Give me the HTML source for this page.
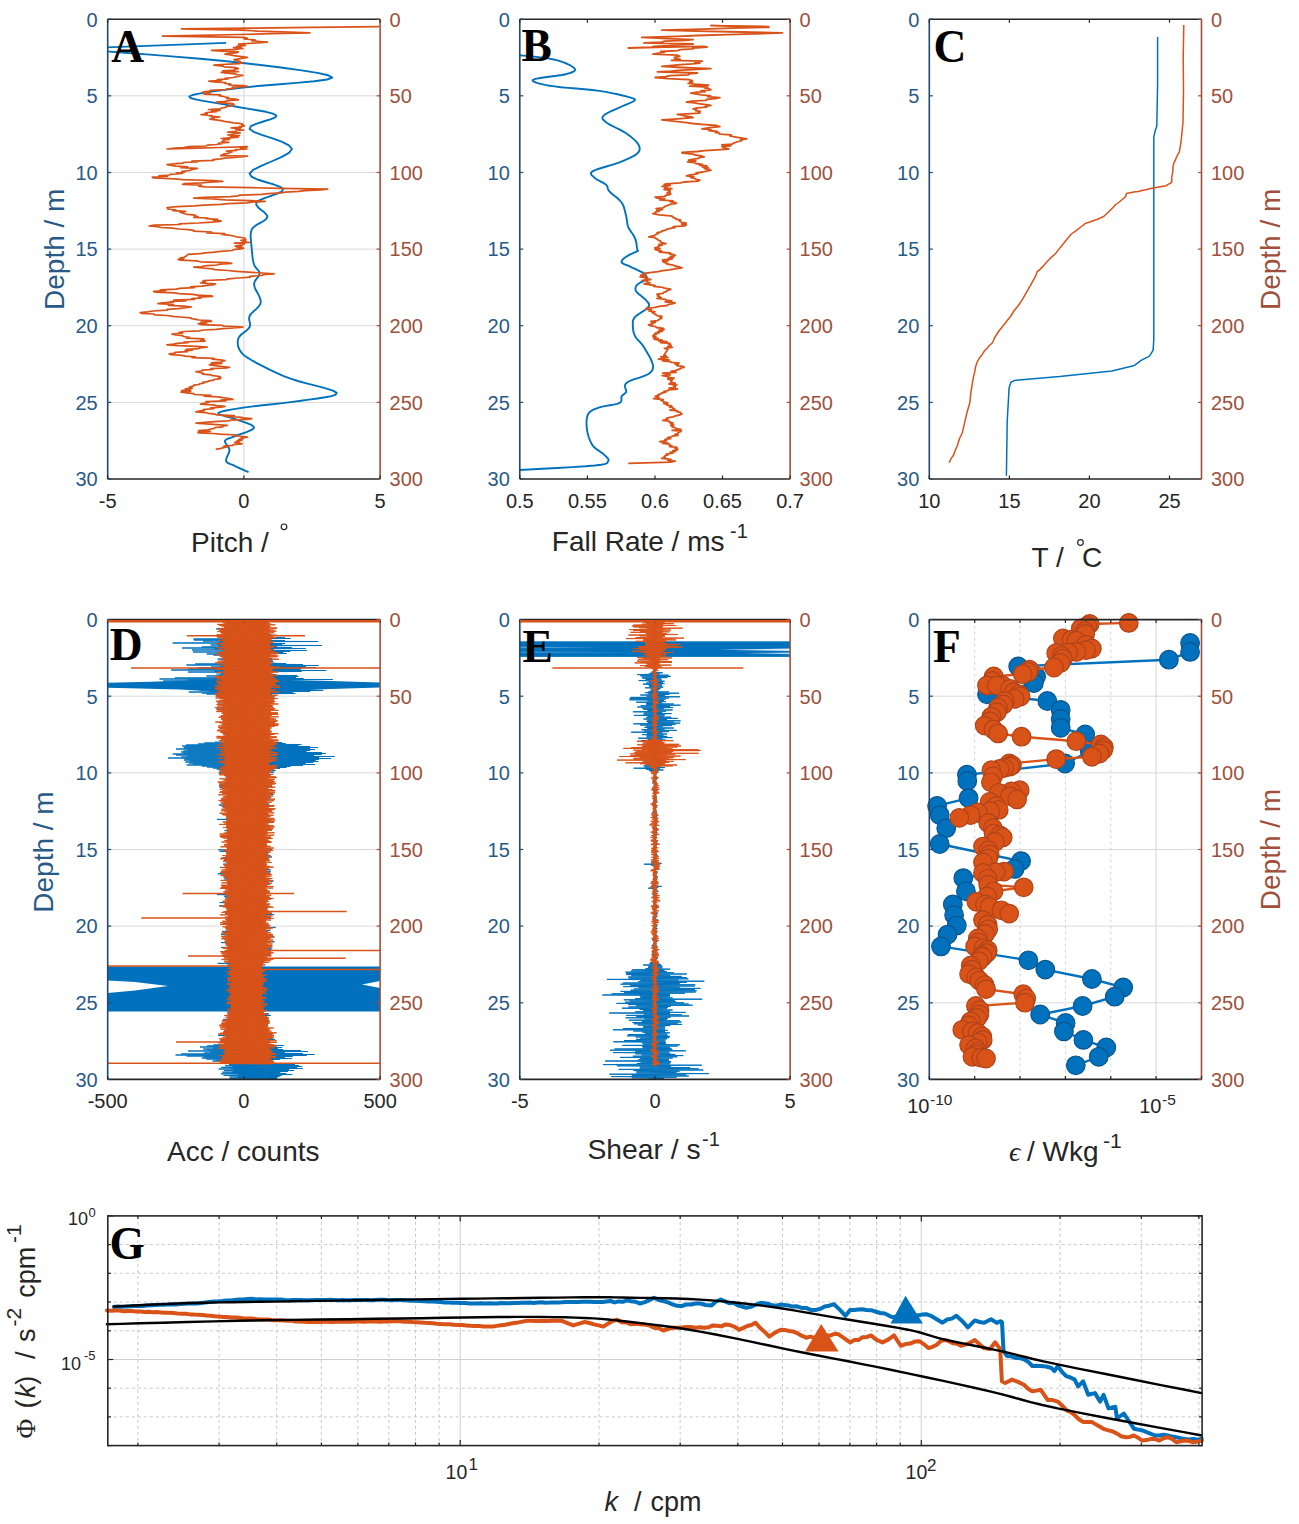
<!DOCTYPE html><html><head><meta charset="utf-8"><style>html,body{margin:0;padding:0;background:#fff;overflow:hidden;width:1299px;height:1524px;}svg{display:block;}</style></head><body><svg width="1299" height="1524" viewBox="0 0 1299 1524" font-family="Liberation Sans, sans-serif">
<rect width="1299" height="1524" fill="#fff"/>
<defs><clipPath id="cA"><rect x="107.7" y="19.2" width="272.4" height="459.8"/></clipPath><clipPath id="cB"><rect x="519.8" y="19.2" width="270.3" height="459.8"/></clipPath><clipPath id="cC"><rect x="929.3" y="19.2" width="272.2" height="459.8"/></clipPath></defs>
<line x1="107.7" y1="95.8" x2="380.1" y2="95.8" stroke="#d9d9d9" stroke-width="1"/><line x1="107.7" y1="172.5" x2="380.1" y2="172.5" stroke="#d9d9d9" stroke-width="1"/><line x1="107.7" y1="249.1" x2="380.1" y2="249.1" stroke="#d9d9d9" stroke-width="1"/><line x1="107.7" y1="325.7" x2="380.1" y2="325.7" stroke="#d9d9d9" stroke-width="1"/><line x1="107.7" y1="402.4" x2="380.1" y2="402.4" stroke="#d9d9d9" stroke-width="1"/><line x1="243.9" y1="19.2" x2="243.9" y2="479.0" stroke="#d4d4d4" stroke-width="1" />
<g clip-path="url(#cA)">
<polyline points="226.1,42.9 66.5,48.9" fill="none" stroke="#0072BD" stroke-width="1.9" stroke-linejoin="round" />
<polyline points="66.5,50.3 69.8,50.3 73.4,50.2 78.1,50.1 84.7,50.2 94.0,50.6 106.7,51.4 124.4,52.7 146.7,54.4 171.7,56.4 197.4,58.5 221.8,60.8 242.9,63.0 262.6,65.3 282.7,67.8 301.6,70.4 317.4,72.9 328.2,75.3 332.2,77.5 327.2,79.5 314.3,81.2 296.5,82.9 276.6,84.5 257.8,86.0 242.9,87.6 230.8,89.1 218.9,90.6 208.0,92.1 198.9,93.6 192.4,95.0 189.3,96.5 190.5,98.0 195.5,99.4 203.1,100.9 212.1,102.4 221.3,103.9 229.5,105.4 237.8,107.0 247.4,108.6 257.1,110.2 266.0,111.8 272.8,113.6 276.4,115.5 275.4,117.4 270.3,119.4 263.3,121.5 256.1,123.8 250.9,126.2 249.6,128.9 253.6,131.8 261.7,134.9 271.8,138.2 281.6,141.7 289.0,145.3 292.0,149.0 289.0,152.9 281.3,157.1 271.4,161.5 261.2,165.8 253.2,169.9 249.6,173.5 251.5,176.7 257.4,179.5 265.4,182.0 273.6,184.4 280.1,186.8 283.1,189.1 281.7,191.5 277.2,193.7 271.1,195.9 264.6,198.1 259.3,200.3 256.3,202.5 256.3,204.9 258.2,207.4 261.2,209.9 264.3,212.3 266.7,214.8 267.4,217.1 266.2,219.1 263.6,221.0 260.3,222.8 256.9,224.7 253.8,226.9 251.8,229.3 250.9,232.3 250.6,235.6 250.7,239.2 251.1,242.8 251.5,246.3 251.8,249.4 252.0,252.3 252.3,255.1 252.6,257.7 253.0,260.2 253.5,262.5 254.1,264.6 254.9,266.4 256.1,267.9 257.3,269.3 258.5,270.6 259.3,271.9 259.6,273.5 259.2,275.1 258.1,276.8 256.8,278.5 255.4,280.4 254.4,282.4 254.1,284.7 254.7,287.3 256.0,290.3 257.8,293.4 259.4,296.6 260.5,299.7 260.8,302.5 259.8,305.0 257.9,307.4 255.6,309.6 253.1,311.8 251.0,313.9 249.6,315.9 249.1,317.9 249.2,319.8 249.6,321.6 250.0,323.4 250.1,325.2 249.6,327.1 248.2,328.9 246.2,330.7 243.9,332.5 241.6,334.3 239.6,336.2 238.4,338.2 237.9,340.4 237.7,342.6 237.9,344.9 238.4,347.2 239.4,349.5 240.7,351.6 242.3,353.6 244.2,355.4 246.5,357.1 249.3,358.8 252.5,360.7 256.3,362.8 260.7,365.2 265.6,367.7 271.1,370.4 277.0,373.1 283.2,375.8 289.8,378.4 297.8,381.0 307.5,383.6 317.5,386.2 326.7,388.6 333.5,390.9 336.7,392.9 335.7,394.6 331.6,396.1 325.2,397.3 317.4,398.5 309.0,399.6 300.9,400.8 292.5,401.9 282.7,403.1 272.5,404.2 262.3,405.3 253.0,406.4 245.1,407.4 238.5,408.4 232.5,409.4 227.3,410.3 223.0,411.2 220.0,412.1 218.3,413.0 218.4,413.9 220.2,414.8 223.2,415.6 226.8,416.5 230.6,417.5 234.0,418.6 237.5,419.9 241.8,421.3 246.2,422.9 250.2,424.4 253.0,426.0 254.1,427.5 252.9,429.1 249.9,430.7 245.8,432.3 241.3,433.8 237.1,435.2 234.0,436.5 231.7,437.4 229.7,438.1 228.0,438.7 226.6,439.3 225.6,440.0 225.0,440.9 225.1,442.1 225.8,443.5 226.9,445.0 228.1,446.6 229.0,448.2 229.5,449.9 229.3,451.7 228.5,453.7 227.6,455.7 226.7,457.7 226.1,459.5 226.1,461.0 226.7,462.1 227.7,462.9 228.9,463.5 230.4,464.1 232.1,464.7 234.0,465.5 236.2,466.6 238.8,467.8 241.7,469.1 244.5,470.4 246.8,471.4 248.5,472.2" fill="none" stroke="#0072BD" stroke-width="1.9" stroke-linejoin="round" />
<polyline points="379.1,26.6 311.6,27.4 249.9,28.1 181.5,28.8 242.9,30.2 257.6,31.1 289.2,32.0 309.9,32.9 271.0,33.7 239.0,34.5 199.1,35.4 162.5,36.2 242.9,37.3 247.2,38.2 244.1,39.0 255.0,39.8 251.8,40.7 259.6,41.5 267.4,42.2 253.6,43.1 238.4,44.0 239.1,44.8 245.6,45.5 236.6,46.3 241.4,47.0 233.5,47.7 242.9,48.5 235.6,49.4 211.6,50.3 221.5,51.1 238.4,51.8 237.1,52.6 229.3,53.3 225.0,54.1 230.6,54.9 234.0,55.7 241.8,56.6 247.4,57.4 242.7,58.2 238.8,58.9 234.0,59.7 236.2,60.5 240.1,61.3 239.2,62.2 242.9,63.0 239.4,63.7 221.4,64.5 213.9,65.2 223.4,66.1 224.2,66.9 235.9,67.7 238.4,68.6 234.6,69.3 234.5,70.1 222.8,70.8 238.4,71.6 221.1,72.3 225.0,73.0 235.2,73.8 236.2,74.5 242.9,75.3 240.0,76.0 235.9,76.8 233.2,77.5 225.0,78.3 228.0,79.0 217.3,79.7 221.4,80.5 208.9,81.2 213.9,82.0 225.7,82.7 225.0,83.5 230.9,84.2 228.9,85.0 243.5,85.7 247.4,86.4 232.4,87.2 235.8,88.0 228.2,88.8 225.1,89.6 210.3,90.4 209.6,91.2 202.7,92.0 205.9,92.7 210.0,93.4 204.1,94.2 220.6,94.9 218.9,95.6 222.6,96.3 225.4,97.0 228.7,97.7 226.5,98.4 235.4,99.1 238.4,99.8 228.5,100.6 225.1,101.3 216.1,102.1 221.8,102.8 232.5,103.6 234.0,104.3 231.4,105.0 232.5,105.8 226.6,106.5 225.6,107.3 221.6,108.0 220.0,108.8 208.6,109.5 220.2,110.3 211.5,111.0 216.6,111.7 207.1,112.5 204.9,113.2 207.3,114.0 201.0,114.7 212.0,115.5 209.8,116.2 219.9,117.0 212.1,117.7 214.1,118.4 209.8,119.2 216.1,119.9 221.3,120.7 224.4,121.4 229.5,122.2 233.9,122.9 241.2,123.7 242.9,124.4 241.8,125.1 244.4,125.8 239.8,126.5 241.6,127.2 231.2,127.9 240.5,128.6 235.3,129.3 243.8,130.0 236.3,130.7 236.0,131.4 227.8,132.2 240.2,132.9 233.3,133.6 233.3,134.3 227.7,135.0 239.5,135.7 230.7,136.4 238.2,137.1 229.5,137.8 221.2,138.5 229.5,139.3 223.7,140.0 223.6,140.8 222.0,141.5 228.8,142.3 218.7,143.0 221.8,143.7 216.1,144.5 207.5,145.2 205.6,146.0 188.7,146.7 184.0,147.5 175.0,148.2 167.0,149.0 198.1,148.2 220.5,147.5 247.4,146.7 245.5,147.5 240.4,148.2 247.0,149.0 235.3,149.7 236.7,150.4 226.5,151.2 232.0,151.9 229.5,152.7 227.8,153.4 223.5,154.2 222.8,154.9 220.6,155.7 247.4,156.1 240.5,156.8 235.0,157.5 224.6,158.2 220.7,158.9 212.9,159.6 214.1,160.3 191.9,161.1 197.3,161.8 183.1,162.5 183.1,163.2 173.6,163.9 167.0,164.6 171.5,165.3 175.9,166.1 187.7,166.8 180.7,167.6 197.6,168.3 193.8,169.1 190.4,169.8 190.4,170.5 181.9,171.3 184.9,172.0 176.3,172.8 182.7,173.5 170.3,174.3 169.4,175.0 159.0,175.8 167.4,176.5 152.3,177.2 153.6,178.0 175.0,178.8 182.8,179.7 212.9,180.5 222.8,181.3 209.2,182.1 201.4,182.8 184.8,183.6 182.7,184.4 201.5,185.2 198.6,186.1 204.9,186.9 251.2,187.7 280.3,188.4 327.7,189.1 320.4,189.9 304.7,190.6 299.0,191.4 285.3,192.1 281.1,192.9 268.2,193.6 261.6,194.4 239.5,195.1 238.4,195.8 230.3,196.6 204.2,197.3 193.8,198.1 212.8,198.9 224.9,199.8 250.1,200.6 265.2,201.4 251.5,202.2 246.8,202.9 228.3,203.7 220.9,204.4 203.8,205.2 194.5,205.9 177.5,206.7 167.0,207.5 169.6,208.2 167.4,209.0 175.6,209.8 172.8,210.6 185.6,211.4 179.9,212.1 182.6,212.9 184.8,213.7 187.4,214.4 195.2,215.1 194.3,215.8 198.0,216.5 193.8,217.3 207.9,218.0 206.1,218.7 217.8,219.4 213.3,220.1 221.0,220.8 220.6,221.5 208.4,222.3 198.2,223.0 179.2,223.8 180.3,224.5 154.2,225.2 149.1,226.0 157.7,226.7 161.3,227.5 172.2,228.2 178.8,229.0 188.3,229.7 193.8,230.4 193.4,231.2 211.5,232.0 206.7,232.8 224.8,233.6 221.9,234.4 228.4,235.2 234.0,236.0 236.1,236.8 241.9,237.5 245.1,238.3 244.5,239.0 245.8,239.7 241.0,240.4 245.8,241.1 242.9,241.8 249.5,242.5 234.4,243.2 244.3,244.0 242.4,244.7 242.1,245.4 235.2,246.1 241.6,246.8 237.0,247.5 243.6,248.2 240.7,248.9 233.3,249.7 232.6,250.5 220.6,251.3 214.0,252.1 205.6,252.8 200.5,253.6 187.8,254.4 187.1,255.2 186.5,255.9 185.0,256.6 184.2,257.3 180.0,258.0 183.8,258.7 178.1,259.4 180.4,260.1 196.8,260.9 200.4,261.8 227.1,262.6 231.7,263.4 220.2,264.2 216.8,265.0 207.2,265.7 201.6,266.5 193.8,267.2 202.3,268.0 212.5,268.8 214.9,269.6 227.9,270.5 236.2,271.3 248.3,272.2 262.4,273.0 274.1,273.9 262.9,274.7 262.0,275.5 249.6,276.3 250.4,277.2 238.4,278.0 228.3,278.8 225.9,279.6 204.4,280.5 202.7,281.3 205.5,282.1 200.6,283.0 215.5,283.8 213.9,284.7 207.1,285.4 202.0,286.1 190.6,286.9 194.4,287.6 179.3,288.4 176.3,289.1 160.2,289.9 165.7,290.6 153.6,291.4 155.3,292.1 174.6,292.8 179.1,293.6 192.6,294.3 197.6,295.1 211.6,295.8 212.6,296.5 198.5,297.2 201.4,297.9 191.8,298.7 194.4,299.4 173.8,300.1 186.1,300.8 170.4,301.5 173.2,302.2 162.2,302.9 158.0,303.6 173.7,304.5 168.4,305.3 184.1,306.1 191.5,307.0 184.2,307.8 178.4,308.6 167.1,309.4 167.2,310.2 153.0,311.0 147.5,311.8 140.2,312.6 141.2,313.3 153.6,314.0 154.8,314.8 167.2,315.5 172.9,316.3 180.4,317.0 190.9,317.8 190.7,318.5 196.1,319.3 199.1,320.0 210.8,320.7 211.6,321.5 201.0,322.2 206.7,323.0 198.2,323.7 201.4,324.6 222.5,325.4 223.7,326.2 242.9,327.1 233.3,327.8 223.2,328.6 216.1,329.3 203.6,330.0 199.0,330.8 184.8,331.5 179.2,332.4 182.5,333.2 172.0,334.1 175.9,334.9 182.6,335.7 183.5,336.5 189.4,337.3 186.3,338.1 203.8,338.9 200.5,339.7 204.9,340.5 204.9,341.2 183.9,342.0 188.1,342.7 177.0,343.4 173.6,344.2 167.0,344.9 178.1,345.7 195.8,346.4 207.2,347.2 200.0,347.9 198.7,348.7 186.1,349.4 192.4,350.1 184.9,350.9 187.4,351.6 175.1,352.4 175.3,353.1 169.2,353.9 171.4,354.6 181.6,355.4 185.5,356.1 195.3,356.8 192.1,357.6 214.0,358.3 212.1,359.1 220.6,359.8 225.0,360.6 222.3,361.3 221.3,362.1 211.5,362.8 221.8,363.5 210.2,364.3 209.4,365.0 216.8,365.8 222.6,366.5 229.5,367.3 227.0,368.0 210.7,368.7 212.8,369.5 202.0,370.2 201.6,371.0 196.0,371.7 199.3,372.5 203.4,373.3 202.6,374.1 210.8,374.9 212.6,375.7 220.2,376.5 220.6,377.3 218.3,378.0 220.6,378.7 213.8,379.5 213.7,380.2 209.0,380.9 207.4,381.6 202.7,382.3 204.2,383.0 199.4,383.8 199.5,384.5 193.8,385.2 193.9,385.9 191.3,386.6 189.3,387.4 192.3,388.2 185.3,388.9 190.6,389.7 181.7,390.5 190.8,391.3 181.0,392.1 187.1,392.9 193.5,393.7 194.5,394.5 210.9,395.3 204.1,396.1 218.1,396.9 222.7,397.7 229.5,398.5 232.9,399.3 220.9,400.1 226.0,400.9 206.0,401.7 208.9,402.5 204.2,403.3 200.5,404.1 213.1,404.8 216.4,405.6 225.0,406.3 220.9,407.1 210.7,407.9 213.9,408.7 203.1,409.5 204.4,410.3 198.9,411.1 196.0,411.9 206.1,412.7 208.4,413.4 214.9,414.1 216.9,414.9 234.4,415.6 224.8,416.4 239.5,417.1 243.6,417.9 251.8,418.6 247.4,419.4 231.2,420.1 227.8,420.8 214.4,421.6 205.3,422.3 196.0,423.1 206.4,423.8 216.8,424.6 227.3,425.3 221.6,426.1 222.9,426.8 215.0,427.5 214.5,428.3 210.9,429.0 208.2,429.8 198.5,430.5 210.3,431.3 198.2,432.0 198.1,432.8 213.2,433.5 220.5,434.2 236.1,435.0 233.8,435.7 242.9,436.5 247.4,437.2 241.1,438.0 243.1,438.7 238.8,439.4 241.8,440.2 237.0,440.9 239.4,441.7 234.8,442.4 238.4,443.2 242.1,443.9 233.3,444.7 232.6,445.4 223.9,446.1 227.3,446.9 223.3,447.6 221.2,448.4 216.5,449.1 216.1,449.9" fill="none" stroke="#D95319" stroke-width="1.7" stroke-linejoin="round" />
</g>
<line x1="107.7" y1="19.2" x2="380.1" y2="19.2" stroke="#262626" stroke-width="1.6"/>
<line x1="107.7" y1="479.0" x2="380.1" y2="479.0" stroke="#262626" stroke-width="1.6"/>
<line x1="107.7" y1="19.2" x2="107.7" y2="479.0" stroke="#1f4a70" stroke-width="1.6"/>
<line x1="380.1" y1="19.2" x2="380.1" y2="479.0" stroke="#a0503a" stroke-width="1.6"/>
<line x1="107.7" y1="19.2" x2="111.2" y2="19.2" stroke="#1f4a70" stroke-width="1.2"/>
<line x1="376.6" y1="19.2" x2="380.1" y2="19.2" stroke="#a0503a" stroke-width="1.2"/>
<text x="97.7" y="26.5" fill="#285a88" font-size="20" text-anchor="end" >0</text>
<text x="389.6" y="26.5" fill="#a0503a" font-size="20" text-anchor="start" >0</text>
<line x1="107.7" y1="95.8" x2="111.2" y2="95.8" stroke="#1f4a70" stroke-width="1.2"/>
<line x1="376.6" y1="95.8" x2="380.1" y2="95.8" stroke="#a0503a" stroke-width="1.2"/>
<text x="97.7" y="103.1" fill="#285a88" font-size="20" text-anchor="end" >5</text>
<text x="389.6" y="103.1" fill="#a0503a" font-size="20" text-anchor="start" >50</text>
<line x1="107.7" y1="172.5" x2="111.2" y2="172.5" stroke="#1f4a70" stroke-width="1.2"/>
<line x1="376.6" y1="172.5" x2="380.1" y2="172.5" stroke="#a0503a" stroke-width="1.2"/>
<text x="97.7" y="179.8" fill="#285a88" font-size="20" text-anchor="end" >10</text>
<text x="389.6" y="179.8" fill="#a0503a" font-size="20" text-anchor="start" >100</text>
<line x1="107.7" y1="249.1" x2="111.2" y2="249.1" stroke="#1f4a70" stroke-width="1.2"/>
<line x1="376.6" y1="249.1" x2="380.1" y2="249.1" stroke="#a0503a" stroke-width="1.2"/>
<text x="97.7" y="256.4" fill="#285a88" font-size="20" text-anchor="end" >15</text>
<text x="389.6" y="256.4" fill="#a0503a" font-size="20" text-anchor="start" >150</text>
<line x1="107.7" y1="325.7" x2="111.2" y2="325.7" stroke="#1f4a70" stroke-width="1.2"/>
<line x1="376.6" y1="325.7" x2="380.1" y2="325.7" stroke="#a0503a" stroke-width="1.2"/>
<text x="97.7" y="333.0" fill="#285a88" font-size="20" text-anchor="end" >20</text>
<text x="389.6" y="333.0" fill="#a0503a" font-size="20" text-anchor="start" >200</text>
<line x1="107.7" y1="402.4" x2="111.2" y2="402.4" stroke="#1f4a70" stroke-width="1.2"/>
<line x1="376.6" y1="402.4" x2="380.1" y2="402.4" stroke="#a0503a" stroke-width="1.2"/>
<text x="97.7" y="409.7" fill="#285a88" font-size="20" text-anchor="end" >25</text>
<text x="389.6" y="409.7" fill="#a0503a" font-size="20" text-anchor="start" >250</text>
<line x1="107.7" y1="479.0" x2="111.2" y2="479.0" stroke="#1f4a70" stroke-width="1.2"/>
<line x1="376.6" y1="479.0" x2="380.1" y2="479.0" stroke="#a0503a" stroke-width="1.2"/>
<text x="97.7" y="486.3" fill="#285a88" font-size="20" text-anchor="end" >30</text>
<text x="389.6" y="486.3" fill="#a0503a" font-size="20" text-anchor="start" >300</text>
<line x1="107.7" y1="479.0" x2="107.7" y2="475.5" stroke="#262626" stroke-width="1.2"/>
<line x1="107.7" y1="19.2" x2="107.7" y2="22.7" stroke="#262626" stroke-width="1.2"/>
<text x="107.7" y="508.0" fill="#262626" font-size="20" text-anchor="middle" >-5</text>
<line x1="243.9" y1="479.0" x2="243.9" y2="475.5" stroke="#262626" stroke-width="1.2"/>
<line x1="243.9" y1="19.2" x2="243.9" y2="22.7" stroke="#262626" stroke-width="1.2"/>
<text x="243.9" y="508.0" fill="#262626" font-size="20" text-anchor="middle" >0</text>
<line x1="380.1" y1="479.0" x2="380.1" y2="475.5" stroke="#262626" stroke-width="1.2"/>
<line x1="380.1" y1="19.2" x2="380.1" y2="22.7" stroke="#262626" stroke-width="1.2"/>
<text x="380.1" y="508.0" fill="#262626" font-size="20" text-anchor="middle" >5</text>
<text x="111.3" y="61.8" font-family="Liberation Serif" font-weight="bold" font-size="45.5" fill="#000">A</text>
<text x="191.0" y="551.9" fill="#262626" font-size="28" text-anchor="start" >Pitch /</text>
<circle cx="284" cy="526.8" r="2.8" fill="none" stroke="#262626" stroke-width="1.2"/>
<g clip-path="url(#cB)">
<polyline points="505.5,54.7 506.7,54.7 508.2,54.7 510.0,54.7 512.3,54.7 515.3,54.9 518.9,55.2 523.8,55.6 529.8,56.2 536.4,56.9 543.1,57.7 549.3,58.6 554.7,59.7 559.2,60.9 563.6,62.4 567.5,64.0 570.8,65.7 573.3,67.2 574.7,68.6 575.2,69.7 574.7,70.7 573.4,71.7 571.4,72.5 568.8,73.3 565.8,74.2 561.8,75.0 556.6,75.8 550.9,76.5 545.2,77.3 540.3,78.0 536.8,78.6 534.6,79.2 533.2,79.8 532.6,80.3 532.7,80.8 533.3,81.4 534.6,82.0 536.3,82.7 538.7,83.4 541.7,84.1 545.3,84.9 549.6,85.7 554.7,86.4 560.8,87.2 568.2,87.9 576.3,88.5 584.5,89.3 592.4,90.0 599.3,90.9 605.6,91.9 611.8,93.1 617.5,94.3 622.7,95.5 627.1,96.7 630.6,97.6 632.9,98.3 634.3,98.9 635.0,99.4 635.0,99.8 634.6,100.3 633.9,101.0 632.8,101.7 631.2,102.5 629.1,103.4 626.7,104.3 624.2,105.4 621.6,106.5 618.7,107.9 615.3,109.3 611.8,110.9 608.4,112.5 605.6,114.1 603.8,115.5 602.8,116.7 602.4,117.7 602.5,118.7 603.2,119.7 604.4,120.8 606.0,122.2 608.4,123.8 611.7,125.6 615.4,127.5 619.3,129.4 623.0,131.4 626.1,133.3 628.8,135.2 631.3,137.1 633.6,139.1 635.6,140.9 637.2,142.8 638.4,144.5 639.2,146.1 639.6,147.6 639.7,149.1 639.4,150.5 638.6,152.0 637.3,153.4 635.4,154.9 632.9,156.4 629.9,157.9 626.6,159.4 623.1,160.9 619.4,162.4 615.1,163.9 610.1,165.4 604.7,167.0 599.7,168.5 595.5,169.9 592.6,171.3 591.2,172.5 590.9,173.7 591.4,174.8 592.4,175.8 593.6,176.9 594.8,178.0 596.3,179.1 598.2,180.2 600.4,181.3 602.5,182.4 604.5,183.6 606.0,184.7 606.9,185.7 607.4,186.7 607.6,187.8 607.9,188.8 608.4,190.0 609.4,191.4 611.0,193.0 613.1,194.7 615.4,196.5 617.8,198.5 619.9,200.5 621.6,202.5 622.9,204.7 623.8,206.9 624.5,209.2 625.1,211.6 625.6,213.8 626.1,215.9 626.5,217.9 626.8,219.8 627.1,221.7 627.3,223.5 627.7,225.3 628.3,227.1 629.2,229.0 630.4,230.8 631.7,232.7 633.0,234.5 634.1,236.4 635.0,238.3 635.7,240.2 636.2,242.3 636.6,244.4 636.8,246.4 637.1,248.1 637.3,249.4 637.5,250.2 637.8,250.6 638.1,250.6 638.2,250.6 637.9,250.8 637.3,251.2 636.0,251.9 634.1,252.7 632.0,253.7 629.7,254.7 627.7,255.8 626.1,256.7 624.8,257.7 623.6,258.6 622.6,259.6 621.9,260.5 621.5,261.5 621.6,262.3 622.3,263.1 623.5,263.8 625.0,264.5 626.8,265.2 628.7,265.9 630.6,266.8 632.7,267.8 635.1,268.9 637.7,270.1 640.2,271.3 642.3,272.4 644.0,273.5 645.1,274.5 645.9,275.4 646.5,276.4 646.7,277.3 646.6,278.2 646.2,279.1 645.3,280.0 643.8,280.9 641.9,281.8 640.1,282.7 638.4,283.7 637.3,284.7 636.5,285.7 635.9,286.7 635.5,287.8 635.4,288.9 635.6,290.1 636.1,291.4 637.3,292.7 639.0,294.2 641.0,295.8 643.0,297.4 644.8,298.9 646.2,300.3 647.2,301.5 648.1,302.6 648.8,303.6 649.1,304.6 649.0,305.7 648.4,307.0 647.0,308.5 644.7,310.2 642.0,311.9 639.2,313.7 636.8,315.4 635.0,317.0 634.0,318.4 633.3,319.7 632.9,320.9 632.8,322.1 632.8,323.4 632.8,324.8 632.8,326.5 633.0,328.3 633.2,330.2 633.6,332.2 634.2,334.1 635.0,336.0 636.1,337.8 637.5,339.5 639.1,341.2 640.7,342.9 642.4,344.9 644.0,347.2 645.6,349.9 647.4,353.0 649.3,356.2 650.9,359.5 652.2,362.5 652.9,365.0 653.1,367.1 652.9,368.7 652.3,370.2 651.4,371.5 650.1,372.7 648.4,374.0 646.1,375.2 643.0,376.4 639.6,377.6 636.1,378.7 633.0,379.7 630.6,380.7 628.8,381.5 627.5,382.2 626.6,382.9 625.9,383.6 625.4,384.3 625.0,385.1 624.8,386.1 625.1,387.3 625.5,388.5 625.9,389.7 626.2,390.8 626.1,391.8 625.7,392.7 624.9,393.4 624.1,394.1 623.2,394.7 622.3,395.4 621.6,396.3 621.3,397.3 621.4,398.4 621.5,399.6 621.4,400.8 620.8,402.0 619.4,403.0 617.0,403.8 613.7,404.6 609.9,405.2 606.0,405.9 602.3,406.6 599.3,407.4 596.8,408.3 594.6,409.2 592.5,410.1 590.8,411.2 589.3,412.5 588.1,414.1 587.3,416.2 586.8,418.7 586.5,421.4 586.5,424.2 586.7,427.1 587.0,429.8 587.5,432.5 588.2,435.2 589.0,438.0 590.1,440.7 591.3,443.2 592.6,445.4 594.2,447.3 596.2,449.0 598.3,450.4 600.3,451.8 602.2,453.1 603.8,454.3 605.1,455.6 606.4,456.8 607.5,458.0 608.3,459.0 608.6,460.1 608.2,461.0 607.8,461.9 607.4,462.7 606.6,463.4 604.6,464.1 600.9,464.8 594.8,465.5 585.2,466.3 572.1,467.1 557.3,468.0 542.4,468.8 529.1,469.5 518.9,470.0 512.1,470.3 507.4,470.4 504.1,470.5 502.0,470.4 500.4,470.4 498.8,470.4" fill="none" stroke="#0072BD" stroke-width="1.9" stroke-linejoin="round" />
<polyline points="769.0,26.6 710.9,25.7 769.0,27.3 730.8,28.2 702.6,29.2 661.8,30.2 696.8,31.1 742.4,32.0 782.4,32.9 754.3,33.8 727.6,34.6 697.2,35.5 678.0,36.4 641.7,37.3 661.6,38.4 693.1,39.6 685.1,40.4 664.9,41.2 661.6,42.1 644.0,42.9 693.1,44.0 679.9,44.8 669.4,45.6 654.0,46.4 652.1,47.2 628.3,48.0 666.3,47.2 704.2,46.3 707.2,47.1 692.8,48.0 693.0,48.9 680.2,49.7 677.6,50.6 660.7,51.5 664.3,52.3 658.6,53.2 652.9,54.1 677.6,55.2 679.7,56.3 674.3,57.4 675.2,58.5 680.2,59.4 671.5,60.3 702.3,61.2 694.7,62.1 699.8,63.0 692.3,63.8 680.6,64.7 672.3,65.5 661.8,66.4 681.7,67.5 710.9,68.6 697.8,69.4 678.3,70.3 670.8,71.1 657.4,71.9 697.5,73.0 688.8,73.9 688.6,74.8 670.4,75.7 665.4,76.6 655.1,77.5 668.0,78.6 688.6,79.7 692.3,80.6 689.8,81.5 692.6,82.4 688.2,83.3 695.3,84.2 708.6,85.1 689.7,86.1 707.7,87.0 704.6,87.9 709.5,88.9 710.9,89.8 701.1,90.6 705.4,91.5 695.8,92.3 690.8,93.1 697.1,94.0 701.3,94.9 710.6,95.8 707.6,96.7 719.9,97.6 715.4,98.5 706.5,99.4 706.2,100.3 691.6,101.2 686.4,102.1 694.7,102.9 698.3,103.7 706.1,104.6 710.9,105.4 705.4,106.3 706.6,107.1 697.5,107.9 693.1,108.8 696.4,109.7 695.6,110.6 700.2,111.5 698.4,112.3 699.8,113.2 677.4,114.4 681.7,115.2 684.7,116.0 691.4,116.9 693.1,117.7 677.4,118.8 661.8,119.9 670.9,120.8 677.7,121.7 686.3,122.6 692.8,123.5 702.0,124.4 716.4,125.5 719.9,126.6 709.7,127.7 702.0,128.9 710.9,129.7 708.8,130.6 717.5,131.5 715.2,132.3 719.5,133.2 719.7,134.1 731.2,134.9 729.8,135.8 733.3,136.7 740.3,137.8 746.7,138.9 740.5,139.8 741.8,140.6 738.2,141.5 735.7,142.4 733.0,143.3 732.4,144.1 721.8,145.0 730.8,145.9 722.1,146.7 724.1,147.8 728.8,149.0 717.1,149.8 704.9,150.6 697.2,151.5 681.9,152.3 682.4,153.2 693.1,154.1 695.1,155.0 701.2,155.9 704.2,156.8 699.2,157.6 698.6,158.4 692.2,159.3 688.6,160.1 695.8,161.0 687.6,161.8 694.3,162.6 695.7,163.5 702.4,164.3 699.4,165.1 706.9,166.0 702.1,166.8 708.1,167.7 704.4,168.5 709.3,169.3 710.9,170.2 706.5,171.1 703.0,172.0 696.1,173.0 697.3,173.9 690.4,174.8 686.4,175.8 693.7,176.6 690.8,177.5 694.7,178.4 696.1,179.3 699.8,180.2 698.4,181.1 683.8,182.0 680.5,182.9 666.2,183.8 664.1,184.7 670.2,185.5 662.0,186.3 666.8,187.1 664.6,187.9 671.9,188.7 664.1,189.6 670.1,190.4 668.3,191.2 670.2,192.0 667.1,192.8 670.8,193.6 669.8,194.5 665.4,195.4 665.5,196.3 655.2,197.2 657.4,198.1 664.6,199.0 659.8,199.9 673.0,200.8 670.1,201.6 675.2,202.5 676.5,203.4 670.0,204.3 668.6,205.2 665.7,206.1 664.1,207.0 663.1,207.8 656.1,208.7 662.5,209.5 656.9,210.4 659.2,211.2 655.6,212.0 655.8,212.9 652.9,213.7 659.1,214.8 670.8,215.9 672.9,216.7 673.3,217.6 675.8,218.4 675.9,219.2 680.5,220.0 679.2,220.8 680.7,221.6 681.7,222.4 686.2,223.2 681.7,224.1 686.4,224.9 684.8,225.8 673.2,226.7 675.0,227.5 670.3,228.4 666.3,229.3 665.8,230.2 661.9,231.0 661.4,231.8 657.1,232.7 658.5,233.5 656.0,234.4 655.1,235.2 652.9,236.0 648.7,236.9 655.1,237.7 655.6,238.5 657.7,239.4 658.3,240.2 660.5,241.1 660.5,241.9 661.8,242.7 666.0,243.6 658.8,244.4 662.0,245.2 658.4,246.1 658.7,246.9 654.8,247.8 660.1,248.6 655.1,249.4 657.7,250.3 661.9,251.2 659.5,252.1 670.6,253.0 669.2,253.9 673.9,254.7 675.2,255.6 670.5,256.5 673.2,257.3 668.5,258.1 672.1,259.0 662.6,259.8 668.5,260.7 662.9,261.5 664.1,262.3 667.6,263.3 667.0,264.2 673.5,265.1 674.7,266.0 679.6,267.0 681.9,267.9 675.1,268.8 669.3,269.8 662.7,270.7 658.2,271.6 650.0,272.6 644.0,273.5 644.3,274.3 640.9,275.2 645.4,276.1 640.1,276.9 647.6,277.8 645.3,278.6 650.8,279.5 642.0,280.4 647.5,281.2 647.3,282.1 650.0,282.9 644.0,283.8 648.4,284.7 654.9,285.5 653.8,286.4 662.7,287.3 664.2,288.2 670.8,289.1 669.4,290.0 666.6,290.8 666.4,291.6 663.3,292.5 663.2,293.3 657.0,294.1 659.2,295.0 657.4,295.8 658.9,296.7 661.1,297.6 656.9,298.4 665.7,299.3 666.0,300.2 671.8,301.0 665.1,301.9 675.1,302.8 673.0,303.6 667.9,304.6 667.1,305.5 659.1,306.4 655.2,307.4 646.3,308.3 646.2,309.2 651.6,310.0 648.8,310.8 655.0,311.6 651.9,312.5 653.7,313.3 654.7,314.1 656.3,314.9 657.4,315.7 661.9,316.5 660.0,317.3 661.8,318.1 660.3,319.0 658.3,319.8 657.3,320.7 650.8,321.5 655.4,322.3 651.7,323.2 652.7,324.0 648.4,324.8 650.0,325.7 655.7,326.6 656.3,327.5 663.3,328.4 664.1,329.3 659.0,330.1 662.6,331.0 657.7,331.8 659.6,332.7 654.9,333.5 656.4,334.3 653.4,335.2 652.9,336.0 655.9,336.8 653.3,337.6 658.1,338.4 654.3,339.3 662.3,340.1 658.4,340.9 666.9,341.7 660.4,342.5 670.1,343.3 668.2,344.1 670.8,344.9 671.0,345.8 667.6,346.6 672.3,347.4 664.4,348.3 668.0,349.1 667.4,350.0 666.9,350.8 666.3,351.6 665.7,352.5 665.2,353.3 664.9,354.1 664.0,355.0 666.1,355.8 660.9,356.7 667.9,357.5 661.8,358.3 658.4,359.1 669.0,360.0 662.6,360.8 669.9,361.6 671.7,362.4 679.1,363.2 674.9,364.0 678.2,364.8 676.8,365.6 683.0,366.4 684.1,367.3 680.3,368.1 680.2,368.9 677.2,369.8 675.2,370.6 671.0,371.4 676.1,372.3 662.7,373.1 666.3,374.0 670.2,374.8 662.2,375.6 668.6,376.5 668.1,377.3 674.1,378.1 667.7,379.0 672.7,379.8 670.7,380.7 671.5,381.5 670.7,382.3 675.4,383.2 669.0,384.0 676.8,384.8 673.5,385.7 675.4,386.5 675.2,387.4 669.1,388.2 677.4,389.0 668.5,389.8 668.1,390.6 664.0,391.4 665.8,392.2 661.8,393.0 660.8,393.8 658.0,394.7 659.0,395.5 655.1,396.3 656.3,397.1 659.1,397.9 653.4,398.7 663.1,399.5 660.9,400.3 663.3,401.2 663.6,402.0 667.9,402.8 663.9,403.6 667.4,404.4 666.9,405.2 671.7,406.0 669.2,406.8 672.9,407.7 672.9,408.5 675.2,409.3 669.9,410.1 677.6,410.9 676.9,411.7 680.6,412.5 680.6,413.3 681.9,414.1 679.6,415.0 675.5,415.9 673.0,416.8 668.7,417.7 666.3,418.6 667.7,419.4 662.7,420.3 669.2,421.1 669.1,422.0 672.9,422.8 670.5,423.6 673.5,424.5 670.7,425.3 673.8,426.1 672.2,427.0 675.5,427.8 676.0,428.7 680.9,429.5 672.1,430.3 681.4,431.2 679.7,432.0 678.1,432.8 677.8,433.6 675.0,434.4 678.1,435.3 672.3,436.1 671.3,436.9 667.5,437.7 670.5,438.5 665.0,439.3 666.7,440.1 664.1,440.9 659.8,441.7 667.6,442.6 662.5,443.4 669.7,444.2 669.0,445.0 672.0,445.8 669.7,446.6 677.0,447.4 674.8,448.2 677.7,449.1 677.4,449.9 672.8,450.7 675.4,451.5 670.0,452.4 672.8,453.2 666.2,454.1 668.0,454.9 665.3,455.7 664.1,456.6 665.2,457.5 661.6,458.4 671.0,459.4 667.8,460.3 675.2,461.2 670.8,462.1 628.3,463.3" fill="none" stroke="#D95319" stroke-width="1.8" stroke-linejoin="round" />
</g>
<line x1="519.8" y1="19.2" x2="790.1" y2="19.2" stroke="#262626" stroke-width="1.6"/>
<line x1="519.8" y1="479.0" x2="790.1" y2="479.0" stroke="#262626" stroke-width="1.6"/>
<line x1="519.8" y1="19.2" x2="519.8" y2="479.0" stroke="#1f4a70" stroke-width="1.6"/>
<line x1="790.1" y1="19.2" x2="790.1" y2="479.0" stroke="#a0503a" stroke-width="1.6"/>
<line x1="519.8" y1="19.2" x2="523.3" y2="19.2" stroke="#1f4a70" stroke-width="1.2"/>
<line x1="786.6" y1="19.2" x2="790.1" y2="19.2" stroke="#a0503a" stroke-width="1.2"/>
<text x="509.8" y="26.5" fill="#285a88" font-size="20" text-anchor="end" >0</text>
<text x="799.6" y="26.5" fill="#a0503a" font-size="20" text-anchor="start" >0</text>
<line x1="519.8" y1="95.8" x2="523.3" y2="95.8" stroke="#1f4a70" stroke-width="1.2"/>
<line x1="786.6" y1="95.8" x2="790.1" y2="95.8" stroke="#a0503a" stroke-width="1.2"/>
<text x="509.8" y="103.1" fill="#285a88" font-size="20" text-anchor="end" >5</text>
<text x="799.6" y="103.1" fill="#a0503a" font-size="20" text-anchor="start" >50</text>
<line x1="519.8" y1="172.5" x2="523.3" y2="172.5" stroke="#1f4a70" stroke-width="1.2"/>
<line x1="786.6" y1="172.5" x2="790.1" y2="172.5" stroke="#a0503a" stroke-width="1.2"/>
<text x="509.8" y="179.8" fill="#285a88" font-size="20" text-anchor="end" >10</text>
<text x="799.6" y="179.8" fill="#a0503a" font-size="20" text-anchor="start" >100</text>
<line x1="519.8" y1="249.1" x2="523.3" y2="249.1" stroke="#1f4a70" stroke-width="1.2"/>
<line x1="786.6" y1="249.1" x2="790.1" y2="249.1" stroke="#a0503a" stroke-width="1.2"/>
<text x="509.8" y="256.4" fill="#285a88" font-size="20" text-anchor="end" >15</text>
<text x="799.6" y="256.4" fill="#a0503a" font-size="20" text-anchor="start" >150</text>
<line x1="519.8" y1="325.7" x2="523.3" y2="325.7" stroke="#1f4a70" stroke-width="1.2"/>
<line x1="786.6" y1="325.7" x2="790.1" y2="325.7" stroke="#a0503a" stroke-width="1.2"/>
<text x="509.8" y="333.0" fill="#285a88" font-size="20" text-anchor="end" >20</text>
<text x="799.6" y="333.0" fill="#a0503a" font-size="20" text-anchor="start" >200</text>
<line x1="519.8" y1="402.4" x2="523.3" y2="402.4" stroke="#1f4a70" stroke-width="1.2"/>
<line x1="786.6" y1="402.4" x2="790.1" y2="402.4" stroke="#a0503a" stroke-width="1.2"/>
<text x="509.8" y="409.7" fill="#285a88" font-size="20" text-anchor="end" >25</text>
<text x="799.6" y="409.7" fill="#a0503a" font-size="20" text-anchor="start" >250</text>
<line x1="519.8" y1="479.0" x2="523.3" y2="479.0" stroke="#1f4a70" stroke-width="1.2"/>
<line x1="786.6" y1="479.0" x2="790.1" y2="479.0" stroke="#a0503a" stroke-width="1.2"/>
<text x="509.8" y="486.3" fill="#285a88" font-size="20" text-anchor="end" >30</text>
<text x="799.6" y="486.3" fill="#a0503a" font-size="20" text-anchor="start" >300</text>
<line x1="519.8" y1="479.0" x2="519.8" y2="475.5" stroke="#262626" stroke-width="1.2"/>
<line x1="519.8" y1="19.2" x2="519.8" y2="22.7" stroke="#262626" stroke-width="1.2"/>
<text x="519.8" y="508.0" fill="#262626" font-size="20" text-anchor="middle" >0.5</text>
<line x1="587.4" y1="479.0" x2="587.4" y2="475.5" stroke="#262626" stroke-width="1.2"/>
<line x1="587.4" y1="19.2" x2="587.4" y2="22.7" stroke="#262626" stroke-width="1.2"/>
<text x="587.4" y="508.0" fill="#262626" font-size="20" text-anchor="middle" >0.55</text>
<line x1="655.0" y1="479.0" x2="655.0" y2="475.5" stroke="#262626" stroke-width="1.2"/>
<line x1="655.0" y1="19.2" x2="655.0" y2="22.7" stroke="#262626" stroke-width="1.2"/>
<text x="655.0" y="508.0" fill="#262626" font-size="20" text-anchor="middle" >0.6</text>
<line x1="722.5" y1="479.0" x2="722.5" y2="475.5" stroke="#262626" stroke-width="1.2"/>
<line x1="722.5" y1="19.2" x2="722.5" y2="22.7" stroke="#262626" stroke-width="1.2"/>
<text x="722.5" y="508.0" fill="#262626" font-size="20" text-anchor="middle" >0.65</text>
<line x1="790.1" y1="479.0" x2="790.1" y2="475.5" stroke="#262626" stroke-width="1.2"/>
<line x1="790.1" y1="19.2" x2="790.1" y2="22.7" stroke="#262626" stroke-width="1.2"/>
<text x="790.1" y="508.0" fill="#262626" font-size="20" text-anchor="middle" >0.7</text>
<text x="521.5" y="61.3" font-family="Liberation Serif" font-weight="bold" font-size="45.5" fill="#000">B</text>
<text x="551.8" y="551.4" fill="#262626" font-size="28" text-anchor="start" >Fall Rate / ms</text>
<text x="730.0" y="538.0" fill="#262626" font-size="20" text-anchor="start" >-1</text>
<g clip-path="url(#cC)">
<polyline points="1157.6,36.9 1157.6,84.8 1156.8,126.0 1155.0,131.6 1153.8,137.2 1153.8,339.2 1153.1,350.4 1149.4,356.1 1141.9,359.8 1134.4,365.4 1111.9,371.0 1059.6,376.6 1014.7,380.4 1010.9,382.2 1009.1,387.9 1007.2,421.5 1006.4,475.8" fill="none" stroke="#0072BD" stroke-width="1.5" stroke-linejoin="round" />
<polyline points="1183.8,25.0 1183.2,57.4 1183.5,89.8 1183.0,122.2 1182.0,132.2 1181.0,142.2 1179.3,152.2 1177.7,154.7 1176.5,157.2 1175.5,159.6 1174.3,162.1 1173.5,164.6 1172.9,167.1 1172.8,172.1 1171.7,177.1 1171.8,182.1 1170.0,183.3 1167.7,184.6 1166.2,185.8 1160.3,186.8 1154.9,187.8 1149.4,188.8 1146.0,189.7 1142.0,190.6 1138.1,191.4 1133.8,192.1 1130.4,192.7 1126.9,193.3 1125.9,194.6 1126.1,195.8 1125.0,197.1 1122.3,199.5 1119.2,202.0 1115.7,204.5 1112.3,208.3 1108.5,212.0 1104.5,215.8 1102.5,217.0 1099.8,218.3 1097.0,219.5 1093.0,220.7 1089.9,222.0 1085.8,223.2 1080.8,227.0 1076.1,230.7 1070.8,234.5 1068.4,237.6 1065.7,240.7 1063.3,243.8 1060.7,246.9 1058.2,250.1 1055.8,253.2 1051.9,256.9 1047.9,260.7 1044.6,264.4 1042.5,266.9 1040.0,269.4 1037.1,271.9 1035.2,276.9 1032.4,281.9 1029.6,286.8 1026.0,293.1 1022.5,299.3 1018.4,305.5 1014.2,310.5 1011.2,315.5 1007.2,320.5 1003.4,325.5 999.3,330.5 996.0,335.5 994.4,338.0 993.5,340.5 992.2,343.0 989.4,345.5 987.2,347.9 984.8,350.4 982.4,354.2 979.6,357.9 977.3,361.7 975.6,366.7 974.8,371.6 973.5,376.6 972.0,385.4 970.7,394.1 969.8,402.8 966.9,412.8 964.6,422.8 962.3,432.7 959.3,439.0 957.5,445.2 954.8,451.5 953.5,455.2 950.9,458.9 949.2,462.7" fill="none" stroke="#D95319" stroke-width="1.5" stroke-linejoin="round" />
</g>
<line x1="929.3" y1="19.2" x2="1201.5" y2="19.2" stroke="#262626" stroke-width="1.6"/>
<line x1="929.3" y1="479.0" x2="1201.5" y2="479.0" stroke="#262626" stroke-width="1.6"/>
<line x1="929.3" y1="19.2" x2="929.3" y2="479.0" stroke="#1f4a70" stroke-width="1.6"/>
<line x1="1201.5" y1="19.2" x2="1201.5" y2="479.0" stroke="#a0503a" stroke-width="1.6"/>
<line x1="929.3" y1="19.2" x2="932.8" y2="19.2" stroke="#1f4a70" stroke-width="1.2"/>
<line x1="1198.0" y1="19.2" x2="1201.5" y2="19.2" stroke="#a0503a" stroke-width="1.2"/>
<text x="919.3" y="26.5" fill="#285a88" font-size="20" text-anchor="end" >0</text>
<text x="1211.0" y="26.5" fill="#a0503a" font-size="20" text-anchor="start" >0</text>
<line x1="929.3" y1="95.8" x2="932.8" y2="95.8" stroke="#1f4a70" stroke-width="1.2"/>
<line x1="1198.0" y1="95.8" x2="1201.5" y2="95.8" stroke="#a0503a" stroke-width="1.2"/>
<text x="919.3" y="103.1" fill="#285a88" font-size="20" text-anchor="end" >5</text>
<text x="1211.0" y="103.1" fill="#a0503a" font-size="20" text-anchor="start" >50</text>
<line x1="929.3" y1="172.5" x2="932.8" y2="172.5" stroke="#1f4a70" stroke-width="1.2"/>
<line x1="1198.0" y1="172.5" x2="1201.5" y2="172.5" stroke="#a0503a" stroke-width="1.2"/>
<text x="919.3" y="179.8" fill="#285a88" font-size="20" text-anchor="end" >10</text>
<text x="1211.0" y="179.8" fill="#a0503a" font-size="20" text-anchor="start" >100</text>
<line x1="929.3" y1="249.1" x2="932.8" y2="249.1" stroke="#1f4a70" stroke-width="1.2"/>
<line x1="1198.0" y1="249.1" x2="1201.5" y2="249.1" stroke="#a0503a" stroke-width="1.2"/>
<text x="919.3" y="256.4" fill="#285a88" font-size="20" text-anchor="end" >15</text>
<text x="1211.0" y="256.4" fill="#a0503a" font-size="20" text-anchor="start" >150</text>
<line x1="929.3" y1="325.7" x2="932.8" y2="325.7" stroke="#1f4a70" stroke-width="1.2"/>
<line x1="1198.0" y1="325.7" x2="1201.5" y2="325.7" stroke="#a0503a" stroke-width="1.2"/>
<text x="919.3" y="333.0" fill="#285a88" font-size="20" text-anchor="end" >20</text>
<text x="1211.0" y="333.0" fill="#a0503a" font-size="20" text-anchor="start" >200</text>
<line x1="929.3" y1="402.4" x2="932.8" y2="402.4" stroke="#1f4a70" stroke-width="1.2"/>
<line x1="1198.0" y1="402.4" x2="1201.5" y2="402.4" stroke="#a0503a" stroke-width="1.2"/>
<text x="919.3" y="409.7" fill="#285a88" font-size="20" text-anchor="end" >25</text>
<text x="1211.0" y="409.7" fill="#a0503a" font-size="20" text-anchor="start" >250</text>
<line x1="929.3" y1="479.0" x2="932.8" y2="479.0" stroke="#1f4a70" stroke-width="1.2"/>
<line x1="1198.0" y1="479.0" x2="1201.5" y2="479.0" stroke="#a0503a" stroke-width="1.2"/>
<text x="919.3" y="486.3" fill="#285a88" font-size="20" text-anchor="end" >30</text>
<text x="1211.0" y="486.3" fill="#a0503a" font-size="20" text-anchor="start" >300</text>
<line x1="929.3" y1="479.0" x2="929.3" y2="475.5" stroke="#262626" stroke-width="1.2"/>
<line x1="929.3" y1="19.2" x2="929.3" y2="22.7" stroke="#262626" stroke-width="1.2"/>
<text x="929.3" y="508.0" fill="#262626" font-size="20" text-anchor="middle" >10</text>
<line x1="1009.4" y1="479.0" x2="1009.4" y2="475.5" stroke="#262626" stroke-width="1.2"/>
<line x1="1009.4" y1="19.2" x2="1009.4" y2="22.7" stroke="#262626" stroke-width="1.2"/>
<text x="1009.4" y="508.0" fill="#262626" font-size="20" text-anchor="middle" >15</text>
<line x1="1089.4" y1="479.0" x2="1089.4" y2="475.5" stroke="#262626" stroke-width="1.2"/>
<line x1="1089.4" y1="19.2" x2="1089.4" y2="22.7" stroke="#262626" stroke-width="1.2"/>
<text x="1089.4" y="508.0" fill="#262626" font-size="20" text-anchor="middle" >20</text>
<line x1="1169.5" y1="479.0" x2="1169.5" y2="475.5" stroke="#262626" stroke-width="1.2"/>
<line x1="1169.5" y1="19.2" x2="1169.5" y2="22.7" stroke="#262626" stroke-width="1.2"/>
<text x="1169.5" y="508.0" fill="#262626" font-size="20" text-anchor="middle" >25</text>
<text x="933.5" y="62.0" font-family="Liberation Serif" font-weight="bold" font-size="45.5" fill="#000">C</text>
<text x="1031.5" y="567.4" fill="#262626" font-size="28" text-anchor="start" >T /</text>
<circle cx="1080.5" cy="542.5" r="2.8" fill="none" stroke="#262626" stroke-width="1.2"/>
<text x="1082.0" y="567.4" fill="#262626" font-size="28" text-anchor="start" >C</text>
<text x="0" y="0" fill="#a0503a" font-size="28" text-anchor="middle" transform="translate(1280.3,249.4) rotate(-90)">Depth / m</text>
<text x="0" y="0" fill="#285a88" font-size="28" text-anchor="middle" transform="translate(64.3,249.3) rotate(-90)">Depth / m</text>
<defs><clipPath id="cD"><rect x="107.7" y="619.6" width="272.4" height="459.8"/></clipPath><clipPath id="cE"><rect x="519.8" y="619.6" width="270.3" height="459.8"/></clipPath><clipPath id="cF"><rect x="929.3" y="619.6" width="272.2" height="459.8"/></clipPath></defs>
<line x1="107.7" y1="696.2" x2="380.1" y2="696.2" stroke="#d9d9d9" stroke-width="1"/><line x1="107.7" y1="772.9" x2="380.1" y2="772.9" stroke="#d9d9d9" stroke-width="1"/><line x1="107.7" y1="849.5" x2="380.1" y2="849.5" stroke="#d9d9d9" stroke-width="1"/><line x1="107.7" y1="926.1" x2="380.1" y2="926.1" stroke="#d9d9d9" stroke-width="1"/><line x1="107.7" y1="1002.8" x2="380.1" y2="1002.8" stroke="#d9d9d9" stroke-width="1"/>
<g clip-path="url(#cD)">
<polyline points="229.3,621.0 264.7,621.8 228.8,622.6 265.5,623.4 226.2,624.2 262.5,625.0 229.5,625.8 270.4,626.6 229.3,627.4 262.7,628.2 216.2,629.0 263.9,629.8 221.6,630.6 264.0,631.4 226.0,632.2 262.5,633.0 226.0,633.8 271.3,634.6 227.6,635.4 268.0,636.2 225.4,637.0 262.5,637.8 223.6,638.6 265.3,639.4 229.1,640.2 262.5,641.0 220.7,641.8 263.9,642.6 224.5,643.4 271.7,644.2 224.6,645.0 273.0,645.8 228.7,646.6 269.4,647.4 228.3,648.2 273.6,649.0 220.3,649.8 262.5,650.6 229.5,651.4 262.6,652.2 217.4,653.0 263.6,653.8 226.2,654.6 262.9,655.4 227.7,656.2 263.3,657.0 228.9,657.8 265.2,658.6 226.8,659.4 272.5,660.2 225.2,661.0 273.3,661.8 221.0,662.6 275.6,663.4 225.4,664.2 262.6,665.0 220.9,665.8 274.6,666.6 219.5,667.4 265.0,668.2 224.6,669.0 262.6,669.8 221.7,670.6 265.0,671.4 229.2,672.2 262.5,673.0 221.1,673.8 275.6,674.6 229.5,675.4 269.4,676.2 228.6,677.0 262.5,677.8 229.2,678.6 268.6,679.4 220.5,680.2 262.5,681.0 226.4,681.8 262.5,682.6 224.5,683.4 263.0,684.2 220.3,685.0 275.2,685.8 227.8,686.6 275.9,687.4 229.1,688.2 262.5,689.0 226.6,689.8 262.5,690.6 229.4,691.4 263.4,692.2 226.4,693.0 262.6,693.8 229.5,694.6 271.3,695.4 229.1,696.2 274.4,697.0 219.8,697.8 263.2,698.6 228.2,699.4 264.4,700.2 225.9,701.0 265.4,701.8 227.1,702.6 265.7,703.4 218.3,704.2 264.3,705.0 228.4,705.8 267.5,706.6 229.3,707.4 262.9,708.2 216.9,709.0 264.4,709.8 227.3,710.6 262.5,711.4 228.5,712.2 265.1,713.0 229.5,713.8 265.7,714.6 226.1,715.4 262.5,716.2 226.2,717.0 263.9,717.8 225.3,718.6 263.1,719.4 224.7,720.2 267.9,721.0 229.5,721.8 262.5,722.6 225.3,723.4 274.6,724.2 229.3,725.0 263.8,725.8 226.7,726.6 262.9,727.4 228.8,728.2 262.9,729.0 228.8,729.8 265.4,730.6 229.1,731.4 263.2,732.2 223.3,733.0 262.5,733.8 227.0,734.6 267.9,735.4 229.1,736.2 262.6,737.0 222.5,737.8 262.7,738.6 229.4,739.4 263.6,740.2 224.9,741.0 262.5,741.8 229.0,742.6 263.0,743.4 221.7,744.2 263.6,745.0 221.0,745.8 262.6,746.6 229.0,747.4 266.2,748.2 220.1,749.0 263.7,749.8 229.3,750.6 262.5,751.4 227.5,752.2 262.6,753.0 222.4,753.8 270.5,754.6 229.4,755.4 262.8,756.2 222.4,757.0 266.1,757.8 222.4,758.6 263.1,759.4 229.5,760.2 262.8,761.0 222.7,761.8 262.8,762.6 228.9,763.4 263.5,764.2 228.5,765.0 263.4,765.8 219.0,766.6 262.6,767.4 229.5,768.2 273.8,769.0 220.3,769.8 275.5,770.6 228.4,771.4 274.1,772.2 218.7,773.0 262.6,773.8 223.9,774.6 270.4,775.4 225.6,776.2 264.4,777.0 229.2,777.8 263.0,778.6 229.3,779.4 262.5,780.2 226.7,781.0 262.8,781.8 222.3,782.6 262.5,783.4 219.5,784.2 267.0,785.0 218.9,785.8 272.2,786.6 219.7,787.4 265.1,788.2 229.5,789.0 268.1,789.8 229.4,790.6 262.9,791.4 225.6,792.2 264.5,793.0 228.5,793.8 273.7,794.6 226.4,795.4 263.0,796.2 229.3,797.0 271.1,797.8 228.0,798.6 269.0,799.4 228.9,800.2 262.6,801.0 227.4,801.8 269.9,802.6 229.4,803.4 269.2,804.2 218.9,805.0 269.6,805.8 222.0,806.6 262.5,807.4 226.1,808.2 271.2,809.0 229.5,809.8 262.8,810.6 229.2,811.4 264.5,812.2 228.5,813.0 263.9,813.8 223.2,814.6 262.5,815.4 229.5,816.2 262.5,817.0 229.5,817.8 262.5,818.6 217.0,819.4 270.9,820.2 229.5,821.0 264.2,821.8 229.1,822.6 262.9,823.4 228.9,824.2 266.2,825.0 226.8,825.8 263.1,826.6 229.4,827.4 263.0,828.2 229.5,829.0 264.8,829.8 224.5,830.6 263.2,831.4 229.5,832.2 262.6,833.0 228.8,833.8 265.5,834.6 223.0,835.4 263.2,836.2 222.6,837.0 265.8,837.8 228.4,838.6 263.2,839.4 227.9,840.2 267.2,841.0 228.5,841.8 267.0,842.6 228.2,843.4 262.7,844.2 227.4,845.0 267.0,845.8 229.5,846.6 263.5,847.4 228.5,848.2 271.7,849.0 218.4,849.8 263.2,850.6 219.7,851.4 269.2,852.2 229.3,853.0 263.8,853.8 229.5,854.6 269.8,855.4 225.6,856.2 271.9,857.0 222.8,857.8 266.5,858.6 224.2,859.4 264.9,860.2 229.5,861.0 265.2,861.8 229.5,862.6 262.5,863.4 223.2,864.2 262.5,865.0 229.5,865.8 262.5,866.6 220.3,867.4 262.6,868.2 229.5,869.0 270.5,869.8 229.5,870.6 270.6,871.4 225.4,872.2 270.4,873.0 217.8,873.8 265.1,874.6 222.6,875.4 262.5,876.2 223.4,877.0 264.3,877.8 224.6,878.6 262.5,879.4 223.8,880.2 273.5,881.0 229.5,881.8 263.0,882.6 227.1,883.4 270.2,884.2 229.3,885.0 262.6,885.8 229.3,886.6 265.7,887.4 223.7,888.2 263.3,889.0 228.8,889.8 263.3,890.6 228.9,891.4 263.5,892.2 229.5,893.0 264.2,893.8 217.1,894.6 263.4,895.4 223.9,896.2 262.6,897.0 225.0,897.8 268.3,898.6 225.4,899.4 264.4,900.2 228.0,901.0 266.1,901.8 219.7,902.6 262.5,903.4 229.5,904.2 268.2,905.0 219.1,905.8 264.4,906.6 228.3,907.4 267.5,908.2 229.4,909.0 262.8,909.8 229.4,910.6 265.2,911.4 229.1,912.2 262.7,913.0 225.0,913.8 274.2,914.6 229.2,915.4 267.2,916.2 228.5,917.0 270.9,917.8 226.8,918.6 262.8,919.4 229.4,920.2 262.5,921.0 228.0,921.8 263.3,922.6 229.4,923.4 263.1,924.2 229.0,925.0 268.8,925.8 229.5,926.6 275.6,927.4 228.0,928.2 265.4,929.0 228.1,929.8 270.3,930.6 222.0,931.4 264.8,932.2 228.0,933.0 267.6,933.8 221.0,934.6 263.4,935.4 224.2,936.2 274.5,937.0 228.1,937.8 262.7,938.6 229.3,939.4 267.5,940.2 225.3,941.0 274.4,941.8 221.1,942.6 262.7,943.4 229.4,944.2 262.7,945.0 229.4,945.8 267.2,946.6 221.0,947.4 272.3,948.2 229.3,949.0 271.2,949.8 229.1,950.6 263.5,951.4 224.3,952.2 262.5,953.0 229.5,953.8 270.3,954.6 229.2,955.4 263.1,956.2 226.9,957.0 266.7,957.8 229.5,958.6 263.0,959.4 228.4,960.2 264.0,961.0 229.4,961.8 265.2,962.6 217.7,963.4 263.3,964.2 227.3,965.0 262.5,965.8 229.2,966.6 266.5,967.4 229.5,968.2 271.9,969.0 219.4,969.8 262.5,970.6 218.2,971.4 263.2,972.2 223.3,973.0 268.4,973.8 229.2,974.6 266.7,975.4 225.7,976.2 269.6,977.0 229.2,977.8 268.3,978.6 217.5,979.4 266.6,980.2 227.4,981.0 262.5,981.8 227.9,982.6 263.1,983.4 224.5,984.2 266.7,985.0 227.0,985.8 262.6,986.6 225.9,987.4 265.9,988.2 229.4,989.0 272.0,989.8 225.7,990.6 262.5,991.4 218.6,992.2 262.5,993.0 229.0,993.8 267.5,994.6 226.6,995.4 264.8,996.2 225.8,997.0 263.8,997.8 229.1,998.6 262.6,999.4 229.5,1000.2 267.5,1001.0 223.7,1001.8 264.7,1002.6 224.0,1003.4 263.1,1004.2 229.2,1005.0 263.3,1005.8 220.5,1006.6 262.5,1007.4 227.8,1008.2 262.7,1009.0 223.4,1009.8 263.1,1010.6 229.0,1011.4 263.4,1012.2 227.4,1013.0 268.7,1013.8 228.9,1014.6 270.7,1015.4 229.5,1016.2 262.8,1017.0 229.5,1017.8 262.5,1018.6 223.1,1019.4 267.7,1020.2 229.4,1021.0 262.6,1021.8 228.5,1022.6 268.0,1023.4 222.2,1024.2 268.2,1025.0 226.7,1025.8 262.5,1026.6 228.6,1027.4 262.6,1028.2 227.5,1029.0 265.0,1029.8 229.4,1030.6 262.7,1031.4 223.1,1032.2 262.5,1033.0 222.5,1033.8 272.1,1034.6 218.0,1035.4 263.3,1036.2 227.2,1037.0 265.2,1037.8 226.1,1038.6 275.1,1039.4 225.1,1040.2 262.9,1041.0 220.9,1041.8 264.0,1042.6 226.6,1043.4 267.7,1044.2 229.5,1045.0 268.7,1045.8 225.6,1046.6 264.1,1047.4 227.6,1048.2 263.8,1049.0 229.4,1049.8 264.5,1050.6 229.5,1051.4 264.2,1052.2 225.9,1053.0 263.7,1053.8 227.1,1054.6 274.4,1055.4 219.9,1056.2 262.5,1057.0 222.8,1057.8 265.8,1058.6 229.5,1059.4 263.1,1060.2 229.3,1061.0 262.5,1061.8 227.4,1062.6 273.4,1063.4 229.0,1064.2 271.4,1065.0 225.0,1065.8 262.5,1066.6 221.0,1067.4 265.4,1068.2 218.7,1069.0 267.5,1069.8 224.0,1070.6 263.0,1071.4 222.4,1072.2 273.4,1073.0 220.9,1073.8 263.6,1074.6 223.6,1075.4 264.0,1076.2 229.5,1077.0 262.5,1077.8 229.5,1078.6 262.6,1079.4" fill="none" stroke="#0072BD" stroke-width="1.0"/>
<polyline points="240.0,634.0 254.2,634.5 230.3,635.0 269.6,635.5 231.3,636.0 259.9,636.5 224.8,637.0 284.7,637.5 223.3,638.0 290.5,638.5 193.4,639.0 269.2,639.5 194.1,640.0 284.7,640.5 203.0,641.0 318.3,641.5 219.4,642.0 268.6,642.5 172.7,643.0 285.0,643.5 217.1,644.0 282.1,644.5 210.6,645.0 322.0,645.5 218.5,646.0 276.9,646.5 201.7,647.0 291.7,647.5 182.1,648.0 305.6,648.5 214.6,649.0 271.4,649.5 191.9,650.0 306.6,650.5 227.0,651.0 289.9,651.5 193.0,652.0 283.2,652.5 223.9,653.0 286.5,653.5 206.8,654.0 263.5,654.5 213.5,655.0 262.6,655.5 232.8,656.0 263.9,656.5 228.1,657.0 263.5,657.5 222.5,658.0 272.2,658.5 217.7,659.0 272.3,659.5 221.1,660.0" fill="none" stroke="#0072BD" stroke-width="1.0"/>
<polygon points="107.7,682.8 150,681.8 190,680.5 215,679.8 246,679 290,680 330,681 380.1,682.5 380.1,687.5 330,689 290,691 246,693 215,691.5 180,689.5 140,688.5 107.7,687.8" fill="#0072BD"/>
<polyline points="234.3,663.0 286.1,663.5 195.1,664.0 302.9,664.5 186.5,665.0 318.7,665.5 221.0,666.0 305.6,666.5 211.2,667.0 316.0,667.5 198.1,668.0 302.0,668.5 188.3,669.0 300.3,669.5 171.1,670.0 326.3,670.5 214.2,671.0 301.5,671.5 188.0,672.0 271.2,672.5 231.0,673.0 269.6,673.5 215.9,674.0" fill="none" stroke="#0072BD" stroke-width="1.0"/>
<polyline points="228.9,674.0 268.2,674.5 218.8,675.0 297.1,675.5 206.5,676.0 298.3,676.5 215.3,677.0 296.0,677.5 174.9,678.0 303.4,678.5 159.6,679.0 333.0,679.5 187.7,680.0 286.0,680.5 163.2,681.0 291.0,681.5 205.8,682.0 327.2,682.5 157.1,683.0 334.4,683.5 149.3,684.0 294.8,684.5 203.0,685.0 290.7,685.5 147.6,686.0 290.3,686.5 199.4,687.0 286.6,687.5 204.4,688.0 285.7,688.5 193.1,689.0 287.6,689.5 199.5,690.0 323.1,690.5 209.6,691.0 310.1,691.5 188.8,692.0 292.7,692.5 201.7,693.0 295.3,693.5 206.6,694.0 271.8,694.5 219.5,695.0 268.3,695.5 222.0,696.0" fill="none" stroke="#0072BD" stroke-width="1.0"/>
<polyline points="214.8,742.0 281.8,742.5 204.3,743.0 285.4,743.5 198.1,744.0 301.3,744.5 186.1,745.0 298.3,745.5 182.1,746.0 310.1,746.5 184.4,747.0 317.9,747.5 183.7,748.0 309.9,748.5 176.0,749.0 314.9,749.5 187.1,750.0 310.1,750.5 183.4,751.0 306.4,751.5 181.1,752.0 321.7,752.5 183.2,753.0 325.8,753.5 172.7,754.0 321.6,754.5 176.1,755.0 313.8,755.5 186.9,756.0 334.6,756.5 181.4,757.0 319.1,757.5 168.1,758.0 330.9,758.5 184.8,759.0 318.9,759.5 183.8,760.0 315.5,760.5 189.6,761.0 318.3,761.5 185.4,762.0 313.2,762.5 188.9,763.0 305.4,763.5 192.9,764.0 315.0,764.5 186.7,765.0 302.7,765.5 201.7,766.0 290.3,766.5 207.0,767.0 286.4,767.5 212.9,768.0 279.8,768.5 216.6,769.0 272.9,769.5 218.6,770.0" fill="none" stroke="#0072BD" stroke-width="1.0"/>
<rect x="107.7" y="966.5" width="272.4" height="45" fill="#0072BD"/>
<polygon points="107.7,980.5 135,982 168,986 135,990.5 107.7,993" fill="#fff"/>
<polygon points="380.1,981 362,984.5 380.1,988" fill="#fff"/>
<polyline points="224.0,1044.0 271.4,1044.5 213.5,1045.0 283.6,1045.5 207.2,1046.0 276.3,1046.5 200.0,1047.0 282.2,1047.5 212.9,1048.0 277.8,1048.5 203.2,1049.0 282.9,1049.5 206.6,1050.0 301.0,1050.5 188.1,1051.0 308.0,1051.5 210.0,1052.0 284.4,1052.5 204.2,1053.0 302.5,1053.5 181.1,1054.0 314.4,1054.5 175.6,1055.0 306.5,1055.5 186.7,1056.0 292.6,1056.5 203.8,1057.0 284.8,1057.5 201.8,1058.0 291.8,1058.5 206.3,1059.0 279.7,1059.5 215.5,1060.0 271.2,1060.5 212.6,1061.0 272.0,1061.5 220.4,1062.0" fill="none" stroke="#0072BD" stroke-width="1.0"/>
<polyline points="230.1,1064.0 295.0,1064.5 229.1,1065.0 298.7,1065.5 233.4,1066.0 302.1,1066.5 232.0,1067.0 297.1,1067.5 231.2,1068.0 302.8,1068.5 235.2,1069.0 288.9,1069.5 233.0,1070.0 294.1,1070.5 233.3,1071.0 287.8,1071.5 232.5,1072.0 280.2,1072.5 234.6,1073.0 286.2,1073.5 238.4,1074.0 292.2,1074.5 238.7,1075.0 281.6,1075.5 238.1,1076.0 279.4,1076.5 239.1,1077.0 277.3,1077.5 236.7,1078.0 277.0,1078.5 239.6,1079.0" fill="none" stroke="#0072BD" stroke-width="1.0"/>
<polyline points="223.9,622.0 268.8,622.4 222.7,622.8 269.0,623.2 224.8,623.6 270.9,624.0 217.0,624.4 275.4,624.8 218.9,625.2 269.5,625.6 221.4,626.0 269.9,626.4 224.2,626.8 268.9,627.2 224.0,627.6 277.2,628.0 218.0,628.4 275.6,628.8 218.4,629.2 269.5,629.6 223.3,630.0 273.5,630.4 219.1,630.8 276.3,631.2 217.3,631.6 268.9,632.0 220.5,632.4 274.1,632.8 221.5,633.2 269.5,633.6 221.8,634.0 269.0,634.4 216.5,634.8 276.6,635.2 221.0,635.6 270.4,636.0 216.8,636.4 273.1,636.8 217.2,637.2 276.5,637.6 221.4,638.0 271.5,638.4 220.5,638.8 271.7,639.2 224.1,639.6 270.6,640.0 218.0,640.4 269.0,640.8 224.6,641.2 273.8,641.6 223.3,642.0 272.8,642.4 221.6,642.8 271.0,643.2 215.5,643.6 269.9,644.0 222.2,644.4 269.9,644.8 219.9,645.2 270.5,645.6 222.6,646.0 275.5,646.4 222.9,646.8 273.2,647.2 216.6,647.6 269.4,648.0 224.4,648.4 270.2,648.8 218.3,649.2 274.0,649.6 223.4,650.0 271.1,650.4 223.8,650.8 272.3,651.2 224.4,651.6 275.0,652.0 216.6,652.4 278.5,652.8 218.6,653.2 278.6,653.6 224.4,654.0 270.8,654.4 215.6,654.8 276.1,655.2 222.0,655.6 278.5,656.0 219.8,656.4 276.8,656.8 222.9,657.2 270.2,657.6 221.6,658.0 269.9,658.4 222.1,658.8 278.9,659.2 222.5,659.6 269.4,660.0 224.2,660.4 270.2,660.8 217.8,661.2 271.7,661.6 222.8,662.0 269.8,662.4 215.2,662.8 272.3,663.2 223.4,663.6 269.7,664.0 224.1,664.4 270.3,664.8 219.0,665.2 270.2,665.6 224.1,666.0 273.1,666.4 223.0,666.8 279.7,667.2 223.8,667.6 273.6,668.0 217.8,668.4 272.3,668.8 215.0,669.2 273.0,669.6 223.0,670.0 272.4,670.4 224.1,670.8 272.5,671.2 222.9,671.6 278.3,672.0 217.0,672.4 273.4,672.8 224.0,673.2 271.1,673.6 222.9,674.0 270.8,674.4 223.0,674.8 278.1,675.2 223.5,675.6 270.0,676.0 215.6,676.4 274.2,676.8 214.7,677.2 272.5,677.6 215.9,678.0 275.3,678.4 217.3,678.8 276.5,679.2 220.7,679.6 270.3,680.0 223.0,680.4 278.4,680.8 215.9,681.2 279.2,681.6 222.1,682.0 275.5,682.4 217.1,682.8 275.4,683.2 216.9,683.6 274.0,684.0 218.9,684.4 276.0,684.8 222.5,685.2 279.3,685.6 215.0,686.0 270.3,686.4 214.7,686.8 279.9,687.2 218.6,687.6 270.3,688.0 215.7,688.4 270.7,688.8 214.7,689.2 275.9,689.6 223.6,690.0 271.0,690.4 218.9,690.8 274.7,691.2 217.6,691.6 279.6,692.0 222.8,692.4 270.3,692.8 215.3,693.2 270.3,693.6 215.9,694.0 270.8,694.4 216.7,694.8 277.6,695.2 215.8,695.6 274.7,696.0 215.8,696.4 271.4,696.8 218.4,697.2 272.4,697.6 215.6,698.0 277.6,698.4 220.5,698.8 274.5,699.2 223.6,699.6 270.6,700.0 219.2,700.4 274.1,700.8 215.9,701.2 275.4,701.6 223.2,702.0 272.7,702.4 217.3,702.8 274.3,703.2 223.7,703.6 278.4,704.0 216.6,704.4 270.6,704.8 220.0,705.2 272.8,705.6 217.2,706.0 272.1,706.4 222.8,706.8 273.8,707.2 214.9,707.6 270.5,708.0 223.5,708.4 275.3,708.8 216.0,709.2 274.0,709.6 221.2,710.0 278.4,710.4 217.5,710.8 270.3,711.2 216.2,711.6 271.0,712.0 222.5,712.4 277.9,712.8 221.5,713.2 277.4,713.6 223.4,714.0 278.4,714.4 223.4,714.8 270.6,715.2 220.9,715.6 272.0,716.0 220.4,716.4 278.7,716.8 218.6,717.2 269.9,717.6 222.6,718.0 274.0,718.4 221.1,718.8 276.0,719.2 221.2,719.6 270.0,720.0 223.2,720.4 277.7,720.8 222.4,721.2 276.6,721.6 215.3,722.0 274.8,722.4 219.2,722.8 274.5,723.2 222.8,723.6 278.5,724.0 221.5,724.4 278.4,724.8 222.9,725.2 277.8,725.6 218.1,726.0 274.4,726.4 221.8,726.8 270.1,727.2 218.3,727.6 271.7,728.0 219.7,728.4 270.0,728.8 224.4,729.2 270.0,729.6 218.0,730.0 270.2,730.4 216.9,730.8 271.7,731.2 220.7,731.6 271.5,732.0 220.3,732.4 269.6,732.8 222.4,733.2 278.4,733.6 224.1,734.0 274.6,734.4 223.1,734.8 270.9,735.2 224.8,735.6 269.3,736.0 216.5,736.4 276.7,736.8 218.4,737.2 276.4,737.6 216.5,738.0 269.8,738.4 220.9,738.8 272.6,739.2 221.1,739.6 278.1,740.0 219.1,740.4 278.5,740.8 224.7,741.2 274.2,741.6 220.1,742.0 275.4,742.4 220.7,742.8 276.5,743.2 223.6,743.6 277.8,744.0 222.8,744.4 273.5,744.8 217.6,745.2 274.7,745.6 223.7,746.0 270.0,746.4 223.6,746.8 273.7,747.2 216.4,747.6 277.2,748.0 223.0,748.4 271.3,748.8 218.8,749.2 270.2,749.6 223.0,750.0 268.8,750.4 224.7,750.8 272.6,751.2 220.3,751.6 273.4,752.0 223.5,752.4 277.7,752.8 221.1,753.2 269.2,753.6 225.3,754.0 277.9,754.4 216.9,754.8 277.1,755.2 221.4,755.6 270.2,756.0 225.3,756.4 269.8,756.8 224.7,757.2 277.1,757.6 218.3,758.0 275.1,758.4 225.2,758.8 269.5,759.2 224.3,759.6 277.3,760.0 225.1,760.4 275.1,760.8 220.8,761.2 272.2,761.6 217.6,762.0 269.6,762.4 222.5,762.8 268.9,763.2 225.5,763.6 268.3,764.0 224.3,764.4 268.7,764.8 225.7,765.2 277.6,765.6 224.5,766.0 276.2,766.4 220.8,766.8 274.1,767.2 221.3,767.6 277.0,768.0 218.8,768.4 273.9,768.8 222.3,769.2 273.6,769.6 220.6,770.0 272.0,770.4 222.9,770.8 268.6,771.2 219.3,771.6 271.2,772.0 225.8,772.4 268.7,772.8 219.0,773.2 269.2,773.6 223.9,774.0 273.3,774.4 219.2,774.8 269.7,775.2 224.0,775.6 270.5,776.0 226.0,776.4 275.6,776.8 226.1,777.2 276.7,777.6 225.6,778.0 268.4,778.4 219.5,778.8 274.8,779.2 225.2,779.6 271.6,780.0 223.4,780.4 273.4,780.8 225.5,781.2 274.7,781.6 217.8,782.0 273.2,782.4 218.7,782.8 276.1,783.2 224.3,783.6 274.9,784.0 219.8,784.4 271.8,784.8 226.0,785.2 272.1,785.6 219.0,786.0 269.1,786.4 221.9,786.8 275.4,787.2 222.4,787.6 267.6,788.0 222.1,788.4 268.7,788.8 219.7,789.2 272.4,789.6 225.0,790.0 275.2,790.4 222.3,790.8 269.2,791.2 220.0,791.6 275.1,792.0 219.4,792.4 275.0,792.8 222.0,793.2 272.7,793.6 222.6,794.0 270.8,794.4 218.3,794.8 269.2,795.2 226.3,795.6 272.8,796.0 223.6,796.4 270.9,796.8 222.7,797.2 268.4,797.6 225.8,798.0 267.4,798.4 220.9,798.8 275.0,799.2 221.8,799.6 267.5,800.0 218.6,800.4 273.9,800.8 223.6,801.2 267.1,801.6 220.3,802.0 271.5,802.4 222.6,802.8 267.1,803.2 221.5,803.6 267.1,804.0 224.0,804.4 267.5,804.8 225.0,805.2 274.5,805.6 221.4,806.0 273.6,806.4 225.5,806.8 269.1,807.2 222.9,807.6 267.0,808.0 224.7,808.4 275.5,808.8 221.5,809.2 274.0,809.6 225.5,810.0 272.0,810.4 221.1,810.8 272.1,811.2 224.5,811.6 267.4,812.0 226.9,812.4 274.2,812.8 219.6,813.2 268.0,813.6 221.6,814.0 269.0,814.4 222.9,814.8 273.5,815.2 225.5,815.6 271.0,816.0 226.0,816.4 269.9,816.8 227.0,817.2 267.8,817.6 225.8,818.0 274.3,818.4 226.7,818.8 272.4,819.2 226.9,819.6 275.2,820.0 226.6,820.4 266.8,820.8 226.3,821.2 274.4,821.6 222.7,822.0 273.8,822.4 224.3,822.8 266.8,823.2 225.6,823.6 269.1,824.0 219.3,824.4 267.0,824.8 226.3,825.2 273.1,825.6 226.9,826.0 274.7,826.4 226.0,826.8 270.0,827.2 223.0,827.6 273.8,828.0 227.1,828.4 273.0,828.8 226.7,829.2 271.5,829.6 227.3,830.0 272.0,830.4 226.7,830.8 267.0,831.2 227.3,831.6 267.8,832.0 225.9,832.4 274.5,832.8 223.6,833.2 268.0,833.6 219.6,834.0 266.7,834.4 226.7,834.8 274.1,835.2 220.1,835.6 270.9,836.0 219.8,836.4 266.1,836.8 220.7,837.2 271.0,837.6 223.2,838.0 272.6,838.4 227.3,838.8 266.7,839.2 227.2,839.6 268.7,840.0 224.4,840.4 269.3,840.8 225.9,841.2 271.3,841.6 221.6,842.0 271.5,842.4 227.6,842.8 266.3,843.2 226.8,843.6 266.8,844.0 224.3,844.4 266.5,844.8 223.8,845.2 267.4,845.6 226.0,846.0 270.7,846.4 220.5,846.8 266.4,847.2 226.1,847.6 273.9,848.0 227.0,848.4 265.7,848.8 227.1,849.2 271.9,849.6 222.9,850.0 273.2,850.4 225.1,850.8 265.7,851.2 226.5,851.6 270.7,852.0 225.9,852.4 266.0,852.8 226.0,853.2 268.3,853.6 226.1,854.0 268.1,854.4 227.4,854.8 265.6,855.2 222.4,855.6 270.9,856.0 225.7,856.4 265.9,856.8 226.5,857.2 269.1,857.6 221.2,858.0 268.4,858.4 220.3,858.8 268.8,859.2 227.2,859.6 269.7,860.0 224.2,860.4 269.5,860.8 223.0,861.2 265.6,861.6 225.5,862.0 271.6,862.4 227.4,862.8 265.7,863.2 227.2,863.6 266.9,864.0 225.6,864.4 267.1,864.8 223.9,865.2 266.2,865.6 226.2,866.0 270.3,866.4 224.7,866.8 273.5,867.2 220.7,867.6 266.7,868.0 226.3,868.4 268.9,868.8 224.7,869.2 267.5,869.6 221.6,870.0 266.3,870.4 225.3,870.8 265.9,871.2 221.3,871.6 269.5,872.0 220.1,872.4 266.1,872.8 223.1,873.2 269.5,873.6 227.7,874.0 271.8,874.4 221.4,874.8 265.8,875.2 220.7,875.6 271.4,876.0 224.1,876.4 269.0,876.8 226.7,877.2 265.7,877.6 225.2,878.0 272.4,878.4 227.1,878.8 268.3,879.2 226.6,879.6 270.4,880.0 220.5,880.4 272.6,880.8 226.6,881.2 267.9,881.6 227.8,882.0 268.8,882.4 221.6,882.8 272.1,883.2 227.6,883.6 268.0,884.0 227.6,884.4 267.9,884.8 221.0,885.2 266.9,885.6 221.7,886.0 273.4,886.4 222.0,886.8 266.4,887.2 220.9,887.6 273.0,888.0 220.0,888.4 265.6,888.8 227.8,889.2 266.9,889.6 224.9,890.0 267.9,890.4 227.6,890.8 269.9,891.2 223.5,891.6 269.8,892.0 225.0,892.4 269.0,892.8 223.3,893.2 265.7,893.6 225.6,894.0 266.0,894.4 227.5,894.8 271.2,895.2 226.4,895.6 267.3,896.0 226.7,896.4 269.4,896.8 227.5,897.2 269.9,897.6 227.7,898.0 273.4,898.4 227.3,898.8 271.2,899.2 224.7,899.6 267.9,900.0 226.5,900.4 267.4,900.8 222.6,901.2 268.8,901.6 224.7,902.0 266.6,902.4 223.9,902.8 266.2,903.2 225.2,903.6 270.0,904.0 224.7,904.4 269.3,904.8 224.4,905.2 266.3,905.6 220.5,906.0 270.4,906.4 223.0,906.8 273.4,907.2 225.4,907.6 267.2,908.0 226.5,908.4 267.1,908.8 226.5,909.2 267.1,909.6 227.1,910.0 268.4,910.4 226.6,910.8 267.5,911.2 223.6,911.6 267.1,912.0 221.5,912.4 271.6,912.8 226.3,913.2 272.0,913.6 227.2,914.0 265.8,914.4 220.1,914.8 265.7,915.2 227.8,915.6 272.4,916.0 227.8,916.4 270.1,916.8 224.6,917.2 266.5,917.6 226.9,918.0 273.6,918.4 225.9,918.8 266.6,919.2 225.5,919.6 270.9,920.0 226.6,920.4 265.8,920.8 222.3,921.2 265.9,921.6 227.7,922.0 265.6,922.4 220.1,922.8 268.0,923.2 222.9,923.6 269.1,924.0 220.3,924.4 267.3,924.8 226.2,925.2 270.3,925.6 227.8,926.0 267.4,926.4 222.6,926.8 269.2,927.2 225.1,927.6 273.2,928.0 225.6,928.4 270.8,928.8 225.9,929.2 265.8,929.6 225.9,930.0 266.4,930.4 227.8,930.8 266.9,931.2 227.5,931.6 268.2,932.0 222.9,932.4 271.1,932.8 221.3,933.2 267.1,933.6 223.5,934.0 272.6,934.4 225.9,934.8 272.9,935.2 227.5,935.6 273.0,936.0 221.3,936.4 273.7,936.8 221.9,937.2 270.6,937.6 225.6,938.0 270.7,938.4 221.4,938.8 269.3,939.2 224.0,939.6 273.1,940.0 226.6,940.4 267.2,940.8 227.7,941.2 272.5,941.6 223.9,942.0 270.2,942.4 226.9,942.8 266.3,943.2 225.2,943.6 272.5,944.0 226.2,944.4 267.9,944.8 225.7,945.2 272.1,945.6 227.5,946.0 272.4,946.4 227.8,946.8 270.5,947.2 222.6,947.6 268.3,948.0 222.8,948.4 266.8,948.8 227.4,949.2 267.4,949.6 226.7,950.0 270.7,950.4 224.5,950.8 270.1,951.2 220.3,951.6 271.3,952.0 222.3,952.4 273.6,952.8 220.8,953.2 271.0,953.6 226.2,954.0 268.6,954.4 222.7,954.8 271.5,955.2 221.1,955.6 271.0,956.0 223.5,956.4 266.7,956.8 224.0,957.2 266.3,957.6 223.7,958.0 266.2,958.4 227.8,958.8 273.4,959.2 221.5,959.6 267.0,960.0 228.1,960.4 270.7,960.8 224.1,961.2 264.4,961.6 224.8,962.0 268.7,962.4 227.9,962.8 263.2,963.2 231.5,963.6 261.5,964.0 230.2,964.4 265.4,964.8 228.9,965.2 262.1,965.6 227.7,966.0 261.5,966.4 229.1,966.8 261.9,967.2 232.0,967.6 262.0,968.0 227.7,968.4 262.1,968.8 232.0,969.2 263.6,969.6 230.8,970.0 264.3,970.4 229.4,970.8 265.3,971.2 226.7,971.6 262.7,972.0 229.0,972.4 261.7,972.8 231.2,973.2 261.6,973.6 227.2,974.0 262.7,974.4 228.4,974.8 266.8,975.2 230.6,975.6 262.0,976.0 231.3,976.4 263.7,976.8 230.6,977.2 261.5,977.6 227.3,978.0 264.8,978.4 227.1,978.8 266.5,979.2 228.3,979.6 266.3,980.0 228.5,980.4 263.2,980.8 227.6,981.2 267.2,981.6 231.8,982.0 261.8,982.4 231.6,982.8 263.4,983.2 227.2,983.6 263.9,984.0 227.3,984.4 262.9,984.8 229.4,985.2 262.2,985.6 228.9,986.0 262.3,986.4 232.0,986.8 263.1,987.2 229.5,987.6 266.9,988.0 231.1,988.4 267.3,988.8 227.6,989.2 261.8,989.6 227.9,990.0 267.4,990.4 226.3,990.8 265.2,991.2 230.5,991.6 264.0,992.0 228.9,992.4 264.6,992.8 231.5,993.2 266.9,993.6 229.6,994.0 261.5,994.4 231.0,994.8 261.6,995.2 230.1,995.6 261.6,996.0 229.7,996.4 262.4,996.8 227.5,997.2 265.8,997.6 231.5,998.0 266.2,998.4 229.3,998.8 262.3,999.2 226.8,999.6 261.4,1000.0 230.5,1000.4 264.5,1000.8 231.6,1001.2 263.7,1001.6 227.0,1002.0 262.7,1002.4 228.4,1002.8 261.9,1003.2 226.2,1003.6 267.6,1004.0 231.6,1004.4 265.8,1004.8 230.8,1005.2 261.4,1005.6 231.4,1006.0 265.5,1006.4 230.1,1006.8 263.9,1007.2 231.7,1007.6 261.9,1008.0 230.7,1008.4 263.8,1008.8 227.5,1009.2 263.4,1009.6 230.9,1010.0 267.2,1010.4 228.6,1010.8 265.7,1011.2 227.7,1011.6 263.6,1012.0 231.2,1012.4 261.6,1012.8 228.8,1013.2 265.7,1013.6 226.9,1014.0 267.7,1014.4 229.0,1014.8 264.9,1015.2 224.2,1015.6 263.5,1016.0 228.2,1016.4 267.1,1016.8 225.6,1017.2 268.6,1017.6 227.8,1018.0 268.5,1018.4 226.9,1018.8 268.3,1019.2 226.1,1019.6 268.6,1020.0 222.2,1020.4 269.3,1020.8 225.8,1021.2 270.0,1021.6 221.7,1022.0 268.6,1022.4 225.1,1022.8 269.7,1023.2 221.4,1023.6 267.2,1024.0 221.6,1024.4 267.3,1024.8 219.1,1025.2 268.0,1025.6 219.8,1026.0 267.3,1026.4 223.2,1026.8 268.4,1027.2 220.3,1027.6 273.5,1028.0 225.7,1028.4 267.4,1028.8 220.7,1029.2 269.8,1029.6 224.1,1030.0 269.2,1030.4 224.1,1030.8 271.4,1031.2 223.9,1031.6 267.8,1032.0 223.2,1032.4 276.5,1032.8 220.2,1033.2 273.1,1033.6 218.2,1034.0 270.2,1034.4 224.0,1034.8 274.0,1035.2 225.6,1035.6 273.8,1036.0 225.3,1036.4 272.1,1036.8 222.6,1037.2 273.9,1037.6 225.6,1038.0 272.7,1038.4 219.2,1038.8 267.7,1039.2 220.8,1039.6 269.1,1040.0 220.1,1040.4 276.7,1040.8 225.7,1041.2 270.2,1041.6 222.5,1042.0 276.9,1042.4 217.8,1042.8 267.9,1043.2 225.1,1043.6 270.3,1044.0 219.2,1044.4 274.4,1044.8 221.9,1045.2 276.2,1045.6 219.0,1046.0 275.7,1046.4 221.0,1046.8 269.2,1047.2 219.9,1047.6 273.7,1048.0 217.5,1048.4 268.7,1048.8 225.3,1049.2 269.9,1049.6 224.2,1050.0 270.3,1050.4 225.2,1050.8 272.6,1051.2 222.8,1051.6 269.4,1052.0 225.0,1052.4 272.3,1052.8 225.0,1053.2 275.8,1053.6 223.9,1054.0 276.3,1054.4 224.8,1054.8 270.5,1055.2 219.0,1055.6 271.9,1056.0 222.4,1056.4 276.2,1056.8 224.5,1057.2 275.8,1057.6 221.8,1058.0 269.8,1058.4 223.2,1058.8 269.8,1059.2 220.5,1059.6 271.2,1060.0 221.7,1060.4 273.2,1060.8 218.1,1061.2 273.6,1061.6 223.9,1062.0 273.0,1062.4 220.3,1062.8 275.7,1063.2 223.4,1063.6 271.1,1064.0" fill="none" stroke="#D95319" stroke-width="1.0"/>
<line x1="187.0" y1="635.7" x2="305.0" y2="635.7" stroke="#D95319" stroke-width="1.5"/>
<line x1="131.0" y1="668.0" x2="380.1" y2="668.0" stroke="#D95319" stroke-width="1.5"/>
<line x1="182.6" y1="893.6" x2="294.0" y2="893.6" stroke="#D95319" stroke-width="1.5"/>
<line x1="243.0" y1="911.4" x2="346.7" y2="911.4" stroke="#D95319" stroke-width="1.5"/>
<line x1="141.3" y1="918.0" x2="243.0" y2="918.0" stroke="#D95319" stroke-width="1.5"/>
<line x1="243.0" y1="950.5" x2="380.1" y2="950.5" stroke="#D95319" stroke-width="1.5"/>
<line x1="188.0" y1="956.0" x2="243.0" y2="956.0" stroke="#D95319" stroke-width="1.5"/>
<line x1="243.0" y1="958.3" x2="345.6" y2="958.3" stroke="#D95319" stroke-width="1.5"/>
<line x1="107.7" y1="966.1" x2="243.0" y2="966.1" stroke="#D95319" stroke-width="1.5"/>
<line x1="243.0" y1="969.5" x2="380.1" y2="969.5" stroke="#D95319" stroke-width="1.5"/>
<line x1="176.0" y1="1042.0" x2="243.0" y2="1042.0" stroke="#D95319" stroke-width="1.5"/>
<line x1="107.7" y1="1063.3" x2="380.1" y2="1063.3" stroke="#D95319" stroke-width="1.5"/>
</g>
<line x1="107.7" y1="619.6" x2="380.1" y2="619.6" stroke="#262626" stroke-width="1.6"/>
<line x1="107.7" y1="1079.4" x2="380.1" y2="1079.4" stroke="#262626" stroke-width="1.6"/>
<line x1="107.7" y1="619.6" x2="107.7" y2="1079.4" stroke="#1f4a70" stroke-width="1.6"/>
<line x1="380.1" y1="619.6" x2="380.1" y2="1079.4" stroke="#a0503a" stroke-width="1.6"/>
<line x1="107.7" y1="619.6" x2="111.2" y2="619.6" stroke="#1f4a70" stroke-width="1.2"/>
<line x1="376.6" y1="619.6" x2="380.1" y2="619.6" stroke="#a0503a" stroke-width="1.2"/>
<text x="97.7" y="626.9" fill="#285a88" font-size="20" text-anchor="end" >0</text>
<text x="389.6" y="626.9" fill="#a0503a" font-size="20" text-anchor="start" >0</text>
<line x1="107.7" y1="696.2" x2="111.2" y2="696.2" stroke="#1f4a70" stroke-width="1.2"/>
<line x1="376.6" y1="696.2" x2="380.1" y2="696.2" stroke="#a0503a" stroke-width="1.2"/>
<text x="97.7" y="703.5" fill="#285a88" font-size="20" text-anchor="end" >5</text>
<text x="389.6" y="703.5" fill="#a0503a" font-size="20" text-anchor="start" >50</text>
<line x1="107.7" y1="772.9" x2="111.2" y2="772.9" stroke="#1f4a70" stroke-width="1.2"/>
<line x1="376.6" y1="772.9" x2="380.1" y2="772.9" stroke="#a0503a" stroke-width="1.2"/>
<text x="97.7" y="780.2" fill="#285a88" font-size="20" text-anchor="end" >10</text>
<text x="389.6" y="780.2" fill="#a0503a" font-size="20" text-anchor="start" >100</text>
<line x1="107.7" y1="849.5" x2="111.2" y2="849.5" stroke="#1f4a70" stroke-width="1.2"/>
<line x1="376.6" y1="849.5" x2="380.1" y2="849.5" stroke="#a0503a" stroke-width="1.2"/>
<text x="97.7" y="856.8" fill="#285a88" font-size="20" text-anchor="end" >15</text>
<text x="389.6" y="856.8" fill="#a0503a" font-size="20" text-anchor="start" >150</text>
<line x1="107.7" y1="926.1" x2="111.2" y2="926.1" stroke="#1f4a70" stroke-width="1.2"/>
<line x1="376.6" y1="926.1" x2="380.1" y2="926.1" stroke="#a0503a" stroke-width="1.2"/>
<text x="97.7" y="933.4" fill="#285a88" font-size="20" text-anchor="end" >20</text>
<text x="389.6" y="933.4" fill="#a0503a" font-size="20" text-anchor="start" >200</text>
<line x1="107.7" y1="1002.8" x2="111.2" y2="1002.8" stroke="#1f4a70" stroke-width="1.2"/>
<line x1="376.6" y1="1002.8" x2="380.1" y2="1002.8" stroke="#a0503a" stroke-width="1.2"/>
<text x="97.7" y="1010.1" fill="#285a88" font-size="20" text-anchor="end" >25</text>
<text x="389.6" y="1010.1" fill="#a0503a" font-size="20" text-anchor="start" >250</text>
<line x1="107.7" y1="1079.4" x2="111.2" y2="1079.4" stroke="#1f4a70" stroke-width="1.2"/>
<line x1="376.6" y1="1079.4" x2="380.1" y2="1079.4" stroke="#a0503a" stroke-width="1.2"/>
<text x="97.7" y="1086.7" fill="#285a88" font-size="20" text-anchor="end" >30</text>
<text x="389.6" y="1086.7" fill="#a0503a" font-size="20" text-anchor="start" >300</text>
<line x1="107.7" y1="1079.4" x2="107.7" y2="1075.9" stroke="#262626" stroke-width="1.2"/>
<line x1="107.7" y1="619.6" x2="107.7" y2="623.1" stroke="#262626" stroke-width="1.2"/>
<text x="107.7" y="1108.4" fill="#262626" font-size="20" text-anchor="middle" >-500</text>
<line x1="243.9" y1="1079.4" x2="243.9" y2="1075.9" stroke="#262626" stroke-width="1.2"/>
<line x1="243.9" y1="619.6" x2="243.9" y2="623.1" stroke="#262626" stroke-width="1.2"/>
<text x="243.9" y="1108.4" fill="#262626" font-size="20" text-anchor="middle" >0</text>
<line x1="380.1" y1="1079.4" x2="380.1" y2="1075.9" stroke="#262626" stroke-width="1.2"/>
<line x1="380.1" y1="619.6" x2="380.1" y2="623.1" stroke="#262626" stroke-width="1.2"/>
<text x="380.1" y="1108.4" fill="#262626" font-size="20" text-anchor="middle" >500</text>
<line x1="107.7" y1="621.2" x2="380.1" y2="621.2" stroke="#D95319" stroke-width="2.6"/>
<text x="109.8" y="660.3" font-family="Liberation Serif" font-weight="bold" font-size="45.5" fill="#000">D</text>
<text x="167.0" y="1161.0" fill="#262626" font-size="28" text-anchor="start" >Acc / counts</text>
<g clip-path="url(#cE)">
<polyline points="656.6,620.0 652.7,620.6 657.0,621.2 654.1,621.8 657.7,622.4 652.4,623.0 656.3,623.6 653.5,624.2 655.8,624.8 653.9,625.4 657.1,626.0 652.7,626.6 656.6,627.2 654.1,627.8 655.9,628.4 652.0,629.0 656.0,629.6 653.5,630.2 655.9,630.8 653.1,631.4 657.5,632.0 653.8,632.6 656.1,633.2 653.9,633.8 655.8,634.4 653.9,635.0 657.2,635.6 653.9,636.2 657.4,636.8 651.2,637.4 657.0,638.0 654.1,638.6 656.1,639.2 653.9,639.8 655.9,640.4 654.0,641.0 657.7,641.6 653.9,642.2 656.4,642.8 654.1,643.4 657.2,644.0 654.1,644.6 655.8,645.2 653.3,645.8 656.0,646.4 653.5,647.0 656.0,647.6 654.1,648.2 656.8,648.8 653.8,649.4 657.9,650.0 653.8,650.6 656.6,651.2 653.7,651.8 655.8,652.4 654.1,653.0 657.3,653.6 653.0,654.2 656.6,654.8 654.1,655.4 655.8,656.0 653.9,656.6 657.9,657.2 652.1,657.8 656.3,658.4 653.6,659.0 656.1,659.6 653.8,660.2 657.8,660.8 653.6,661.4 655.8,662.0 652.8,662.6 656.1,663.2 652.8,663.8 656.7,664.4 653.8,665.0 656.0,665.6 652.8,666.2 656.0,666.8 653.2,667.4 655.8,668.0 654.0,668.6 656.3,669.2 653.2,669.8 656.1,670.4 652.9,671.0 656.1,671.6 651.4,672.2 662.7,672.8 649.3,673.4 659.6,674.0 637.2,674.6 668.7,675.2 640.3,675.8 670.8,676.4 641.8,677.0 667.3,677.6 642.4,678.2 661.1,678.8 645.7,679.4 661.9,680.0 638.7,680.6 664.6,681.2 648.7,681.8 662.7,682.4 646.2,683.0 664.5,683.6 642.9,684.2 662.0,684.8 648.8,685.4 662.3,686.0 649.4,686.6 663.2,687.2 645.0,687.8 660.5,688.4 650.5,689.0 659.4,689.6 651.1,690.2 658.1,690.8 648.7,691.4 669.0,692.0 644.9,692.6 679.0,693.2 647.8,693.8 669.3,694.4 640.3,695.0 664.9,695.6 646.7,696.2 679.9,696.8 630.4,697.4 668.9,698.0 629.7,698.6 665.5,699.2 629.5,699.8 663.8,700.4 647.4,701.0 665.9,701.6 636.2,702.2 662.2,702.8 646.3,703.4 673.7,704.0 646.3,704.6 680.5,705.2 640.7,705.8 670.0,706.4 637.3,707.0 673.1,707.6 642.3,708.2 663.9,708.8 643.6,709.4 672.6,710.0 647.6,710.6 666.1,711.2 632.9,711.8 662.2,712.4 644.2,713.0 671.6,713.6 643.3,714.2 665.0,714.8 634.1,715.4 663.9,716.0 647.6,716.6 671.3,717.2 646.1,717.8 677.8,718.4 643.4,719.0 666.9,719.6 647.2,720.2 680.5,720.8 646.7,721.4 674.0,722.0 647.7,722.6 680.2,723.2 633.5,723.8 675.5,724.4 639.9,725.0 671.7,725.6 646.1,726.2 662.6,726.8 644.5,727.4 673.8,728.0 647.5,728.6 664.5,729.2 641.5,729.8 676.7,730.4 644.2,731.0 669.0,731.6 631.2,732.2 662.3,732.8 647.2,733.4 667.0,734.0 641.9,734.6 663.5,735.2 646.5,735.8 667.2,736.4 646.6,737.0 672.4,737.6 638.1,738.2 662.4,738.8 648.2,739.4 665.6,740.0 641.3,740.6 659.5,741.2 652.4,741.8 657.2,742.4 647.4,743.0 657.5,743.6 647.0,744.2 661.3,744.8 650.2,745.4 657.7,746.0 650.3,746.6 658.3,747.2 648.2,747.8 661.4,748.4 647.9,749.0 659.7,749.6 648.9,750.2 658.3,750.8 651.3,751.4 662.7,752.0 646.6,752.6 659.0,753.2 649.8,753.8 660.3,754.4 652.1,755.0 658.6,755.6 646.9,756.2 658.1,756.8 652.0,757.4 658.1,758.0 652.2,758.6 658.7,759.2 648.8,759.8 660.0,760.4 651.0,761.0 660.3,761.6 643.7,762.2 661.8,762.8 647.9,763.4 661.7,764.0 648.6,764.6 662.4,765.2 643.6,765.8 660.0,766.4 644.7,767.0 664.8,767.6 633.6,768.2 659.8,768.8 646.1,769.4 663.4,770.0 648.9,770.6 658.2,771.2 651.2,771.8 658.5,772.4 653.7,773.0 656.5,773.6 654.0,774.2 656.3,774.8 654.1,775.4 655.9,776.0 653.8,776.6 655.8,777.2 654.1,777.8 657.6,778.4 652.5,779.0 655.8,779.6 653.6,780.2 656.1,780.8 653.0,781.4 656.0,782.0 652.6,782.6 655.8,783.2 654.1,783.8 657.2,784.4 653.8,785.0 656.2,785.6 653.7,786.2 656.2,786.8 652.5,787.4 655.9,788.0 653.5,788.6 656.2,789.2 652.9,789.8 657.5,790.4 652.9,791.0 656.2,791.6 653.2,792.2 656.9,792.8 654.0,793.4 656.1,794.0 654.1,794.6 655.9,795.2 653.6,795.8 657.1,796.4 653.9,797.0 655.8,797.6 652.5,798.2 656.6,798.8 653.7,799.4 656.3,800.0 653.4,800.6 657.5,801.2 653.5,801.8 656.9,802.4 652.2,803.0 655.8,803.6 652.3,804.2 656.2,804.8 652.8,805.4 656.4,806.0 653.3,806.6 657.2,807.2 654.1,807.8 655.8,808.4 653.6,809.0 656.1,809.6 653.9,810.2 656.5,810.8 652.9,811.4 656.1,812.0 652.0,812.6 657.3,813.2 653.8,813.8 657.3,814.4 654.1,815.0 655.8,815.6 652.4,816.2 657.2,816.8 653.1,817.4 656.6,818.0 653.5,818.6 656.4,819.2 654.0,819.8 656.3,820.4 653.9,821.0 656.3,821.6 653.8,822.2 657.2,822.8 653.1,823.4 656.4,824.0 653.8,824.6 656.8,825.2 653.6,825.8 655.8,826.4 653.4,827.0 656.9,827.6 652.2,828.2 657.5,828.8 652.9,829.4 657.8,830.0 653.1,830.6 657.0,831.2 654.0,831.8 657.5,832.4 652.1,833.0 656.5,833.6 653.8,834.2 656.7,834.8 652.3,835.4 656.1,836.0 653.1,836.6 656.9,837.2 652.4,837.8 656.0,838.4 653.3,839.0 655.9,839.6 652.8,840.2 655.8,840.8 652.6,841.4 656.9,842.0 653.7,842.6 657.6,843.2 653.9,843.8 657.8,844.4 654.1,845.0 656.5,845.6 654.0,846.2 656.6,846.8 653.1,847.4 655.8,848.0 652.6,848.6 656.0,849.2 653.2,849.8 655.9,850.4 652.6,851.0 655.8,851.6 653.8,852.2 655.8,852.8 654.1,853.4 657.0,854.0 652.7,854.6 657.6,855.2 653.3,855.8 655.8,856.4 654.1,857.0 656.1,857.6 653.1,858.2 655.8,858.8 653.5,859.4 655.8,860.0 653.8,860.6 656.3,861.2 651.4,861.8 659.1,862.4 651.3,863.0 661.6,863.6 643.9,864.2 659.6,864.8 651.5,865.4 657.1,866.0 653.9,866.6 657.3,867.2 654.1,867.8 655.9,868.4 654.1,869.0 655.8,869.6 652.0,870.2 656.1,870.8 654.1,871.4 657.9,872.0 652.8,872.6 655.8,873.2 653.7,873.8 656.8,874.4 654.0,875.0 656.2,875.6 654.1,876.2 657.8,876.8 653.1,877.4 656.1,878.0 653.7,878.6 657.5,879.2 652.7,879.8 655.8,880.4 653.7,881.0 657.3,881.6 653.8,882.2 657.0,882.8 654.1,883.4 656.2,884.0 652.0,884.6 656.7,885.2 651.5,885.8 661.8,886.4 650.4,887.0 658.2,887.6 648.2,888.2 656.6,888.8 652.6,889.4 656.6,890.0 654.0,890.6 658.5,891.2 654.0,891.8 655.9,892.4 653.8,893.0 655.8,893.6 652.1,894.2 655.8,894.8 653.2,895.4 656.1,896.0 653.4,896.6 655.9,897.2 654.0,897.8 656.9,898.4 653.6,899.0 655.8,899.6 653.7,900.2 656.6,900.8 654.1,901.4 655.8,902.0 653.5,902.6 656.0,903.2 653.2,903.8 656.1,904.4 653.0,905.0 657.7,905.6 653.9,906.2 658.5,906.8 653.7,907.4 656.4,908.0 652.3,908.6 656.4,909.2 654.1,909.8 656.3,910.4 654.0,911.0 656.1,911.6 653.9,912.2 657.8,912.8 653.9,913.4 657.0,914.0 652.6,914.6 656.1,915.2 654.0,915.8 657.4,916.4 652.4,917.0 656.1,917.6 652.9,918.2 656.0,918.8 652.6,919.4 658.2,920.0 653.4,920.6 656.9,921.2 653.3,921.8 657.7,922.4 654.1,923.0 656.1,923.6 653.7,924.2 657.5,924.8 654.1,925.4 657.3,926.0 652.9,926.6 656.3,927.2 652.9,927.8 657.5,928.4 654.1,929.0 655.9,929.6 653.7,930.2 656.4,930.8 653.7,931.4 656.7,932.0 654.1,932.6 656.8,933.2 653.4,933.8 655.8,934.4 653.6,935.0 657.5,935.6 653.2,936.2 657.1,936.8 653.9,937.4 655.9,938.0 652.4,938.6 656.6,939.2 652.1,939.8 657.1,940.4 654.1,941.0 657.3,941.6 654.1,942.2 656.1,942.8 653.0,943.4 656.2,944.0 653.8,944.6 656.9,945.2 651.7,945.8 656.0,946.4 652.2,947.0 657.5,947.6 654.1,948.2 656.2,948.8 653.4,949.4 655.8,950.0 652.2,950.6 656.3,951.2 652.8,951.8 656.9,952.4 652.0,953.0 656.2,953.6 653.5,954.2 656.2,954.8 653.5,955.4 656.1,956.0 652.3,956.6 657.2,957.2 653.8,957.8 657.7,958.4 653.7,959.0 656.5,959.6 653.9,960.2 655.9,960.8 652.9,961.4 655.8,962.0 649.9,962.6 658.7,963.2 649.6,963.8 660.8,964.4 643.1,965.0 661.5,965.6 648.4,966.2 662.6,966.8 648.1,967.4 662.2,968.0 645.6,968.6 670.2,969.2 632.3,969.8 664.4,970.4 631.0,971.0 667.0,971.6 625.5,972.2 673.7,972.8 626.4,973.4 686.8,974.0 626.0,974.6 670.2,975.2 631.3,975.8 681.7,976.4 628.2,977.0 686.6,977.6 628.7,978.2 688.3,978.8 606.9,979.4 678.5,980.0 640.5,980.6 704.3,981.2 638.1,981.8 686.5,982.4 622.9,983.0 679.6,983.6 620.6,984.2 695.3,984.8 630.1,985.4 694.7,986.0 623.3,986.6 679.7,987.2 638.5,987.8 700.5,988.4 633.9,989.0 694.9,989.6 630.6,990.2 696.7,990.8 620.5,991.4 695.6,992.0 624.2,992.6 685.0,993.2 611.6,993.8 670.0,994.4 602.4,995.0 669.9,995.6 639.9,996.2 669.8,996.8 640.5,997.4 672.6,998.0 635.1,998.6 702.2,999.2 623.8,999.8 674.6,1000.4 629.5,1001.0 675.7,1001.6 625.0,1002.2 684.0,1002.8 616.5,1003.4 688.7,1004.0 628.0,1004.6 692.6,1005.2 636.3,1005.8 670.5,1006.4 628.5,1007.0 667.9,1007.6 622.0,1008.2 666.8,1008.8 639.7,1009.4 672.6,1010.0 643.2,1010.6 669.8,1011.2 635.3,1011.8 685.7,1012.4 609.3,1013.0 670.0,1013.6 643.9,1014.2 681.8,1014.8 626.2,1015.4 689.1,1016.0 636.3,1016.6 670.6,1017.2 625.7,1017.8 667.9,1018.4 644.2,1019.0 666.8,1019.6 628.9,1020.2 679.7,1020.8 641.8,1021.4 681.5,1022.0 632.4,1022.6 677.6,1023.2 633.9,1023.8 682.0,1024.4 637.9,1025.0 670.2,1025.6 642.9,1026.2 665.1,1026.8 643.4,1027.4 665.1,1028.0 623.0,1028.6 665.0,1029.2 612.9,1029.8 667.7,1030.4 633.4,1031.0 665.0,1031.6 642.4,1032.2 669.9,1032.8 645.1,1033.4 666.8,1034.0 628.1,1034.6 667.8,1035.2 627.1,1035.8 669.9,1036.4 635.6,1037.0 669.3,1037.6 640.3,1038.2 667.1,1038.8 636.0,1039.4 665.5,1040.0 624.0,1040.6 665.4,1041.2 613.3,1041.8 665.6,1042.4 642.1,1043.0 665.8,1043.6 643.2,1044.2 679.9,1044.8 622.5,1045.4 677.8,1046.0 642.4,1046.6 669.9,1047.2 642.6,1047.8 671.4,1048.4 614.5,1049.0 672.3,1049.6 610.0,1050.2 685.9,1050.8 635.3,1051.4 668.8,1052.0 613.0,1052.6 670.2,1053.2 635.4,1053.8 675.2,1054.4 641.6,1055.0 683.3,1055.6 632.8,1056.2 677.3,1056.8 620.1,1057.4 672.7,1058.0 640.2,1058.6 668.9,1059.2 638.3,1059.8 669.1,1060.4 605.2,1061.0 671.0,1061.6 640.6,1062.2 670.7,1062.8 636.9,1063.4 669.7,1064.0 603.0,1064.6 701.8,1065.2 616.8,1065.8 670.9,1066.4 639.8,1067.0 690.1,1067.6 639.8,1068.2 698.5,1068.8 618.7,1069.4 703.3,1070.0 633.6,1070.6 679.5,1071.2 636.5,1071.8 676.4,1072.4 636.4,1073.0 709.0,1073.6 609.5,1074.2 686.1,1074.8 631.9,1075.4 688.7,1076.0 611.4,1076.6 676.5,1077.2 631.8,1077.8 663.9,1078.4 648.6,1079.0" fill="none" stroke="#0072BD" stroke-width="1.0"/>
<rect x="519.8" y="641.3" width="270.3" height="15.6" fill="#0072BD"/>
<polygon points="720,649.8 790.1,648.6 790.1,651.0" fill="#fff" opacity="0.85"/>
<polygon points="745,653.2 790.1,652.4 790.1,654.2" fill="#fff" opacity="0.7"/>
<polygon points="519.8,646.5 600,647.5 519.8,648.3" fill="#5da5dc" opacity="0.8"/>
<polygon points="519.8,651.5 640,652.2 519.8,653" fill="#5da5dc" opacity="0.6"/>
<polyline points="676.0,621.0 642.9,621.5 662.5,621.9 643.2,622.4 665.0,622.8 646.2,623.3 673.7,623.7 641.7,624.2 663.1,624.6 633.5,625.1 676.3,625.5 631.9,626.0 662.6,626.4 633.5,626.9 662.6,627.3 639.2,627.8 682.6,628.2 646.8,628.7 664.8,629.1 629.2,629.6 671.0,630.0 633.5,630.5 662.5,630.9 640.1,631.4 669.5,631.8 630.5,632.3 662.6,632.7 645.7,633.2 667.0,633.6 646.7,634.1 678.0,634.5 628.4,635.0 664.5,635.4 639.6,635.9 665.1,636.3 647.2,636.8 662.5,637.2 635.6,637.7 684.0,638.1 626.0,638.6 671.8,639.0 643.6,639.5 676.1,639.9 643.1,640.4 665.7,640.8 635.5,641.3 667.2,641.7 644.4,642.2 662.8,642.6 644.9,643.1 666.6,643.5 646.1,644.0 680.1,644.4 645.9,644.9 667.3,645.3 644.4,645.8 677.3,646.2 637.7,646.7 682.6,647.1 639.3,647.6 666.0,648.0 632.7,648.5 667.3,648.9 639.2,649.4 663.0,649.8 646.9,650.3 665.1,650.7 631.8,651.2 662.7,651.6 640.8,652.1 673.5,652.5 644.3,653.0 661.4,653.4 648.6,653.9 666.6,654.3 643.3,654.8 660.5,655.2 646.6,655.7 666.1,656.1 649.5,656.6 660.2,657.0 637.1,657.5 672.0,657.9 643.1,658.4 660.1,658.8 638.0,659.3 668.2,659.7 649.3,660.2 659.7,660.6 636.9,661.1 671.7,661.5 640.6,662.0 672.0,662.4 634.7,662.9 659.4,663.3 645.8,663.8 659.2,664.2 647.6,664.7 671.3,665.1 639.9,665.6 660.1,666.0 645.0,666.5 662.0,666.9 648.7,667.4 658.8,667.8 651.5,668.3 657.9,668.7 652.7,669.2 657.1,669.6 653.8,670.1 658.4,670.5 653.9,671.0 656.1,671.4 652.2,671.9 656.0,672.3 653.6,672.8 656.3,673.2 653.1,673.7 657.4,674.1 652.1,674.6 657.2,675.0 653.9,675.5 656.3,675.9 653.9,676.4 656.0,676.8 653.9,677.3 656.0,677.7 652.2,678.2 656.8,678.6 653.7,679.1 657.4,679.5 653.9,680.0 656.0,680.4 649.9,680.9 658.4,681.3 652.7,681.8 657.1,682.2 653.4,682.7 658.1,683.1 652.2,683.6 656.9,684.0 652.2,684.5 658.9,684.9 652.6,685.4 656.0,685.8 653.9,686.3 656.0,686.7 653.9,687.2 658.6,687.6 651.0,688.1 656.3,688.5 653.6,689.0 657.9,689.4 653.0,689.9 656.0,690.3 653.9,690.8 656.3,691.2 653.1,691.7 656.5,692.1 653.9,692.6 656.0,693.0 652.1,693.5 658.6,693.9 653.3,694.4 656.9,694.8 651.8,695.3 657.3,695.7 653.4,696.2 658.3,696.6 651.5,697.1 658.1,697.5 653.8,698.0 656.3,698.4 653.2,698.9 656.2,699.3 652.9,699.8 658.5,700.2 653.6,700.7 658.4,701.1 653.2,701.6 656.7,702.0 653.3,702.5 658.9,702.9 653.0,703.4 657.1,703.8 653.9,704.3 656.0,704.7 652.5,705.2 656.6,705.6 652.6,706.1 656.0,706.5 652.7,707.0 656.2,707.4 652.5,707.9 656.0,708.3 652.9,708.8 657.5,709.2 653.9,709.7 656.5,710.1 653.1,710.6 658.8,711.0 651.5,711.5 656.0,711.9 653.9,712.4 656.5,712.8 653.8,713.3 656.3,713.7 653.9,714.2 656.3,714.6 653.9,715.1 656.5,715.5 653.9,716.0 658.0,716.4 653.0,716.9 658.9,717.3 652.7,717.8 656.0,718.2 652.6,718.7 658.9,719.1 653.5,719.6 656.7,720.0 653.2,720.5 656.5,720.9 651.8,721.4 657.5,721.8 652.3,722.3 658.2,722.7 653.2,723.2 656.3,723.6 653.9,724.1 656.3,724.5 652.5,725.0 658.2,725.4 652.5,725.9 656.0,726.3 653.6,726.8 656.0,727.2 653.8,727.7 656.7,728.1 652.8,728.6 656.4,729.0 652.9,729.5 656.1,729.9 651.1,730.4 657.1,730.8 653.8,731.3 658.8,731.7 653.5,732.2 658.9,732.6 651.6,733.1 656.1,733.5 653.7,734.0 656.6,734.4 653.9,734.9 656.7,735.3 653.4,735.8 656.1,736.2 653.6,736.7 658.1,737.1 652.4,737.6 656.6,738.0 651.6,738.5 656.3,738.9 651.7,739.4 658.2,739.8 645.8,740.3 673.4,740.7 636.9,741.2 662.1,741.6 642.7,742.1 664.5,742.5 645.9,743.0 664.2,743.4 642.6,743.9 679.3,744.3 637.2,744.8 677.9,745.2 642.7,745.7 681.0,746.1 641.8,746.6 677.1,747.0 631.3,747.5 668.2,747.9 623.4,748.4 672.5,748.8 641.8,749.3 698.9,749.7 633.4,750.2 700.5,750.6 637.3,751.1 673.2,751.5 635.4,752.0 671.5,752.4 633.8,752.9 698.7,753.3 630.3,753.8 675.1,754.2 635.6,754.7 667.4,755.1 630.4,755.6 680.5,756.0 619.3,756.5 674.8,756.9 639.7,757.4 673.0,757.8 633.6,758.3 668.9,758.7 633.7,759.2 685.6,759.6 617.0,760.1 666.2,760.5 642.5,761.0 673.6,761.4 645.5,761.9 669.2,762.3 625.5,762.8 664.7,763.2 640.0,763.7 665.4,764.1 645.5,764.6 677.1,765.0 649.8,765.5 672.7,765.9 649.8,766.4 659.2,766.8 649.9,767.3 656.7,767.7 652.9,768.2 656.2,768.6 653.0,769.1 657.5,769.5 653.8,770.0 658.5,770.4 653.8,770.9 657.5,771.3 650.5,771.8 657.1,772.2 653.5,772.7 656.6,773.1 651.0,773.6 656.4,774.0 653.6,774.5 656.1,774.9 653.1,775.4 656.2,775.8 652.8,776.3 657.2,776.7 653.3,777.2 658.5,777.6 650.9,778.1 656.2,778.5 653.6,779.0 657.0,779.4 653.3,779.9 656.2,780.3 652.0,780.8 656.3,781.2 653.4,781.7 656.5,782.1 653.8,782.6 657.2,783.0 652.7,783.5 658.0,783.9 653.8,784.4 657.2,784.8 653.7,785.3 659.2,785.7 653.8,786.2 656.4,786.6 653.6,787.1 658.9,787.5 651.9,788.0 657.3,788.4 652.6,788.9 659.4,789.3 651.1,789.8 657.3,790.2 653.8,790.7 656.1,791.1 653.6,791.6 658.5,792.0 653.4,792.5 659.3,792.9 652.5,793.4 657.2,793.8 653.7,794.3 656.1,794.7 653.6,795.2 656.1,795.6 651.8,796.1 656.1,796.5 653.8,797.0 656.5,797.4 653.7,797.9 657.1,798.3 652.6,798.8 657.0,799.2 653.7,799.7 656.1,800.1 653.3,800.6 656.1,801.0 653.5,801.5 657.5,801.9 653.8,802.4 656.2,802.8 652.1,803.3 656.1,803.7 650.5,804.2 656.1,804.6 652.3,805.1 658.0,805.5 653.7,806.0 656.1,806.4 652.5,806.9 656.2,807.3 653.4,807.8 656.2,808.2 652.6,808.7 656.1,809.1 653.4,809.6 656.1,810.0 652.9,810.5 656.9,810.9 653.7,811.4 656.4,811.8 653.5,812.3 656.5,812.7 653.6,813.2 656.2,813.6 651.3,814.1 656.2,814.5 651.5,815.0 658.5,815.4 653.8,815.9 656.5,816.3 652.5,816.8 656.1,817.2 650.6,817.7 658.4,818.1 653.7,818.6 656.2,819.0 652.3,819.5 658.0,819.9 653.8,820.4 657.4,820.8 650.8,821.3 659.2,821.7 652.8,822.2 657.1,822.6 651.8,823.1 657.3,823.5 650.5,824.0 657.1,824.4 649.4,824.9 659.2,825.3 653.8,825.8 656.5,826.2 651.7,826.7 656.1,827.1 653.7,827.6 656.5,828.0 652.1,828.5 658.2,828.9 653.3,829.4 658.9,829.8 653.3,830.3 656.5,830.7 652.4,831.2 656.3,831.6 650.7,832.1 656.3,832.5 653.7,833.0 656.9,833.4 653.4,833.9 659.3,834.3 653.7,834.8 656.9,835.2 650.9,835.7 656.1,836.1 653.8,836.6 656.2,837.0 650.7,837.5 657.3,837.9 653.2,838.4 656.3,838.8 653.8,839.3 656.1,839.7 650.7,840.2 658.1,840.6 651.3,841.1 657.5,841.5 653.8,842.0 656.1,842.4 653.8,842.9 657.0,843.3 651.8,843.8 659.8,844.2 650.8,844.7 656.4,845.1 653.8,845.6 656.1,846.0 653.0,846.5 656.2,846.9 652.8,847.4 658.3,847.8 651.3,848.3 656.4,848.7 651.9,849.2 656.4,849.6 652.3,850.1 658.0,850.5 651.1,851.0 658.8,851.4 651.7,851.9 657.2,852.3 651.5,852.8 656.1,853.2 653.8,853.7 656.1,854.1 651.3,854.6 656.1,855.0 653.6,855.5 657.9,855.9 653.5,856.4 658.9,856.8 651.6,857.3 657.1,857.7 653.4,858.2 659.2,858.6 653.7,859.1 656.5,859.5 650.9,860.0 659.0,860.4 653.4,860.9 657.5,861.3 652.7,861.8 658.2,862.2 653.8,862.7 660.5,863.1 651.4,863.6 657.4,864.0 653.7,864.5 659.4,864.9 653.3,865.4 656.6,865.8 653.4,866.3 660.1,866.7 653.8,867.2 658.4,867.6 653.8,868.1 659.3,868.5 653.7,869.0 659.4,869.4 651.4,869.9 656.1,870.3 650.6,870.8 656.2,871.2 653.6,871.7 657.0,872.1 653.1,872.6 657.2,873.0 653.1,873.5 656.9,873.9 652.7,874.4 656.6,874.8 652.6,875.3 656.2,875.7 653.8,876.2 656.6,876.6 653.2,877.1 658.0,877.5 653.3,878.0 656.3,878.4 653.2,878.9 656.3,879.3 652.9,879.8 657.1,880.2 653.7,880.7 656.4,881.1 651.0,881.6 658.4,882.0 651.5,882.5 658.2,882.9 650.6,883.4 658.7,883.8 653.8,884.3 656.1,884.7 652.3,885.2 657.4,885.6 651.6,886.1 657.0,886.5 651.7,887.0 656.9,887.4 650.9,887.9 656.3,888.3 653.8,888.8 657.2,889.2 652.8,889.7 656.7,890.1 653.2,890.6 656.1,891.0 652.0,891.5 657.4,891.9 652.9,892.4 656.1,892.8 651.8,893.3 658.0,893.7 652.9,894.2 656.8,894.6 653.8,895.1 659.4,895.5 653.8,896.0 656.9,896.4 652.3,896.9 659.3,897.3 651.3,897.8 656.3,898.2 653.7,898.7 658.8,899.1 653.5,899.6 656.5,900.0 653.3,900.5 660.3,900.9 651.6,901.4 656.1,901.8 653.4,902.3 657.4,902.7 653.2,903.2 656.1,903.6 653.8,904.1 656.7,904.5 653.5,905.0 658.5,905.4 651.3,905.9 656.2,906.3 650.9,906.8 659.1,907.2 652.5,907.7 657.6,908.1 652.6,908.6 656.1,909.0 652.0,909.5 656.1,909.9 653.6,910.4 658.9,910.8 653.4,911.3 656.3,911.7 651.6,912.2 656.3,912.6 650.6,913.1 656.2,913.5 653.3,914.0 657.5,914.4 653.8,914.9 657.0,915.3 653.7,915.8 656.1,916.2 652.7,916.7 656.1,917.1 653.1,917.6 656.2,918.0 652.9,918.5 656.1,918.9 652.4,919.4 656.2,919.8 653.8,920.3 658.7,920.7 651.6,921.2 657.2,921.6 653.5,922.1 659.0,922.5 651.7,923.0 656.1,923.4 653.8,923.9 656.8,924.3 653.5,924.8 656.4,925.2 651.4,925.7 656.1,926.1 653.3,926.6 656.2,927.0 653.7,927.5 656.1,927.9 652.8,928.4 656.1,928.8 651.9,929.3 656.6,929.7 652.3,930.2 656.4,930.6 651.7,931.1 658.0,931.5 650.7,932.0 656.1,932.4 653.7,932.9 656.1,933.3 651.5,933.8 656.4,934.2 652.1,934.7 656.2,935.1 653.8,935.6 656.7,936.0 653.1,936.5 658.5,936.9 653.3,937.4 656.8,937.8 651.5,938.3 658.7,938.7 653.8,939.2 656.2,939.6 652.4,940.1 659.1,940.5 653.1,941.0 656.2,941.4 653.8,941.9 656.2,942.3 653.6,942.8 656.8,943.2 653.8,943.7 656.1,944.1 652.5,944.6 656.1,945.0 653.2,945.5 656.1,945.9 653.3,946.4 657.7,946.8 653.4,947.3 657.6,947.7 650.8,948.2 656.6,948.6 653.1,949.1 659.4,949.5 653.1,950.0 657.9,950.4 652.3,950.9 656.4,951.3 651.6,951.8 657.8,952.2 653.5,952.7 656.5,953.1 653.0,953.6 658.9,954.0 651.6,954.5 658.3,954.9 651.8,955.4 658.9,955.8 652.6,956.3 656.2,956.7 651.6,957.2 658.0,957.6 653.7,958.1 656.1,958.5 650.9,959.0 656.1,959.4 649.9,959.9 656.5,960.3 651.1,960.8 658.4,961.2 651.8,961.7 658.4,962.1 651.9,962.6 659.2,963.0 653.6,963.5 656.6,963.9 653.3,964.4 657.0,964.8 653.3,965.3 657.7,965.7 653.8,966.2 656.7,966.6 653.1,967.1 656.6,967.5 651.0,968.0 658.7,968.4 653.2,968.9 657.6,969.3 653.8,969.8 659.1,970.2 653.8,970.7 659.2,971.1 651.8,971.6 656.4,972.0 653.8,972.5 657.3,972.9 652.5,973.4 659.4,973.8 653.5,974.3 656.5,974.7 653.8,975.2 657.9,975.6 653.3,976.1 656.2,976.5 651.7,977.0 656.9,977.4 652.8,977.9 656.3,978.3 652.2,978.8 656.3,979.2 651.5,979.7 656.1,980.1 653.7,980.6 656.2,981.0 653.8,981.5 656.3,981.9 653.2,982.4 657.6,982.8 653.6,983.3 656.8,983.7 653.8,984.2 656.1,984.6 653.6,985.1 658.5,985.5 653.3,986.0 656.3,986.4 651.4,986.9 659.1,987.3 653.8,987.8 657.4,988.2 653.8,988.7 656.6,989.1 652.7,989.6 658.9,990.0 650.9,990.5 657.5,990.9 653.3,991.4 659.1,991.8 653.8,992.3 656.2,992.7 653.1,993.2 656.8,993.6 653.1,994.1 657.9,994.5 653.0,995.0 656.1,995.4 652.0,995.9 659.0,996.3 652.3,996.8 656.1,997.2 652.3,997.7 656.4,998.1 652.5,998.6 659.1,999.0 652.6,999.5 659.1,999.9 652.9,1000.4 656.8,1000.8 653.8,1001.3 656.1,1001.7 653.6,1002.2 656.3,1002.6 652.6,1003.1 656.5,1003.5 652.1,1004.0 656.1,1004.4 653.8,1004.9 657.4,1005.3 653.6,1005.8 656.1,1006.2 653.5,1006.7 657.9,1007.1 653.6,1007.6 657.1,1008.0 650.7,1008.5 656.6,1008.9 653.2,1009.4 656.3,1009.8 652.4,1010.3 656.5,1010.7 653.0,1011.2 657.8,1011.6 652.0,1012.1 656.1,1012.5 653.8,1013.0 656.4,1013.4 653.7,1013.9 657.1,1014.3 652.7,1014.8 657.0,1015.2 653.8,1015.7 658.1,1016.1 653.8,1016.6 659.2,1017.0 653.6,1017.5 658.8,1017.9 653.1,1018.4 657.9,1018.8 651.2,1019.3 657.2,1019.7 652.7,1020.2 656.3,1020.6 652.5,1021.1 659.3,1021.5 653.8,1022.0 658.8,1022.4 653.5,1022.9 659.1,1023.3 653.7,1023.8 656.3,1024.2 651.5,1024.7 656.4,1025.1 653.4,1025.6 656.2,1026.0 651.8,1026.5 659.4,1026.9 653.8,1027.4 658.0,1027.8 653.7,1028.3 656.2,1028.7 653.6,1029.2 656.5,1029.6 652.9,1030.1 656.4,1030.5 652.9,1031.0 656.1,1031.4 653.0,1031.9 656.2,1032.3 653.8,1032.8 658.2,1033.2 651.8,1033.7 656.1,1034.1 653.5,1034.6 657.9,1035.0 652.6,1035.5 656.1,1035.9 653.7,1036.4 656.1,1036.8 653.2,1037.3 656.2,1037.7 653.4,1038.2 656.5,1038.6 652.0,1039.1 656.1,1039.5 653.7,1040.0 656.1,1040.4 653.7,1040.9 656.6,1041.3 652.8,1041.8 659.2,1042.2 653.8,1042.7 657.9,1043.1 651.5,1043.6 656.2,1044.0 652.4,1044.5 656.1,1044.9 650.9,1045.4 656.4,1045.8 653.3,1046.3 657.8,1046.7 652.7,1047.2 656.2,1047.6 653.4,1048.1 656.4,1048.5 653.4,1049.0 656.2,1049.4 650.5,1049.9 658.6,1050.3 650.7,1050.8 656.1,1051.2 653.3,1051.7 658.7,1052.1 653.8,1052.6 657.3,1053.0 652.9,1053.5 659.2,1053.9 653.4,1054.4 656.1,1054.8 653.5,1055.3 657.1,1055.7 651.0,1056.2 656.6,1056.6 652.8,1057.1 657.9,1057.5 653.3,1058.0 658.2,1058.4 653.6,1058.9 656.1,1059.3 652.8,1059.8 656.5,1060.2 653.3,1060.7 658.8,1061.1 651.9,1061.6 657.9,1062.0 653.2,1062.5 659.8,1062.9 653.3,1063.4 659.8,1063.8 653.7,1064.3 656.4,1064.7 652.7,1065.2 656.8,1065.6" fill="none" stroke="#D95319" stroke-width="1.0"/>
<line x1="552.4" y1="668.0" x2="743.3" y2="668.0" stroke="#D95319" stroke-width="1.4"/>
</g>
<line x1="519.8" y1="619.6" x2="790.1" y2="619.6" stroke="#262626" stroke-width="1.6"/>
<line x1="519.8" y1="1079.4" x2="790.1" y2="1079.4" stroke="#262626" stroke-width="1.6"/>
<line x1="519.8" y1="619.6" x2="519.8" y2="1079.4" stroke="#1f4a70" stroke-width="1.6"/>
<line x1="790.1" y1="619.6" x2="790.1" y2="1079.4" stroke="#a0503a" stroke-width="1.6"/>
<line x1="519.8" y1="619.6" x2="523.3" y2="619.6" stroke="#1f4a70" stroke-width="1.2"/>
<line x1="786.6" y1="619.6" x2="790.1" y2="619.6" stroke="#a0503a" stroke-width="1.2"/>
<text x="509.8" y="626.9" fill="#285a88" font-size="20" text-anchor="end" >0</text>
<text x="799.6" y="626.9" fill="#a0503a" font-size="20" text-anchor="start" >0</text>
<line x1="519.8" y1="696.2" x2="523.3" y2="696.2" stroke="#1f4a70" stroke-width="1.2"/>
<line x1="786.6" y1="696.2" x2="790.1" y2="696.2" stroke="#a0503a" stroke-width="1.2"/>
<text x="509.8" y="703.5" fill="#285a88" font-size="20" text-anchor="end" >5</text>
<text x="799.6" y="703.5" fill="#a0503a" font-size="20" text-anchor="start" >50</text>
<line x1="519.8" y1="772.9" x2="523.3" y2="772.9" stroke="#1f4a70" stroke-width="1.2"/>
<line x1="786.6" y1="772.9" x2="790.1" y2="772.9" stroke="#a0503a" stroke-width="1.2"/>
<text x="509.8" y="780.2" fill="#285a88" font-size="20" text-anchor="end" >10</text>
<text x="799.6" y="780.2" fill="#a0503a" font-size="20" text-anchor="start" >100</text>
<line x1="519.8" y1="849.5" x2="523.3" y2="849.5" stroke="#1f4a70" stroke-width="1.2"/>
<line x1="786.6" y1="849.5" x2="790.1" y2="849.5" stroke="#a0503a" stroke-width="1.2"/>
<text x="509.8" y="856.8" fill="#285a88" font-size="20" text-anchor="end" >15</text>
<text x="799.6" y="856.8" fill="#a0503a" font-size="20" text-anchor="start" >150</text>
<line x1="519.8" y1="926.1" x2="523.3" y2="926.1" stroke="#1f4a70" stroke-width="1.2"/>
<line x1="786.6" y1="926.1" x2="790.1" y2="926.1" stroke="#a0503a" stroke-width="1.2"/>
<text x="509.8" y="933.4" fill="#285a88" font-size="20" text-anchor="end" >20</text>
<text x="799.6" y="933.4" fill="#a0503a" font-size="20" text-anchor="start" >200</text>
<line x1="519.8" y1="1002.8" x2="523.3" y2="1002.8" stroke="#1f4a70" stroke-width="1.2"/>
<line x1="786.6" y1="1002.8" x2="790.1" y2="1002.8" stroke="#a0503a" stroke-width="1.2"/>
<text x="509.8" y="1010.1" fill="#285a88" font-size="20" text-anchor="end" >25</text>
<text x="799.6" y="1010.1" fill="#a0503a" font-size="20" text-anchor="start" >250</text>
<line x1="519.8" y1="1079.4" x2="523.3" y2="1079.4" stroke="#1f4a70" stroke-width="1.2"/>
<line x1="786.6" y1="1079.4" x2="790.1" y2="1079.4" stroke="#a0503a" stroke-width="1.2"/>
<text x="509.8" y="1086.7" fill="#285a88" font-size="20" text-anchor="end" >30</text>
<text x="799.6" y="1086.7" fill="#a0503a" font-size="20" text-anchor="start" >300</text>
<line x1="519.8" y1="1079.4" x2="519.8" y2="1075.9" stroke="#262626" stroke-width="1.2"/>
<line x1="519.8" y1="619.6" x2="519.8" y2="623.1" stroke="#262626" stroke-width="1.2"/>
<text x="519.8" y="1108.4" fill="#262626" font-size="20" text-anchor="middle" >-5</text>
<line x1="655.0" y1="1079.4" x2="655.0" y2="1075.9" stroke="#262626" stroke-width="1.2"/>
<line x1="655.0" y1="619.6" x2="655.0" y2="623.1" stroke="#262626" stroke-width="1.2"/>
<text x="655.0" y="1108.4" fill="#262626" font-size="20" text-anchor="middle" >0</text>
<line x1="790.1" y1="1079.4" x2="790.1" y2="1075.9" stroke="#262626" stroke-width="1.2"/>
<line x1="790.1" y1="619.6" x2="790.1" y2="623.1" stroke="#262626" stroke-width="1.2"/>
<text x="790.1" y="1108.4" fill="#262626" font-size="20" text-anchor="middle" >5</text>
<line x1="519.8" y1="621.2" x2="790.1" y2="621.2" stroke="#D95319" stroke-width="2.6"/>
<text x="522.5" y="661.5" font-family="Liberation Serif" font-weight="bold" font-size="45.5" fill="#000">E</text>
<text x="587.5" y="1158.6" fill="#262626" font-size="28.3" text-anchor="start" >Shear / s</text>
<text x="702.0" y="1145.5" fill="#262626" font-size="20" text-anchor="start" >-1</text>
<line x1="929.3" y1="696.2" x2="1201.5" y2="696.2" stroke="#d9d9d9" stroke-width="1"/><line x1="929.3" y1="772.9" x2="1201.5" y2="772.9" stroke="#d9d9d9" stroke-width="1"/><line x1="929.3" y1="849.5" x2="1201.5" y2="849.5" stroke="#d9d9d9" stroke-width="1"/><line x1="929.3" y1="926.1" x2="1201.5" y2="926.1" stroke="#d9d9d9" stroke-width="1"/><line x1="929.3" y1="1002.8" x2="1201.5" y2="1002.8" stroke="#d9d9d9" stroke-width="1"/><line x1="974.7" y1="619.6" x2="974.7" y2="1079.4" stroke="#d4d4d4" stroke-width="1" stroke-dasharray="3,3"/><line x1="1020.0" y1="619.6" x2="1020.0" y2="1079.4" stroke="#d4d4d4" stroke-width="1" stroke-dasharray="3,3"/><line x1="1065.4" y1="619.6" x2="1065.4" y2="1079.4" stroke="#d4d4d4" stroke-width="1" stroke-dasharray="3,3"/><line x1="1110.8" y1="619.6" x2="1110.8" y2="1079.4" stroke="#d4d4d4" stroke-width="1" stroke-dasharray="3,3"/><line x1="1156.1" y1="619.6" x2="1156.1" y2="1079.4" stroke="#d4d4d4" stroke-width="1" />
<g clip-path="url(#cF)">
<polyline points="1190.1,643.0 1190.1,651.9 1168.9,659.7 1018.2,666.4 1036.1,676.4 1033.9,683.1 987.0,694.3 1047.3,701.0 1060.7,709.9 1060.7,718.9 1060.7,727.8 1085.2,734.5 1089.7,751.2 1065.1,763.5 966.9,774.7 967.3,781.0 968.6,798.1 937.1,805.9 939.7,815.1 946.2,828.2 939.7,844.0 1021.1,861.1 1014.5,868.9 963.3,878.1 965.9,891.3 952.8,904.4 954.1,914.9 956.8,925.4 947.6,934.6 941.0,946.4 1028.4,960.3 1045.3,969.6 1091.9,979.0 1123.2,987.4 1114.7,996.7 1082.6,1006.0 1040.2,1014.5 1065.6,1023.0 1063.9,1031.4 1083.4,1039.9 1106.3,1047.5 1098.7,1056.8 1075.8,1065.3" fill="none" stroke="#0072BD" stroke-width="2.4"/>
</g>
<circle cx="1190.1" cy="643.0" r="9.3" fill="#0072BD" stroke="#0a5590" stroke-width="1.2"/>
<circle cx="1190.1" cy="651.9" r="9.3" fill="#0072BD" stroke="#0a5590" stroke-width="1.2"/>
<circle cx="1168.9" cy="659.7" r="9.3" fill="#0072BD" stroke="#0a5590" stroke-width="1.2"/>
<circle cx="1018.2" cy="666.4" r="9.3" fill="#0072BD" stroke="#0a5590" stroke-width="1.2"/>
<circle cx="1036.1" cy="676.4" r="9.3" fill="#0072BD" stroke="#0a5590" stroke-width="1.2"/>
<circle cx="1033.9" cy="683.1" r="9.3" fill="#0072BD" stroke="#0a5590" stroke-width="1.2"/>
<circle cx="987.0" cy="694.3" r="9.3" fill="#0072BD" stroke="#0a5590" stroke-width="1.2"/>
<circle cx="1047.3" cy="701.0" r="9.3" fill="#0072BD" stroke="#0a5590" stroke-width="1.2"/>
<circle cx="1060.7" cy="709.9" r="9.3" fill="#0072BD" stroke="#0a5590" stroke-width="1.2"/>
<circle cx="1060.7" cy="718.9" r="9.3" fill="#0072BD" stroke="#0a5590" stroke-width="1.2"/>
<circle cx="1060.7" cy="727.8" r="9.3" fill="#0072BD" stroke="#0a5590" stroke-width="1.2"/>
<circle cx="1085.2" cy="734.5" r="9.3" fill="#0072BD" stroke="#0a5590" stroke-width="1.2"/>
<circle cx="1089.7" cy="751.2" r="9.3" fill="#0072BD" stroke="#0a5590" stroke-width="1.2"/>
<circle cx="1065.1" cy="763.5" r="9.3" fill="#0072BD" stroke="#0a5590" stroke-width="1.2"/>
<circle cx="966.9" cy="774.7" r="9.3" fill="#0072BD" stroke="#0a5590" stroke-width="1.2"/>
<circle cx="967.3" cy="781.0" r="9.3" fill="#0072BD" stroke="#0a5590" stroke-width="1.2"/>
<circle cx="968.6" cy="798.1" r="9.3" fill="#0072BD" stroke="#0a5590" stroke-width="1.2"/>
<circle cx="937.1" cy="805.9" r="9.3" fill="#0072BD" stroke="#0a5590" stroke-width="1.2"/>
<circle cx="939.7" cy="815.1" r="9.3" fill="#0072BD" stroke="#0a5590" stroke-width="1.2"/>
<circle cx="946.2" cy="828.2" r="9.3" fill="#0072BD" stroke="#0a5590" stroke-width="1.2"/>
<circle cx="939.7" cy="844.0" r="9.3" fill="#0072BD" stroke="#0a5590" stroke-width="1.2"/>
<circle cx="1021.1" cy="861.1" r="9.3" fill="#0072BD" stroke="#0a5590" stroke-width="1.2"/>
<circle cx="1014.5" cy="868.9" r="9.3" fill="#0072BD" stroke="#0a5590" stroke-width="1.2"/>
<circle cx="963.3" cy="878.1" r="9.3" fill="#0072BD" stroke="#0a5590" stroke-width="1.2"/>
<circle cx="965.9" cy="891.3" r="9.3" fill="#0072BD" stroke="#0a5590" stroke-width="1.2"/>
<circle cx="952.8" cy="904.4" r="9.3" fill="#0072BD" stroke="#0a5590" stroke-width="1.2"/>
<circle cx="954.1" cy="914.9" r="9.3" fill="#0072BD" stroke="#0a5590" stroke-width="1.2"/>
<circle cx="956.8" cy="925.4" r="9.3" fill="#0072BD" stroke="#0a5590" stroke-width="1.2"/>
<circle cx="947.6" cy="934.6" r="9.3" fill="#0072BD" stroke="#0a5590" stroke-width="1.2"/>
<circle cx="941.0" cy="946.4" r="9.3" fill="#0072BD" stroke="#0a5590" stroke-width="1.2"/>
<circle cx="1028.4" cy="960.3" r="9.3" fill="#0072BD" stroke="#0a5590" stroke-width="1.2"/>
<circle cx="1045.3" cy="969.6" r="9.3" fill="#0072BD" stroke="#0a5590" stroke-width="1.2"/>
<circle cx="1091.9" cy="979.0" r="9.3" fill="#0072BD" stroke="#0a5590" stroke-width="1.2"/>
<circle cx="1123.2" cy="987.4" r="9.3" fill="#0072BD" stroke="#0a5590" stroke-width="1.2"/>
<circle cx="1114.7" cy="996.7" r="9.3" fill="#0072BD" stroke="#0a5590" stroke-width="1.2"/>
<circle cx="1082.6" cy="1006.0" r="9.3" fill="#0072BD" stroke="#0a5590" stroke-width="1.2"/>
<circle cx="1040.2" cy="1014.5" r="9.3" fill="#0072BD" stroke="#0a5590" stroke-width="1.2"/>
<circle cx="1065.6" cy="1023.0" r="9.3" fill="#0072BD" stroke="#0a5590" stroke-width="1.2"/>
<circle cx="1063.9" cy="1031.4" r="9.3" fill="#0072BD" stroke="#0a5590" stroke-width="1.2"/>
<circle cx="1083.4" cy="1039.9" r="9.3" fill="#0072BD" stroke="#0a5590" stroke-width="1.2"/>
<circle cx="1106.3" cy="1047.5" r="9.3" fill="#0072BD" stroke="#0a5590" stroke-width="1.2"/>
<circle cx="1098.7" cy="1056.8" r="9.3" fill="#0072BD" stroke="#0a5590" stroke-width="1.2"/>
<circle cx="1075.8" cy="1065.3" r="9.3" fill="#0072BD" stroke="#0a5590" stroke-width="1.2"/>
<g clip-path="url(#cF)">
<polyline points="1128.8,622.9 1089.7,624.0 1080.8,628.4 1085.2,634.0 1062.9,638.5 1076.3,640.7 1091.9,648.5 1076.3,651.9 1056.2,653.0 1062.9,658.6 1054.0,667.5 1029.4,669.7 1022.7,674.2 993.7,676.4 987.0,685.4 1002.6,685.4 1013.8,692.1 1020.5,696.5 1004.8,701.0 998.1,707.7 991.4,716.6 984.7,725.6 998.1,733.4 1021.6,736.7 1076.3,741.2 1100.8,744.5 1103.1,750.1 1091.9,756.8 1056.2,759.1 1009.3,763.5 1011.9,765.2 1004.0,767.9 991.4,770.2 990.9,782.3 1019.7,790.2 998.7,792.8 1017.1,799.4 989.6,802.0 998.7,809.9 977.8,812.5 959.4,817.8 988.2,823.0 993.5,833.5 1002.7,837.4 983.0,846.6 989.6,854.5 983.0,862.4 1004.0,871.6 983.0,872.9 988.2,884.7 1023.7,887.3 993.5,891.3 976.4,901.8 989.6,907.0 1009.2,913.6 983.0,920.1 988.2,929.3 977.8,938.5 975.1,946.4 987.7,950.2 981.7,955.6 982.7,956.9 970.8,965.4 969.1,973.9 979.3,980.6 986.0,989.1 1023.3,994.2 1025.0,1002.7 975.9,1006.0 979.3,1014.5 970.8,1021.3 962.3,1029.8 977.6,1033.1 982.7,1039.9 969.1,1045.0 977.6,1051.8 972.5,1056.8 986.0,1058.5" fill="none" stroke="#D95319" stroke-width="2.4"/>
</g>
<circle cx="1128.8" cy="622.9" r="9.3" fill="#D95319" stroke="#b0431a" stroke-width="1.2"/>
<circle cx="1089.7" cy="624.0" r="9.3" fill="#D95319" stroke="#b0431a" stroke-width="1.2"/>
<circle cx="1087.2" cy="626.2" r="9.3" fill="#D95319" stroke="#b0431a" stroke-width="1.2"/>
<circle cx="1080.8" cy="628.4" r="9.3" fill="#D95319" stroke="#b0431a" stroke-width="1.2"/>
<circle cx="1085.0" cy="631.2" r="9.3" fill="#D95319" stroke="#b0431a" stroke-width="1.2"/>
<circle cx="1085.2" cy="634.0" r="9.3" fill="#D95319" stroke="#b0431a" stroke-width="1.2"/>
<circle cx="1062.9" cy="638.5" r="9.3" fill="#D95319" stroke="#b0431a" stroke-width="1.2"/>
<circle cx="1071.6" cy="639.6" r="9.3" fill="#D95319" stroke="#b0431a" stroke-width="1.2"/>
<circle cx="1076.3" cy="640.7" r="9.3" fill="#D95319" stroke="#b0431a" stroke-width="1.2"/>
<circle cx="1086.1" cy="644.6" r="9.3" fill="#D95319" stroke="#b0431a" stroke-width="1.2"/>
<circle cx="1091.9" cy="648.5" r="9.3" fill="#D95319" stroke="#b0431a" stroke-width="1.2"/>
<circle cx="1086.1" cy="650.2" r="9.3" fill="#D95319" stroke="#b0431a" stroke-width="1.2"/>
<circle cx="1076.3" cy="651.9" r="9.3" fill="#D95319" stroke="#b0431a" stroke-width="1.2"/>
<circle cx="1068.2" cy="652.5" r="9.3" fill="#D95319" stroke="#b0431a" stroke-width="1.2"/>
<circle cx="1056.2" cy="653.0" r="9.3" fill="#D95319" stroke="#b0431a" stroke-width="1.2"/>
<circle cx="1061.6" cy="655.8" r="9.3" fill="#D95319" stroke="#b0431a" stroke-width="1.2"/>
<circle cx="1062.9" cy="658.6" r="9.3" fill="#D95319" stroke="#b0431a" stroke-width="1.2"/>
<circle cx="1060.5" cy="663.0" r="9.3" fill="#D95319" stroke="#b0431a" stroke-width="1.2"/>
<circle cx="1054.0" cy="667.5" r="9.3" fill="#D95319" stroke="#b0431a" stroke-width="1.2"/>
<circle cx="1029.4" cy="669.7" r="9.3" fill="#D95319" stroke="#b0431a" stroke-width="1.2"/>
<circle cx="1028.1" cy="672.0" r="9.3" fill="#D95319" stroke="#b0431a" stroke-width="1.2"/>
<circle cx="1022.7" cy="674.2" r="9.3" fill="#D95319" stroke="#b0431a" stroke-width="1.2"/>
<circle cx="993.7" cy="676.4" r="9.3" fill="#D95319" stroke="#b0431a" stroke-width="1.2"/>
<circle cx="992.4" cy="680.9" r="9.3" fill="#D95319" stroke="#b0431a" stroke-width="1.2"/>
<circle cx="987.0" cy="685.4" r="9.3" fill="#D95319" stroke="#b0431a" stroke-width="1.2"/>
<circle cx="1002.6" cy="685.4" r="9.3" fill="#D95319" stroke="#b0431a" stroke-width="1.2"/>
<circle cx="996.8" cy="685.4" r="9.3" fill="#D95319" stroke="#b0431a" stroke-width="1.2"/>
<circle cx="1010.2" cy="688.8" r="9.3" fill="#D95319" stroke="#b0431a" stroke-width="1.2"/>
<circle cx="1013.8" cy="692.1" r="9.3" fill="#D95319" stroke="#b0431a" stroke-width="1.2"/>
<circle cx="1019.1" cy="694.3" r="9.3" fill="#D95319" stroke="#b0431a" stroke-width="1.2"/>
<circle cx="1020.5" cy="696.5" r="9.3" fill="#D95319" stroke="#b0431a" stroke-width="1.2"/>
<circle cx="1014.6" cy="698.8" r="9.3" fill="#D95319" stroke="#b0431a" stroke-width="1.2"/>
<circle cx="1004.8" cy="701.0" r="9.3" fill="#D95319" stroke="#b0431a" stroke-width="1.2"/>
<circle cx="1003.5" cy="704.4" r="9.3" fill="#D95319" stroke="#b0431a" stroke-width="1.2"/>
<circle cx="998.1" cy="707.7" r="9.3" fill="#D95319" stroke="#b0431a" stroke-width="1.2"/>
<circle cx="996.8" cy="712.2" r="9.3" fill="#D95319" stroke="#b0431a" stroke-width="1.2"/>
<circle cx="991.4" cy="716.6" r="9.3" fill="#D95319" stroke="#b0431a" stroke-width="1.2"/>
<circle cx="990.0" cy="721.1" r="9.3" fill="#D95319" stroke="#b0431a" stroke-width="1.2"/>
<circle cx="984.7" cy="725.6" r="9.3" fill="#D95319" stroke="#b0431a" stroke-width="1.2"/>
<circle cx="993.4" cy="729.5" r="9.3" fill="#D95319" stroke="#b0431a" stroke-width="1.2"/>
<circle cx="998.1" cy="733.4" r="9.3" fill="#D95319" stroke="#b0431a" stroke-width="1.2"/>
<circle cx="1021.6" cy="736.7" r="9.3" fill="#D95319" stroke="#b0431a" stroke-width="1.2"/>
<circle cx="1076.3" cy="741.2" r="9.3" fill="#D95319" stroke="#b0431a" stroke-width="1.2"/>
<circle cx="1100.8" cy="744.5" r="9.3" fill="#D95319" stroke="#b0431a" stroke-width="1.2"/>
<circle cx="1103.9" cy="747.3" r="9.3" fill="#D95319" stroke="#b0431a" stroke-width="1.2"/>
<circle cx="1103.1" cy="750.1" r="9.3" fill="#D95319" stroke="#b0431a" stroke-width="1.2"/>
<circle cx="1099.5" cy="753.5" r="9.3" fill="#D95319" stroke="#b0431a" stroke-width="1.2"/>
<circle cx="1091.9" cy="756.8" r="9.3" fill="#D95319" stroke="#b0431a" stroke-width="1.2"/>
<circle cx="1056.2" cy="759.1" r="9.3" fill="#D95319" stroke="#b0431a" stroke-width="1.2"/>
<circle cx="1009.3" cy="763.5" r="9.3" fill="#D95319" stroke="#b0431a" stroke-width="1.2"/>
<circle cx="1011.9" cy="765.2" r="9.3" fill="#D95319" stroke="#b0431a" stroke-width="1.2"/>
<circle cx="1010.0" cy="766.5" r="9.3" fill="#D95319" stroke="#b0431a" stroke-width="1.2"/>
<circle cx="1004.0" cy="767.9" r="9.3" fill="#D95319" stroke="#b0431a" stroke-width="1.2"/>
<circle cx="999.7" cy="769.0" r="9.3" fill="#D95319" stroke="#b0431a" stroke-width="1.2"/>
<circle cx="991.4" cy="770.2" r="9.3" fill="#D95319" stroke="#b0431a" stroke-width="1.2"/>
<circle cx="993.1" cy="776.2" r="9.3" fill="#D95319" stroke="#b0431a" stroke-width="1.2"/>
<circle cx="990.9" cy="782.3" r="9.3" fill="#D95319" stroke="#b0431a" stroke-width="1.2"/>
<circle cx="1019.7" cy="790.2" r="9.3" fill="#D95319" stroke="#b0431a" stroke-width="1.2"/>
<circle cx="1011.2" cy="791.5" r="9.3" fill="#D95319" stroke="#b0431a" stroke-width="1.2"/>
<circle cx="998.7" cy="792.8" r="9.3" fill="#D95319" stroke="#b0431a" stroke-width="1.2"/>
<circle cx="1009.9" cy="796.1" r="9.3" fill="#D95319" stroke="#b0431a" stroke-width="1.2"/>
<circle cx="1017.1" cy="799.4" r="9.3" fill="#D95319" stroke="#b0431a" stroke-width="1.2"/>
<circle cx="989.6" cy="802.0" r="9.3" fill="#D95319" stroke="#b0431a" stroke-width="1.2"/>
<circle cx="996.2" cy="806.0" r="9.3" fill="#D95319" stroke="#b0431a" stroke-width="1.2"/>
<circle cx="998.7" cy="809.9" r="9.3" fill="#D95319" stroke="#b0431a" stroke-width="1.2"/>
<circle cx="990.2" cy="811.2" r="9.3" fill="#D95319" stroke="#b0431a" stroke-width="1.2"/>
<circle cx="977.8" cy="812.5" r="9.3" fill="#D95319" stroke="#b0431a" stroke-width="1.2"/>
<circle cx="970.6" cy="815.1" r="9.3" fill="#D95319" stroke="#b0431a" stroke-width="1.2"/>
<circle cx="959.4" cy="817.8" r="9.3" fill="#D95319" stroke="#b0431a" stroke-width="1.2"/>
<circle cx="988.2" cy="823.0" r="9.3" fill="#D95319" stroke="#b0431a" stroke-width="1.2"/>
<circle cx="992.9" cy="828.2" r="9.3" fill="#D95319" stroke="#b0431a" stroke-width="1.2"/>
<circle cx="993.5" cy="833.5" r="9.3" fill="#D95319" stroke="#b0431a" stroke-width="1.2"/>
<circle cx="1000.1" cy="835.5" r="9.3" fill="#D95319" stroke="#b0431a" stroke-width="1.2"/>
<circle cx="1002.7" cy="837.4" r="9.3" fill="#D95319" stroke="#b0431a" stroke-width="1.2"/>
<circle cx="994.9" cy="842.0" r="9.3" fill="#D95319" stroke="#b0431a" stroke-width="1.2"/>
<circle cx="983.0" cy="846.6" r="9.3" fill="#D95319" stroke="#b0431a" stroke-width="1.2"/>
<circle cx="988.3" cy="850.5" r="9.3" fill="#D95319" stroke="#b0431a" stroke-width="1.2"/>
<circle cx="989.6" cy="854.5" r="9.3" fill="#D95319" stroke="#b0431a" stroke-width="1.2"/>
<circle cx="988.3" cy="858.5" r="9.3" fill="#D95319" stroke="#b0431a" stroke-width="1.2"/>
<circle cx="983.0" cy="862.4" r="9.3" fill="#D95319" stroke="#b0431a" stroke-width="1.2"/>
<circle cx="1004.0" cy="871.6" r="9.3" fill="#D95319" stroke="#b0431a" stroke-width="1.2"/>
<circle cx="995.5" cy="872.2" r="9.3" fill="#D95319" stroke="#b0431a" stroke-width="1.2"/>
<circle cx="983.0" cy="872.9" r="9.3" fill="#D95319" stroke="#b0431a" stroke-width="1.2"/>
<circle cx="987.6" cy="878.8" r="9.3" fill="#D95319" stroke="#b0431a" stroke-width="1.2"/>
<circle cx="988.2" cy="884.7" r="9.3" fill="#D95319" stroke="#b0431a" stroke-width="1.2"/>
<circle cx="1023.7" cy="887.3" r="9.3" fill="#D95319" stroke="#b0431a" stroke-width="1.2"/>
<circle cx="993.5" cy="891.3" r="9.3" fill="#D95319" stroke="#b0431a" stroke-width="1.2"/>
<circle cx="987.0" cy="896.5" r="9.3" fill="#D95319" stroke="#b0431a" stroke-width="1.2"/>
<circle cx="976.4" cy="901.8" r="9.3" fill="#D95319" stroke="#b0431a" stroke-width="1.2"/>
<circle cx="985.0" cy="904.4" r="9.3" fill="#D95319" stroke="#b0431a" stroke-width="1.2"/>
<circle cx="989.6" cy="907.0" r="9.3" fill="#D95319" stroke="#b0431a" stroke-width="1.2"/>
<circle cx="1001.4" cy="910.3" r="9.3" fill="#D95319" stroke="#b0431a" stroke-width="1.2"/>
<circle cx="1009.2" cy="913.6" r="9.3" fill="#D95319" stroke="#b0431a" stroke-width="1.2"/>
<circle cx="983.0" cy="920.1" r="9.3" fill="#D95319" stroke="#b0431a" stroke-width="1.2"/>
<circle cx="987.6" cy="924.7" r="9.3" fill="#D95319" stroke="#b0431a" stroke-width="1.2"/>
<circle cx="988.2" cy="929.3" r="9.3" fill="#D95319" stroke="#b0431a" stroke-width="1.2"/>
<circle cx="985.0" cy="933.9" r="9.3" fill="#D95319" stroke="#b0431a" stroke-width="1.2"/>
<circle cx="977.8" cy="938.5" r="9.3" fill="#D95319" stroke="#b0431a" stroke-width="1.2"/>
<circle cx="978.5" cy="942.5" r="9.3" fill="#D95319" stroke="#b0431a" stroke-width="1.2"/>
<circle cx="975.1" cy="946.4" r="9.3" fill="#D95319" stroke="#b0431a" stroke-width="1.2"/>
<circle cx="983.4" cy="948.3" r="9.3" fill="#D95319" stroke="#b0431a" stroke-width="1.2"/>
<circle cx="987.7" cy="950.2" r="9.3" fill="#D95319" stroke="#b0431a" stroke-width="1.2"/>
<circle cx="986.7" cy="952.9" r="9.3" fill="#D95319" stroke="#b0431a" stroke-width="1.2"/>
<circle cx="981.7" cy="955.6" r="9.3" fill="#D95319" stroke="#b0431a" stroke-width="1.2"/>
<circle cx="982.7" cy="956.9" r="9.3" fill="#D95319" stroke="#b0431a" stroke-width="1.2"/>
<circle cx="978.8" cy="961.1" r="9.3" fill="#D95319" stroke="#b0431a" stroke-width="1.2"/>
<circle cx="970.8" cy="965.4" r="9.3" fill="#D95319" stroke="#b0431a" stroke-width="1.2"/>
<circle cx="972.0" cy="969.6" r="9.3" fill="#D95319" stroke="#b0431a" stroke-width="1.2"/>
<circle cx="969.1" cy="973.9" r="9.3" fill="#D95319" stroke="#b0431a" stroke-width="1.2"/>
<circle cx="976.2" cy="977.2" r="9.3" fill="#D95319" stroke="#b0431a" stroke-width="1.2"/>
<circle cx="979.3" cy="980.6" r="9.3" fill="#D95319" stroke="#b0431a" stroke-width="1.2"/>
<circle cx="984.6" cy="984.9" r="9.3" fill="#D95319" stroke="#b0431a" stroke-width="1.2"/>
<circle cx="986.0" cy="989.1" r="9.3" fill="#D95319" stroke="#b0431a" stroke-width="1.2"/>
<circle cx="1023.3" cy="994.2" r="9.3" fill="#D95319" stroke="#b0431a" stroke-width="1.2"/>
<circle cx="1026.2" cy="998.5" r="9.3" fill="#D95319" stroke="#b0431a" stroke-width="1.2"/>
<circle cx="1025.0" cy="1002.7" r="9.3" fill="#D95319" stroke="#b0431a" stroke-width="1.2"/>
<circle cx="975.9" cy="1006.0" r="9.3" fill="#D95319" stroke="#b0431a" stroke-width="1.2"/>
<circle cx="979.6" cy="1010.2" r="9.3" fill="#D95319" stroke="#b0431a" stroke-width="1.2"/>
<circle cx="979.3" cy="1014.5" r="9.3" fill="#D95319" stroke="#b0431a" stroke-width="1.2"/>
<circle cx="977.0" cy="1017.9" r="9.3" fill="#D95319" stroke="#b0431a" stroke-width="1.2"/>
<circle cx="970.8" cy="1021.3" r="9.3" fill="#D95319" stroke="#b0431a" stroke-width="1.2"/>
<circle cx="968.5" cy="1025.5" r="9.3" fill="#D95319" stroke="#b0431a" stroke-width="1.2"/>
<circle cx="962.3" cy="1029.8" r="9.3" fill="#D95319" stroke="#b0431a" stroke-width="1.2"/>
<circle cx="972.0" cy="1031.4" r="9.3" fill="#D95319" stroke="#b0431a" stroke-width="1.2"/>
<circle cx="977.6" cy="1033.1" r="9.3" fill="#D95319" stroke="#b0431a" stroke-width="1.2"/>
<circle cx="982.2" cy="1036.5" r="9.3" fill="#D95319" stroke="#b0431a" stroke-width="1.2"/>
<circle cx="982.7" cy="1039.9" r="9.3" fill="#D95319" stroke="#b0431a" stroke-width="1.2"/>
<circle cx="977.9" cy="1042.5" r="9.3" fill="#D95319" stroke="#b0431a" stroke-width="1.2"/>
<circle cx="969.1" cy="1045.0" r="9.3" fill="#D95319" stroke="#b0431a" stroke-width="1.2"/>
<circle cx="975.4" cy="1048.4" r="9.3" fill="#D95319" stroke="#b0431a" stroke-width="1.2"/>
<circle cx="977.6" cy="1051.8" r="9.3" fill="#D95319" stroke="#b0431a" stroke-width="1.2"/>
<circle cx="977.0" cy="1054.3" r="9.3" fill="#D95319" stroke="#b0431a" stroke-width="1.2"/>
<circle cx="972.5" cy="1056.8" r="9.3" fill="#D95319" stroke="#b0431a" stroke-width="1.2"/>
<circle cx="981.2" cy="1057.7" r="9.3" fill="#D95319" stroke="#b0431a" stroke-width="1.2"/>
<circle cx="986.0" cy="1058.5" r="9.3" fill="#D95319" stroke="#b0431a" stroke-width="1.2"/>
<line x1="929.3" y1="619.6" x2="1201.5" y2="619.6" stroke="#262626" stroke-width="1.6"/>
<line x1="929.3" y1="1079.4" x2="1201.5" y2="1079.4" stroke="#262626" stroke-width="1.6"/>
<line x1="929.3" y1="619.6" x2="929.3" y2="1079.4" stroke="#1f4a70" stroke-width="1.6"/>
<line x1="1201.5" y1="619.6" x2="1201.5" y2="1079.4" stroke="#a0503a" stroke-width="1.6"/>
<line x1="929.3" y1="619.6" x2="932.8" y2="619.6" stroke="#1f4a70" stroke-width="1.2"/>
<line x1="1198.0" y1="619.6" x2="1201.5" y2="619.6" stroke="#a0503a" stroke-width="1.2"/>
<text x="919.3" y="626.9" fill="#285a88" font-size="20" text-anchor="end" >0</text>
<text x="1211.0" y="626.9" fill="#a0503a" font-size="20" text-anchor="start" >0</text>
<line x1="929.3" y1="696.2" x2="932.8" y2="696.2" stroke="#1f4a70" stroke-width="1.2"/>
<line x1="1198.0" y1="696.2" x2="1201.5" y2="696.2" stroke="#a0503a" stroke-width="1.2"/>
<text x="919.3" y="703.5" fill="#285a88" font-size="20" text-anchor="end" >5</text>
<text x="1211.0" y="703.5" fill="#a0503a" font-size="20" text-anchor="start" >50</text>
<line x1="929.3" y1="772.9" x2="932.8" y2="772.9" stroke="#1f4a70" stroke-width="1.2"/>
<line x1="1198.0" y1="772.9" x2="1201.5" y2="772.9" stroke="#a0503a" stroke-width="1.2"/>
<text x="919.3" y="780.2" fill="#285a88" font-size="20" text-anchor="end" >10</text>
<text x="1211.0" y="780.2" fill="#a0503a" font-size="20" text-anchor="start" >100</text>
<line x1="929.3" y1="849.5" x2="932.8" y2="849.5" stroke="#1f4a70" stroke-width="1.2"/>
<line x1="1198.0" y1="849.5" x2="1201.5" y2="849.5" stroke="#a0503a" stroke-width="1.2"/>
<text x="919.3" y="856.8" fill="#285a88" font-size="20" text-anchor="end" >15</text>
<text x="1211.0" y="856.8" fill="#a0503a" font-size="20" text-anchor="start" >150</text>
<line x1="929.3" y1="926.1" x2="932.8" y2="926.1" stroke="#1f4a70" stroke-width="1.2"/>
<line x1="1198.0" y1="926.1" x2="1201.5" y2="926.1" stroke="#a0503a" stroke-width="1.2"/>
<text x="919.3" y="933.4" fill="#285a88" font-size="20" text-anchor="end" >20</text>
<text x="1211.0" y="933.4" fill="#a0503a" font-size="20" text-anchor="start" >200</text>
<line x1="929.3" y1="1002.8" x2="932.8" y2="1002.8" stroke="#1f4a70" stroke-width="1.2"/>
<line x1="1198.0" y1="1002.8" x2="1201.5" y2="1002.8" stroke="#a0503a" stroke-width="1.2"/>
<text x="919.3" y="1010.1" fill="#285a88" font-size="20" text-anchor="end" >25</text>
<text x="1211.0" y="1010.1" fill="#a0503a" font-size="20" text-anchor="start" >250</text>
<line x1="929.3" y1="1079.4" x2="932.8" y2="1079.4" stroke="#1f4a70" stroke-width="1.2"/>
<line x1="1198.0" y1="1079.4" x2="1201.5" y2="1079.4" stroke="#a0503a" stroke-width="1.2"/>
<text x="919.3" y="1086.7" fill="#285a88" font-size="20" text-anchor="end" >30</text>
<text x="1211.0" y="1086.7" fill="#a0503a" font-size="20" text-anchor="start" >300</text>
<line x1="929.3" y1="1079.4" x2="929.3" y2="1075.9" stroke="#262626" stroke-width="1.2"/>
<line x1="929.3" y1="619.6" x2="929.3" y2="623.1" stroke="#262626" stroke-width="1.2"/>
<line x1="974.7" y1="1079.4" x2="974.7" y2="1075.9" stroke="#262626" stroke-width="1.2"/>
<line x1="974.7" y1="619.6" x2="974.7" y2="623.1" stroke="#262626" stroke-width="1.2"/>
<line x1="1020.0" y1="1079.4" x2="1020.0" y2="1075.9" stroke="#262626" stroke-width="1.2"/>
<line x1="1020.0" y1="619.6" x2="1020.0" y2="623.1" stroke="#262626" stroke-width="1.2"/>
<line x1="1065.4" y1="1079.4" x2="1065.4" y2="1075.9" stroke="#262626" stroke-width="1.2"/>
<line x1="1065.4" y1="619.6" x2="1065.4" y2="623.1" stroke="#262626" stroke-width="1.2"/>
<line x1="1110.8" y1="1079.4" x2="1110.8" y2="1075.9" stroke="#262626" stroke-width="1.2"/>
<line x1="1110.8" y1="619.6" x2="1110.8" y2="623.1" stroke="#262626" stroke-width="1.2"/>
<line x1="1156.1" y1="1079.4" x2="1156.1" y2="1075.9" stroke="#262626" stroke-width="1.2"/>
<line x1="1156.1" y1="619.6" x2="1156.1" y2="623.1" stroke="#262626" stroke-width="1.2"/>
<line x1="1201.5" y1="1079.4" x2="1201.5" y2="1075.9" stroke="#262626" stroke-width="1.2"/>
<line x1="1201.5" y1="619.6" x2="1201.5" y2="623.1" stroke="#262626" stroke-width="1.2"/>
<text x="929.5" y="1113.3" fill="#262626" font-size="20" text-anchor="end" >10</text>
<text x="930.0" y="1104.6" fill="#262626" font-size="15.5" text-anchor="start" >-10</text>
<text x="1161.5" y="1113.3" fill="#262626" font-size="20" text-anchor="end" >10</text>
<text x="1162.0" y="1104.6" fill="#262626" font-size="15.5" text-anchor="start" >-5</text>
<text x="933.0" y="661.8" font-family="Liberation Serif" font-weight="bold" font-size="45.5" fill="#000">F</text>
<text x="1009" y="1161" font-family="Liberation Serif" font-style="italic" font-size="28" fill="#262626">&#1013;</text>
<text x="1027.0" y="1161.0" fill="#262626" font-size="28" text-anchor="start" >/ Wkg</text>
<text x="1103.0" y="1148.3" fill="#262626" font-size="21" text-anchor="start" >-1</text>
<text x="0" y="0" fill="#a0503a" font-size="28" text-anchor="middle" transform="translate(1280.3,849.5) rotate(-90)">Depth / m</text>
<text x="0" y="0" fill="#285a88" font-size="28" text-anchor="middle" transform="translate(52.5,852) rotate(-90)">Depth / m</text>
<defs><clipPath id="cG"><rect x="103.8" y="1215.9" width="1102.3" height="229.7"/></clipPath></defs>
<line x1="137.9" y1="1215.9" x2="137.9" y2="1445.6" stroke="#c8c8c8" stroke-width="1" stroke-dasharray="3,3"/><line x1="219.1" y1="1215.9" x2="219.1" y2="1445.6" stroke="#c8c8c8" stroke-width="1" stroke-dasharray="3,3"/><line x1="276.7" y1="1215.9" x2="276.7" y2="1445.6" stroke="#c8c8c8" stroke-width="1" stroke-dasharray="3,3"/><line x1="321.4" y1="1215.9" x2="321.4" y2="1445.6" stroke="#c8c8c8" stroke-width="1" stroke-dasharray="3,3"/><line x1="357.9" y1="1215.9" x2="357.9" y2="1445.6" stroke="#c8c8c8" stroke-width="1" stroke-dasharray="3,3"/><line x1="388.8" y1="1215.9" x2="388.8" y2="1445.6" stroke="#c8c8c8" stroke-width="1" stroke-dasharray="3,3"/><line x1="415.5" y1="1215.9" x2="415.5" y2="1445.6" stroke="#c8c8c8" stroke-width="1" stroke-dasharray="3,3"/><line x1="439.1" y1="1215.9" x2="439.1" y2="1445.6" stroke="#c8c8c8" stroke-width="1" stroke-dasharray="3,3"/><line x1="599.0" y1="1215.9" x2="599.0" y2="1445.6" stroke="#c8c8c8" stroke-width="1" stroke-dasharray="3,3"/><line x1="680.2" y1="1215.9" x2="680.2" y2="1445.6" stroke="#c8c8c8" stroke-width="1" stroke-dasharray="3,3"/><line x1="737.8" y1="1215.9" x2="737.8" y2="1445.6" stroke="#c8c8c8" stroke-width="1" stroke-dasharray="3,3"/><line x1="782.5" y1="1215.9" x2="782.5" y2="1445.6" stroke="#c8c8c8" stroke-width="1" stroke-dasharray="3,3"/><line x1="819.0" y1="1215.9" x2="819.0" y2="1445.6" stroke="#c8c8c8" stroke-width="1" stroke-dasharray="3,3"/><line x1="849.9" y1="1215.9" x2="849.9" y2="1445.6" stroke="#c8c8c8" stroke-width="1" stroke-dasharray="3,3"/><line x1="876.6" y1="1215.9" x2="876.6" y2="1445.6" stroke="#c8c8c8" stroke-width="1" stroke-dasharray="3,3"/><line x1="900.2" y1="1215.9" x2="900.2" y2="1445.6" stroke="#c8c8c8" stroke-width="1" stroke-dasharray="3,3"/><line x1="1060.1" y1="1215.9" x2="1060.1" y2="1445.6" stroke="#c8c8c8" stroke-width="1" stroke-dasharray="3,3"/><line x1="1141.3" y1="1215.9" x2="1141.3" y2="1445.6" stroke="#c8c8c8" stroke-width="1" stroke-dasharray="3,3"/><line x1="1198.9" y1="1215.9" x2="1198.9" y2="1445.6" stroke="#c8c8c8" stroke-width="1" stroke-dasharray="3,3"/><line x1="460.2" y1="1215.9" x2="460.2" y2="1445.6" stroke="#d0d0d0" stroke-width="1"/><line x1="921.3" y1="1215.9" x2="921.3" y2="1445.6" stroke="#d0d0d0" stroke-width="1"/><line x1="107.8" y1="1244.6" x2="1202.1" y2="1244.6" stroke="#c8c8c8" stroke-width="1" stroke-dasharray="3,3"/><line x1="107.8" y1="1273.3" x2="1202.1" y2="1273.3" stroke="#c8c8c8" stroke-width="1" stroke-dasharray="3,3"/><line x1="107.8" y1="1302.0" x2="1202.1" y2="1302.0" stroke="#c8c8c8" stroke-width="1" stroke-dasharray="3,3"/><line x1="107.8" y1="1330.8" x2="1202.1" y2="1330.8" stroke="#c8c8c8" stroke-width="1" stroke-dasharray="3,3"/><line x1="107.8" y1="1359.5" x2="1202.1" y2="1359.5" stroke="#d0d0d0" stroke-width="1"/><line x1="107.8" y1="1388.2" x2="1202.1" y2="1388.2" stroke="#c8c8c8" stroke-width="1" stroke-dasharray="3,3"/><line x1="107.8" y1="1416.9" x2="1202.1" y2="1416.9" stroke="#c8c8c8" stroke-width="1" stroke-dasharray="3,3"/>
<g clip-path="url(#cG)">
<polyline points="113.9,1307.0 118.0,1306.6 122.2,1306.7 126.3,1306.5 130.4,1306.3 134.6,1305.9 138.7,1306.0 142.8,1305.9 147.0,1305.5 151.1,1305.3 155.2,1305.0 159.3,1304.7 163.5,1304.7 167.6,1304.6 171.7,1304.2 175.9,1304.4 180.0,1303.9 184.1,1303.7 188.3,1303.5 192.4,1303.5 196.7,1303.4 200.9,1302.9 205.2,1302.6 209.4,1302.1 213.7,1301.5 218.0,1301.3 222.2,1301.0 226.5,1300.5 230.8,1300.5 235.0,1299.9 239.3,1299.4 243.5,1299.4 247.8,1298.9 251.9,1298.8 256.0,1299.4 260.1,1299.2 264.2,1299.4 268.4,1299.4 272.5,1299.6 276.6,1299.6 280.7,1299.6 284.8,1300.0 288.9,1300.2 293.0,1299.9 297.1,1300.1 301.3,1299.9 305.4,1300.2 309.5,1300.2 313.6,1300.1 317.7,1300.1 321.8,1300.0 325.9,1300.1 330.1,1299.8 334.2,1300.0 338.3,1300.2 342.4,1299.9 346.5,1300.2 350.6,1300.2 354.7,1300.0 358.9,1299.9 363.0,1300.0 367.1,1299.9 371.2,1300.2 375.3,1299.9 379.4,1299.8 383.5,1299.8 387.7,1300.1 391.8,1300.2 395.9,1300.0 400.0,1300.0 404.1,1300.2 408.2,1300.4 412.2,1300.7 416.3,1300.7 420.4,1301.1 424.5,1301.3 428.5,1301.5 432.6,1301.5 436.7,1301.7 440.8,1302.0 444.8,1302.5 448.9,1302.4 453.0,1302.7 457.1,1302.8 461.1,1302.9 465.2,1303.1 469.3,1303.5 473.3,1303.6 477.3,1303.5 481.4,1303.3 485.4,1303.4 489.4,1303.3 493.4,1303.4 497.4,1303.4 501.4,1303.0 505.5,1303.3 509.5,1303.2 513.5,1303.0 517.5,1303.1 521.5,1302.8 525.5,1302.7 529.6,1302.6 533.6,1302.9 537.6,1302.4 541.6,1302.3 545.6,1302.7 549.6,1302.6 553.7,1302.4 557.7,1302.5 561.7,1302.3 565.8,1302.0 569.8,1302.0 573.9,1302.0 578.0,1302.0 582.1,1301.8 586.1,1301.7 590.2,1301.8 594.3,1302.0 598.3,1302.0 602.4,1302.1 606.5,1301.5 610.5,1301.0 614.6,1302.4 618.7,1301.4 622.8,1301.8 626.8,1300.3 630.9,1301.2 635.5,1301.8 640.2,1303.5 644.8,1302.2 649.4,1300.2 654.0,1297.7 658.6,1300.1 663.2,1301.1 667.9,1302.4 672.5,1304.3 677.1,1305.8 681.7,1306.0 686.3,1304.5 691.0,1304.5 695.6,1303.5 700.2,1303.5 705.9,1305.0 711.5,1305.4 716.1,1301.5 720.8,1299.6 725.0,1301.3 729.3,1303.2 733.5,1302.7 737.7,1305.2 742.0,1306.6 746.2,1307.7 750.8,1306.9 755.4,1304.8 760.0,1303.1 764.0,1303.1 768.1,1303.8 772.1,1305.3 776.2,1305.7 780.2,1304.6 784.3,1304.9 788.4,1305.4 792.4,1306.6 797.0,1306.3 801.6,1307.9 806.3,1307.9 810.9,1310.1 815.5,1310.0 820.1,1308.9 824.7,1306.4 829.3,1305.7 833.9,1304.2 839.7,1309.6 845.5,1315.8 850.1,1310.0 854.1,1310.0 858.2,1309.4 862.2,1309.3 866.3,1310.0 870.9,1310.2 875.5,1311.5 880.2,1313.0 884.8,1313.5 891.7,1317.0 896.0,1316.8 900.3,1315.4 904.6,1316.4 908.8,1316.4 913.1,1315.8 917.4,1315.5 921.7,1314.6 926.3,1314.2 930.9,1315.8 936.7,1319.2 942.5,1322.7 947.1,1319.5 951.8,1318.6 956.4,1315.8 962.1,1320.9 967.9,1327.3 974.8,1320.4 979.5,1322.0 984.1,1322.7 991.0,1319.3 996.8,1322.9 1000.2,1321.2 1002.0,1322.0 1003.5,1350.8 1006.9,1355.9 1011.1,1356.3 1015.4,1358.0 1019.6,1358.1 1023.9,1359.3 1028.1,1361.7 1032.3,1366.0 1036.5,1365.8 1040.8,1366.0 1045.9,1366.5 1051.0,1367.7 1054.4,1371.1 1057.7,1366.0 1062.0,1371.9 1066.2,1376.2 1070.5,1377.5 1074.7,1379.6 1078.1,1386.4 1083.1,1381.3 1088.2,1394.8 1095.0,1393.1 1100.1,1401.6 1103.5,1394.8 1108.5,1408.4 1115.3,1406.7 1117.0,1418.5 1123.8,1413.5 1130.6,1423.6 1133.9,1428.7 1138.2,1429.6 1142.4,1430.4 1146.7,1432.2 1150.9,1433.8 1155.1,1435.5 1159.3,1435.5 1163.5,1434.7 1167.8,1435.5 1172.0,1436.6 1176.3,1437.2 1180.5,1438.1 1184.7,1438.9 1189.0,1439.4 1193.2,1438.9 1197.5,1439.8 1201.7,1438.9" fill="none" stroke="#0072BD" stroke-width="4.0" stroke-linejoin="round" stroke-linecap="round"/>
<polyline points="106.9,1310.4 111.1,1310.8 115.2,1310.5 119.4,1310.6 123.5,1311.3 127.7,1311.0 131.9,1311.1 136.0,1311.5 140.2,1311.5 144.3,1312.0 148.5,1311.8 152.7,1312.3 156.8,1312.1 161.0,1312.4 165.1,1312.8 169.3,1312.7 173.4,1313.1 177.6,1313.5 181.7,1313.7 185.8,1313.7 190.0,1314.4 194.1,1314.6 198.2,1314.7 202.4,1315.0 206.5,1315.6 210.6,1315.8 214.7,1316.3 218.9,1316.5 223.0,1316.9 227.1,1317.0 231.3,1317.4 235.4,1317.6 239.5,1317.8 243.7,1318.4 247.8,1318.5 251.8,1318.6 255.8,1319.1 259.8,1319.4 263.8,1319.5 267.8,1319.5 271.8,1320.1 275.8,1320.2 279.9,1320.2 283.9,1320.4 287.9,1320.8 291.9,1320.8 295.9,1321.5 299.9,1321.5 303.9,1321.8 307.9,1322.0 311.9,1321.9 315.9,1322.0 319.9,1322.1 323.9,1321.8 327.9,1321.8 331.9,1321.9 335.9,1321.7 339.9,1321.8 343.9,1321.7 347.9,1321.7 351.9,1321.8 356.0,1321.6 360.0,1321.4 364.0,1321.8 368.0,1321.5 372.0,1321.5 376.0,1321.4 380.0,1321.7 384.0,1321.6 388.0,1321.4 392.0,1321.3 396.0,1321.1 400.0,1321.3 404.1,1321.8 408.2,1321.7 412.4,1322.1 416.5,1322.3 420.6,1322.5 424.7,1322.8 428.9,1323.0 433.0,1323.2 437.1,1323.7 441.2,1324.1 445.3,1324.3 449.5,1324.3 453.6,1324.8 457.7,1325.0 462.0,1325.0 466.4,1325.4 470.7,1325.8 475.0,1326.0 479.4,1326.0 483.7,1326.4 488.1,1326.4 492.4,1326.6 496.7,1325.9 501.0,1325.2 505.4,1324.7 509.7,1323.8 514.0,1323.0 518.4,1322.4 522.7,1321.6 527.0,1320.8 531.3,1320.7 535.7,1320.9 540.0,1321.0 544.4,1320.9 548.7,1321.0 553.0,1320.6 557.4,1320.8 561.7,1320.8 567.5,1323.2 573.2,1325.4 579.0,1323.6 584.8,1322.0 589.4,1323.0 594.0,1324.4 598.6,1325.4 603.2,1326.6 607.8,1323.8 612.5,1321.1 617.1,1319.7 621.7,1322.2 626.3,1322.5 630.9,1324.3 635.5,1323.8 640.1,1324.3 644.8,1324.6 649.4,1325.4 654.0,1327.8 658.7,1328.2 663.3,1330.5 667.9,1329.1 672.5,1327.8 677.1,1327.7 681.7,1327.6 686.3,1327.0 690.8,1327.1 695.4,1327.8 700.0,1327.3 704.3,1327.8 708.6,1327.3 712.9,1325.4 717.1,1325.7 721.4,1326.4 725.7,1324.4 730.0,1325.0 734.6,1326.8 739.3,1329.7 743.3,1327.9 747.3,1326.0 751.4,1325.0 755.4,1322.7 760.0,1327.8 764.7,1331.9 769.3,1336.6 775.0,1332.6 780.8,1329.7 784.8,1330.0 788.9,1330.9 793.0,1331.4 797.0,1333.1 801.6,1335.7 806.2,1337.7 810.2,1336.6 814.3,1337.6 818.4,1336.7 822.4,1335.1 826.5,1335.6 830.5,1335.4 834.6,1333.8 838.6,1334.3 844.4,1338.3 850.1,1342.4 854.3,1340.1 858.4,1340.1 862.6,1337.2 866.7,1337.1 870.9,1335.4 876.6,1339.9 882.4,1342.4 888.2,1339.6 894.0,1335.4 900.9,1345.8 905.5,1344.1 910.1,1343.6 914.8,1341.6 919.4,1341.2 924.0,1344.3 928.6,1348.1 932.6,1346.8 936.7,1344.7 940.8,1341.0 944.8,1340.0 948.8,1341.2 952.9,1343.2 957.0,1343.7 961.0,1345.8 965.6,1344.5 970.2,1342.7 974.8,1340.0 979.5,1344.2 984.1,1348.1 990.0,1349.1 995.1,1342.3 1000.2,1349.1 1001.9,1381.3 1005.2,1383.0 1012.0,1379.6 1018.0,1381.9 1023.9,1384.7 1028.1,1388.7 1032.3,1391.4 1036.5,1390.6 1040.8,1389.8 1047.6,1399.9 1052.7,1400.1 1057.7,1401.6 1062.0,1405.4 1066.2,1410.1 1070.5,1412.0 1074.7,1415.2 1078.9,1419.2 1083.1,1421.9 1087.3,1421.9 1091.6,1421.9 1095.8,1424.4 1100.0,1426.8 1104.3,1429.2 1108.5,1430.4 1112.8,1431.5 1117.0,1433.6 1121.2,1436.2 1125.5,1437.2 1129.7,1436.9 1133.9,1435.5 1138.2,1437.8 1142.4,1440.6 1146.7,1440.1 1150.9,1438.9 1155.1,1439.1 1159.3,1440.6 1163.5,1438.2 1167.8,1437.2 1172.0,1438.9 1176.3,1442.3 1180.5,1441.2 1184.7,1440.6 1189.0,1440.9 1193.2,1442.3 1197.5,1441.5 1201.7,1440.6" fill="none" stroke="#D95319" stroke-width="4.0" stroke-linejoin="round" stroke-linecap="round"/>
<polyline points="113.9,1306.5 122.4,1306.1 134.1,1305.5 148.0,1304.8 163.0,1304.1 178.1,1303.5 192.4,1303.0 205.5,1302.7 218.2,1302.4 231.1,1302.2 244.6,1302.0 259.2,1301.8 275.5,1301.6 294.2,1301.3 315.1,1300.9 337.2,1300.6 359.3,1300.2 380.6,1299.9 400.0,1299.6 417.3,1299.4 433.2,1299.1 448.2,1298.9 462.8,1298.8 477.4,1298.6 492.4,1298.4 508.3,1298.2 524.9,1298.0 541.5,1297.8 557.4,1297.6 572.1,1297.4 584.8,1297.3 594.9,1297.3 602.7,1297.3 609.3,1297.3 615.5,1297.4 622.4,1297.5 630.9,1297.7 641.1,1297.9 652.3,1298.0 664.1,1298.2 676.3,1298.5 688.4,1299.0 700.2,1299.6 711.7,1300.4 723.2,1301.4 734.8,1302.5 746.3,1303.7 757.8,1305.1 769.3,1306.6 780.8,1308.3 792.4,1310.1 803.9,1312.1 815.5,1314.1 827.0,1316.1 838.6,1318.1 850.5,1320.0 862.9,1322.0 875.3,1324.0 887.2,1326.0 898.2,1327.9 907.9,1329.7 915.7,1331.4 921.8,1333.0 927.0,1334.6 932.1,1336.2 937.8,1337.8 944.8,1339.6 953.4,1341.5 962.9,1343.4 973.1,1345.5 983.5,1347.5 993.7,1349.6 1003.5,1351.7 1011.8,1353.6 1018.6,1355.3 1025.3,1357.0 1033.1,1359.0 1043.5,1361.4 1057.7,1364.4 1078.2,1368.6 1104.4,1373.8 1133.1,1379.5 1161.0,1385.1 1185.0,1389.8 1201.7,1393.1" fill="none" stroke="#000" stroke-width="2.4" stroke-linejoin="round" stroke-linecap="round"/>
<polyline points="106.9,1324.3 120.9,1323.9 139.9,1323.3 162.7,1322.7 187.6,1322.0 213.4,1321.4 238.6,1320.8 264.3,1320.3 291.9,1319.9 320.3,1319.5 348.5,1319.2 375.4,1318.8 400.0,1318.5 422.4,1318.2 443.6,1317.8 463.5,1317.5 482.1,1317.2 499.5,1317.0 515.5,1316.9 530.0,1316.9 542.9,1317.0 554.5,1317.1 565.1,1317.3 575.1,1317.6 584.8,1318.0 593.6,1318.4 601.0,1318.9 607.9,1319.5 614.7,1320.1 622.1,1321.0 630.9,1322.0 640.7,1323.1 651.0,1324.4 661.9,1325.7 673.6,1327.3 686.3,1329.3 700.1,1331.6 715.6,1334.5 732.7,1337.9 750.8,1341.7 769.2,1345.5 787.1,1349.3 803.9,1352.7 819.3,1355.8 834.0,1358.6 848.1,1361.3 862.2,1364.1 876.6,1366.9 891.7,1370.0 907.8,1373.4 924.8,1377.0 942.1,1380.7 959.1,1384.4 975.3,1388.0 990.0,1391.4 1002.2,1394.4 1012.0,1397.0 1021.0,1399.5 1030.6,1402.1 1042.4,1405.0 1057.7,1408.4 1079.0,1412.6 1105.4,1417.7 1133.9,1423.0 1161.5,1428.1 1185.2,1432.4 1201.7,1435.5" fill="none" stroke="#000" stroke-width="2.4" stroke-linejoin="round" stroke-linecap="round"/>
<polygon points="905.5,1295.7 890.5,1323.4 922.9,1323.4" fill="#0072BD"/>
<polygon points="821.2,1323.9 805.1,1351.6 838.6,1351.6" fill="#D95319"/>
</g>
<rect x="107.8" y="1215.9" width="1094.3" height="229.7" fill="none" stroke="#262626" stroke-width="1.6"/>
<line x1="137.9" y1="1445.6" x2="137.9" y2="1442.4" stroke="#262626" stroke-width="1.2"/><line x1="137.9" y1="1215.9" x2="137.9" y2="1219.1" stroke="#262626" stroke-width="1.2"/><line x1="219.1" y1="1445.6" x2="219.1" y2="1442.4" stroke="#262626" stroke-width="1.2"/><line x1="219.1" y1="1215.9" x2="219.1" y2="1219.1" stroke="#262626" stroke-width="1.2"/><line x1="276.7" y1="1445.6" x2="276.7" y2="1442.4" stroke="#262626" stroke-width="1.2"/><line x1="276.7" y1="1215.9" x2="276.7" y2="1219.1" stroke="#262626" stroke-width="1.2"/><line x1="321.4" y1="1445.6" x2="321.4" y2="1442.4" stroke="#262626" stroke-width="1.2"/><line x1="321.4" y1="1215.9" x2="321.4" y2="1219.1" stroke="#262626" stroke-width="1.2"/><line x1="357.9" y1="1445.6" x2="357.9" y2="1442.4" stroke="#262626" stroke-width="1.2"/><line x1="357.9" y1="1215.9" x2="357.9" y2="1219.1" stroke="#262626" stroke-width="1.2"/><line x1="388.8" y1="1445.6" x2="388.8" y2="1442.4" stroke="#262626" stroke-width="1.2"/><line x1="388.8" y1="1215.9" x2="388.8" y2="1219.1" stroke="#262626" stroke-width="1.2"/><line x1="415.5" y1="1445.6" x2="415.5" y2="1442.4" stroke="#262626" stroke-width="1.2"/><line x1="415.5" y1="1215.9" x2="415.5" y2="1219.1" stroke="#262626" stroke-width="1.2"/><line x1="439.1" y1="1445.6" x2="439.1" y2="1442.4" stroke="#262626" stroke-width="1.2"/><line x1="439.1" y1="1215.9" x2="439.1" y2="1219.1" stroke="#262626" stroke-width="1.2"/><line x1="460.2" y1="1445.6" x2="460.2" y2="1440.1" stroke="#262626" stroke-width="1.2"/><line x1="460.2" y1="1215.9" x2="460.2" y2="1221.4" stroke="#262626" stroke-width="1.2"/><line x1="599.0" y1="1445.6" x2="599.0" y2="1442.4" stroke="#262626" stroke-width="1.2"/><line x1="599.0" y1="1215.9" x2="599.0" y2="1219.1" stroke="#262626" stroke-width="1.2"/><line x1="680.2" y1="1445.6" x2="680.2" y2="1442.4" stroke="#262626" stroke-width="1.2"/><line x1="680.2" y1="1215.9" x2="680.2" y2="1219.1" stroke="#262626" stroke-width="1.2"/><line x1="737.8" y1="1445.6" x2="737.8" y2="1442.4" stroke="#262626" stroke-width="1.2"/><line x1="737.8" y1="1215.9" x2="737.8" y2="1219.1" stroke="#262626" stroke-width="1.2"/><line x1="782.5" y1="1445.6" x2="782.5" y2="1442.4" stroke="#262626" stroke-width="1.2"/><line x1="782.5" y1="1215.9" x2="782.5" y2="1219.1" stroke="#262626" stroke-width="1.2"/><line x1="819.0" y1="1445.6" x2="819.0" y2="1442.4" stroke="#262626" stroke-width="1.2"/><line x1="819.0" y1="1215.9" x2="819.0" y2="1219.1" stroke="#262626" stroke-width="1.2"/><line x1="849.9" y1="1445.6" x2="849.9" y2="1442.4" stroke="#262626" stroke-width="1.2"/><line x1="849.9" y1="1215.9" x2="849.9" y2="1219.1" stroke="#262626" stroke-width="1.2"/><line x1="876.6" y1="1445.6" x2="876.6" y2="1442.4" stroke="#262626" stroke-width="1.2"/><line x1="876.6" y1="1215.9" x2="876.6" y2="1219.1" stroke="#262626" stroke-width="1.2"/><line x1="900.2" y1="1445.6" x2="900.2" y2="1442.4" stroke="#262626" stroke-width="1.2"/><line x1="900.2" y1="1215.9" x2="900.2" y2="1219.1" stroke="#262626" stroke-width="1.2"/><line x1="921.3" y1="1445.6" x2="921.3" y2="1440.1" stroke="#262626" stroke-width="1.2"/><line x1="921.3" y1="1215.9" x2="921.3" y2="1221.4" stroke="#262626" stroke-width="1.2"/><line x1="1060.1" y1="1445.6" x2="1060.1" y2="1442.4" stroke="#262626" stroke-width="1.2"/><line x1="1060.1" y1="1215.9" x2="1060.1" y2="1219.1" stroke="#262626" stroke-width="1.2"/><line x1="1141.3" y1="1445.6" x2="1141.3" y2="1442.4" stroke="#262626" stroke-width="1.2"/><line x1="1141.3" y1="1215.9" x2="1141.3" y2="1219.1" stroke="#262626" stroke-width="1.2"/><line x1="1198.9" y1="1445.6" x2="1198.9" y2="1442.4" stroke="#262626" stroke-width="1.2"/><line x1="1198.9" y1="1215.9" x2="1198.9" y2="1219.1" stroke="#262626" stroke-width="1.2"/><line x1="107.8" y1="1215.9" x2="113.3" y2="1215.9" stroke="#262626" stroke-width="1.2"/><line x1="1196.6" y1="1215.9" x2="1202.1" y2="1215.9" stroke="#262626" stroke-width="1.2"/><line x1="107.8" y1="1244.6" x2="111.0" y2="1244.6" stroke="#262626" stroke-width="1.2"/><line x1="1198.9" y1="1244.6" x2="1202.1" y2="1244.6" stroke="#262626" stroke-width="1.2"/><line x1="107.8" y1="1273.3" x2="111.0" y2="1273.3" stroke="#262626" stroke-width="1.2"/><line x1="1198.9" y1="1273.3" x2="1202.1" y2="1273.3" stroke="#262626" stroke-width="1.2"/><line x1="107.8" y1="1302.0" x2="111.0" y2="1302.0" stroke="#262626" stroke-width="1.2"/><line x1="1198.9" y1="1302.0" x2="1202.1" y2="1302.0" stroke="#262626" stroke-width="1.2"/><line x1="107.8" y1="1330.8" x2="111.0" y2="1330.8" stroke="#262626" stroke-width="1.2"/><line x1="1198.9" y1="1330.8" x2="1202.1" y2="1330.8" stroke="#262626" stroke-width="1.2"/><line x1="107.8" y1="1359.5" x2="113.3" y2="1359.5" stroke="#262626" stroke-width="1.2"/><line x1="1196.6" y1="1359.5" x2="1202.1" y2="1359.5" stroke="#262626" stroke-width="1.2"/><line x1="107.8" y1="1388.2" x2="111.0" y2="1388.2" stroke="#262626" stroke-width="1.2"/><line x1="1198.9" y1="1388.2" x2="1202.1" y2="1388.2" stroke="#262626" stroke-width="1.2"/><line x1="107.8" y1="1416.9" x2="111.0" y2="1416.9" stroke="#262626" stroke-width="1.2"/><line x1="1198.9" y1="1416.9" x2="1202.1" y2="1416.9" stroke="#262626" stroke-width="1.2"/><line x1="107.8" y1="1445.6" x2="111.0" y2="1445.6" stroke="#262626" stroke-width="1.2"/><line x1="1198.9" y1="1445.6" x2="1202.1" y2="1445.6" stroke="#262626" stroke-width="1.2"/>
<text x="109.5" y="1258.5" font-family="Liberation Serif" font-weight="bold" font-size="45.5" fill="#000">G</text>
<text x="456.4" y="1479.3" fill="#262626" font-size="19.5" text-anchor="middle" >10</text>
<text x="468.5" y="1470.0" fill="#262626" font-size="17" text-anchor="start" >1</text>
<text x="916.4" y="1479.3" fill="#262626" font-size="19.5" text-anchor="middle" >10</text>
<text x="927.0" y="1470.8" fill="#262626" font-size="17" text-anchor="start" >2</text>
<text x="88.0" y="1225.4" fill="#262626" font-size="18" text-anchor="end" >10</text>
<text x="88.5" y="1217.0" fill="#262626" font-size="13" text-anchor="start" >0</text>
<text x="81.0" y="1370.0" fill="#262626" font-size="18" text-anchor="end" >10</text>
<text x="84.0" y="1360.0" fill="#262626" font-size="13" text-anchor="start" >-5</text>
<text x="604.5" y="1511.3" font-size="27" fill="#262626" font-style="italic">k</text>
<text x="634" y="1511.3" font-size="27" fill="#262626">/</text>
<text x="650.5" y="1511.3" font-size="27" fill="#262626">cpm</text>
<g transform="translate(34.7,1437) rotate(-90)"><text x="-1.5" y="0.0" font-size="27" fill="#262626" font-family="Liberation Serif">&#934;</text><text x="28.5" y="0.0" font-size="27" fill="#262626">(</text><text x="39.0" y="0.0" font-size="27" fill="#262626" font-style="italic">k</text><text x="52.3" y="0.0" font-size="27" fill="#262626">)</text><text x="78.0" y="0.0" font-size="27" fill="#262626">/</text><text x="95.0" y="0.0" font-size="27" fill="#262626">s</text><text x="110.5" y="-13.4" font-size="21" fill="#262626">-2</text><text x="139.2" y="0.0" font-size="27" fill="#262626">cpm</text><text x="194.0" y="-13.4" font-size="21" fill="#262626">-1</text></g>
</svg></body></html>
